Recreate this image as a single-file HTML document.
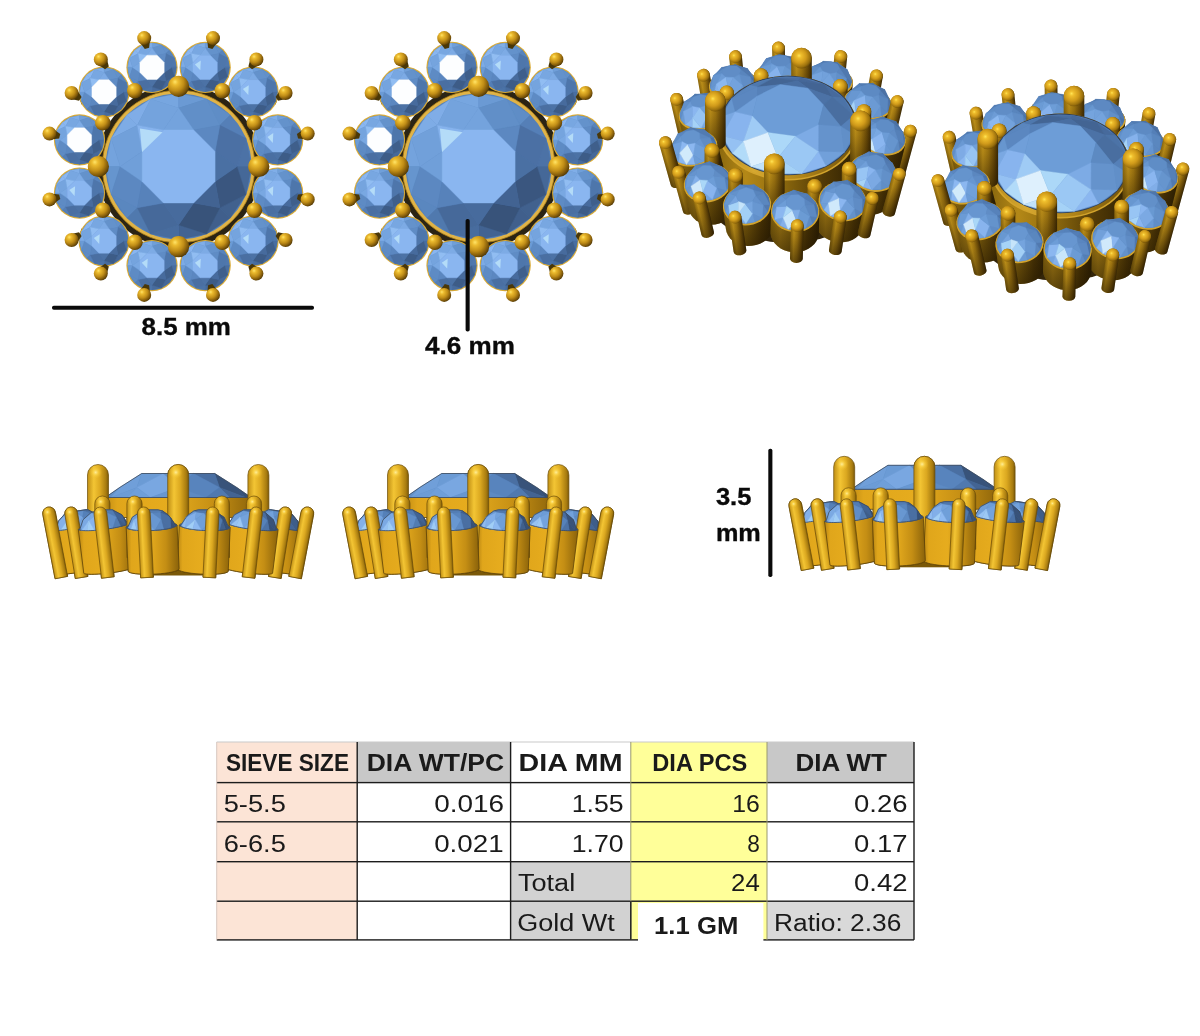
<!DOCTYPE html>
<html><head><meta charset="utf-8"><title>Earring spec</title>
<style>
html,body{margin:0;padding:0;background:#fff}
body{width:1200px;height:1036px;position:relative;overflow:hidden;font-family:"Liberation Sans",sans-serif}
</style></head><body>
<svg width="1200" height="1036" viewBox="0 0 1200 1036" style="position:absolute;left:0;top:0">
<defs>
<radialGradient id="gs" cx="0.36" cy="0.34" r="0.72" fx="0.33" fy="0.29">
 <stop offset="0" stop-color="#ffe468"/><stop offset="0.2" stop-color="#ecbb2e"/>
 <stop offset="0.55" stop-color="#c08d17"/><stop offset="0.82" stop-color="#80590a"/><stop offset="1" stop-color="#4a3405"/>
</radialGradient>
<radialGradient id="gs2" cx="0.4" cy="0.42" r="0.62" fx="0.38" fy="0.38">
 <stop offset="0" stop-color="#ffe455"/><stop offset="0.18" stop-color="#efbe2c"/>
 <stop offset="0.55" stop-color="#d09a1a"/><stop offset="0.85" stop-color="#9a700d"/><stop offset="1" stop-color="#6a4b07"/>
</radialGradient>
<linearGradient id="gsh" x1="0" y1="0" x2="0" y2="1">
 <stop offset="0" stop-color="#1a1000" stop-opacity="0"/><stop offset="0.3" stop-color="#1a1000" stop-opacity="0.12"/><stop offset="1" stop-color="#1a1000" stop-opacity="0.55"/>
</linearGradient>
<radialGradient id="hl" cx="0.5" cy="0.5" r="0.5">
 <stop offset="0" stop-color="#fff0a0" stop-opacity="0.95"/><stop offset="0.45" stop-color="#ffd84a" stop-opacity="0.55"/><stop offset="1" stop-color="#f0c030" stop-opacity="0"/>
</radialGradient>
<linearGradient id="gcap" x1="0" y1="0" x2="1" y2="0">
 <stop offset="0" stop-color="#8f6a0d"/><stop offset="0.26" stop-color="#c4951a"/>
 <stop offset="0.52" stop-color="#a57a11"/><stop offset="0.82" stop-color="#6a4a07"/><stop offset="1" stop-color="#3e2b04"/>
</linearGradient>
<linearGradient id="gcapS" x1="0" y1="0" x2="1" y2="0">
 <stop offset="0" stop-color="#c08f15"/><stop offset="0.3" stop-color="#f3c534"/>
 <stop offset="0.6" stop-color="#dba820"/><stop offset="0.88" stop-color="#a87c10"/><stop offset="1" stop-color="#7a5808"/>
</linearGradient>
<linearGradient id="gcyl" x1="0" y1="0" x2="1" y2="0">
 <stop offset="0" stop-color="#8a680e"/><stop offset="0.2" stop-color="#b48817"/>
 <stop offset="0.45" stop-color="#8f6b0e"/><stop offset="0.75" stop-color="#523a06"/><stop offset="1" stop-color="#2e2003"/>
</linearGradient>
<linearGradient id="glip" x1="0" y1="0" x2="1" y2="0">
 <stop offset="0" stop-color="#b88c1c"/><stop offset="0.25" stop-color="#d6a830"/>
 <stop offset="0.6" stop-color="#b08418"/><stop offset="1" stop-color="#6e500a"/>
</linearGradient>
<linearGradient id="gcylS" x1="0" y1="0" x2="1" y2="0">
 <stop offset="0" stop-color="#b98512"/><stop offset="0.1" stop-color="#e0a61b"/><stop offset="0.45" stop-color="#e6ac1e"/>
 <stop offset="0.75" stop-color="#c48e14"/><stop offset="1" stop-color="#8a620a"/>
</linearGradient>
</defs>
<g id="tv">
<circle cx="178.6" cy="166.5" r="82" fill="#2b2414"/>
<polygon points="150.6,36.4 137.8,39.8 151.9,51.6 144.3,53.6" fill="#4a3707" />
<polygon points="106.1,55.5 95.4,63.3 112.8,69.2 106.4,73.8" fill="#4a3707" />
<polygon points="75.4,87.5 67.9,98.4 86.2,98.2 81.7,104.7" fill="#4a3707" />
<polygon points="51.2,127.2 47.9,140.0 65.0,133.5 63.1,141.1" fill="#4a3707" />
<polygon points="137.8,293.2 150.6,296.6 144.3,279.4 151.9,281.4" fill="#4a3707" />
<polygon points="95.4,269.7 106.1,277.5 106.4,259.2 112.8,263.8" fill="#4a3707" />
<polygon points="67.9,234.6 75.4,245.5 81.7,228.3 86.2,234.8" fill="#4a3707" />
<polygon points="47.9,193.0 51.2,205.8 63.1,191.9 65.0,199.5" fill="#4a3707" />
<polygon points="219.4,39.8 206.6,36.4 212.9,53.6 205.3,51.6" fill="#4a3707" />
<polygon points="261.8,63.3 251.1,55.5 250.8,73.8 244.4,69.2" fill="#4a3707" />
<polygon points="289.3,98.4 281.8,87.5 275.5,104.7 271.0,98.2" fill="#4a3707" />
<polygon points="309.3,140.0 306.0,127.2 294.1,141.1 292.2,133.5" fill="#4a3707" />
<polygon points="206.6,296.6 219.4,293.2 205.3,281.4 212.9,279.4" fill="#4a3707" />
<polygon points="251.1,277.5 261.8,269.7 244.4,263.8 250.8,259.2" fill="#4a3707" />
<polygon points="281.8,245.5 289.3,234.6 271.0,234.8 275.5,228.3" fill="#4a3707" />
<polygon points="306.0,205.8 309.3,193.0 292.2,199.5 294.1,191.9" fill="#4a3707" />
<circle cx="152.0" cy="67.4" r="25.6" fill="#d9aa35"/>
<polygon points="127.8,67.4 127.9,64.9 128.3,62.3 128.9,59.9 129.6,58.1 129.8,57.5 131.0,55.2 132.4,53.1 134.0,51.1 134.9,50.2 135.8,49.3 137.8,47.7 139.9,46.4 142.2,45.2 142.8,45.0 144.5,44.3 147.0,43.6 149.5,43.2 152.1,43.1 154.6,43.2 157.1,43.6 159.6,44.3 161.3,45.0 161.9,45.2 164.2,46.4 166.3,47.7 168.3,49.3 169.2,50.2 170.1,51.1 171.7,53.1 173.1,55.2 174.2,57.5 174.5,58.1 175.2,59.9 175.8,62.3 176.2,64.9 176.3,67.4 176.2,69.9 175.8,72.5 175.2,74.9 174.5,76.7 174.2,77.3 173.1,79.5 171.7,81.7 170.1,83.7 169.2,84.6 168.3,85.5 166.3,87.1 164.2,88.4 161.9,89.6 161.3,89.8 159.6,90.5 157.1,91.2 154.6,91.6 152.1,91.7 149.5,91.6 147.0,91.2 144.5,90.5 142.8,89.8 142.2,89.6 139.9,88.4 137.8,87.1 135.8,85.5 134.9,84.6 134.0,83.7 132.4,81.7 131.0,79.5 129.8,77.3 129.6,76.7 128.9,74.9 128.3,72.5 127.9,69.9" fill="#5580b8" />
<polygon points="152.0,48.0 142.7,44.9 152.0,43.1" fill="#80aee8" stroke="#80aee8" stroke-width="0.4"/>
<polygon points="152.0,48.0 152.0,43.1 161.3,44.9" fill="#709fd9" stroke="#709fd9" stroke-width="0.4"/>
<polygon points="138.3,53.6 134.9,50.2 142.7,44.9" fill="#8bb7f0" stroke="#8bb7f0" stroke-width="0.4"/>
<polygon points="165.8,53.6 161.3,44.9 169.2,50.2" fill="#6391ca" stroke="#6391ca" stroke-width="0.4"/>
<polygon points="138.3,53.6 129.6,58.1 134.9,50.2" fill="#8ab6f0" stroke="#8ab6f0" stroke-width="0.4"/>
<polygon points="165.8,53.6 169.2,50.2 174.5,58.1" fill="#5884bc" stroke="#5884bc" stroke-width="0.4"/>
<polygon points="171.5,67.4 174.5,58.1 176.3,67.4" fill="#5078ad" stroke="#5078ad" stroke-width="0.4"/>
<polygon points="132.6,67.4 127.7,67.4 129.6,58.1" fill="#7dabe5" stroke="#7dabe5" stroke-width="0.4"/>
<polygon points="171.5,67.4 176.3,67.4 174.5,76.7" fill="#496ea1" stroke="#496ea1" stroke-width="0.4"/>
<polygon points="132.6,67.4 129.6,76.7 127.7,67.4" fill="#6b9bd5" stroke="#6b9bd5" stroke-width="0.4"/>
<polygon points="165.8,81.1 174.5,76.7 169.2,84.6" fill="#466999" stroke="#466999" stroke-width="0.4"/>
<polygon points="138.3,81.1 134.9,84.6 129.6,76.7" fill="#5e8bc4" stroke="#5e8bc4" stroke-width="0.4"/>
<polygon points="165.8,81.1 169.2,84.6 161.3,89.8" fill="#456798" stroke="#456798" stroke-width="0.4"/>
<polygon points="138.3,81.1 142.7,89.8 134.9,84.6" fill="#547eb6" stroke="#547eb6" stroke-width="0.4"/>
<polygon points="152.0,86.8 161.3,89.8 152.0,91.7" fill="#476b9d" stroke="#476b9d" stroke-width="0.4"/>
<polygon points="152.0,86.8 152.0,91.7 142.7,89.8" fill="#4c73a7" stroke="#4c73a7" stroke-width="0.4"/>
<polygon points="147.0,55.2 138.3,53.6 142.7,44.9 152.0,48.0" fill="#78a7e1" stroke="#78a7e1" stroke-width="0.4"/>
<polygon points="157.1,55.2 152.0,48.0 161.3,44.9 165.8,53.6" fill="#6492cb" stroke="#6492cb" stroke-width="0.4"/>
<polygon points="139.9,62.4 132.6,67.4 129.6,58.1 138.3,53.6" fill="#75a4de" stroke="#75a4de" stroke-width="0.4"/>
<polygon points="164.2,62.4 165.8,53.6 174.5,58.1 171.5,67.4" fill="#4e76ab" stroke="#4e76ab" stroke-width="0.4"/>
<polygon points="164.2,72.4 171.5,67.4 174.5,76.7 165.8,81.1" fill="#3f5f8b" stroke="#3f5f8b" stroke-width="0.4"/>
<polygon points="139.9,72.4 138.3,81.1 129.6,76.7 132.6,67.4" fill="#5e8bc4" stroke="#5e8bc4" stroke-width="0.4"/>
<polygon points="157.1,79.5 165.8,81.1 161.3,89.8 152.0,86.8" fill="#3d5c87" stroke="#3d5c87" stroke-width="0.4"/>
<polygon points="147.0,79.5 152.0,86.8 142.7,89.8 138.3,81.1" fill="#4a6fa2" stroke="#4a6fa2" stroke-width="0.4"/>
<polygon points="139.9,62.4 138.3,53.6 147.0,55.2" fill="#91bdf2" stroke="#91bdf2" stroke-width="0.4"/>
<polygon points="147.0,55.2 152.0,48.0 157.1,55.2" fill="#7dabe5" stroke="#7dabe5" stroke-width="0.4"/>
<polygon points="157.1,55.2 165.8,53.6 164.2,62.4" fill="#5f8cc5" stroke="#5f8cc5" stroke-width="0.4"/>
<polygon points="164.2,62.4 171.5,67.4 164.2,72.4" fill="#4e76ab" stroke="#4e76ab" stroke-width="0.4"/>
<polygon points="139.9,72.4 132.6,67.4 139.9,62.4" fill="#79a8e2" stroke="#79a8e2" stroke-width="0.4"/>
<polygon points="164.2,72.4 165.8,81.1 157.1,79.5" fill="#476b9d" stroke="#476b9d" stroke-width="0.4"/>
<polygon points="157.1,79.5 152.0,86.8 147.0,79.5" fill="#4c72a5" stroke="#4c72a5" stroke-width="0.4"/>
<polygon points="147.0,79.5 138.3,81.1 139.9,72.4" fill="#5b87c0" stroke="#5b87c0" stroke-width="0.4"/>
<polygon points="164.2,72.4 157.1,79.5 147.0,79.5 139.9,72.4 139.9,62.4 147.0,55.2 157.1,55.2 164.2,62.4" fill="#fdfeff" stroke="#fdfeff" stroke-width="0.4"/>
<circle cx="205.2" cy="67.4" r="25.6" fill="#d9aa35"/>
<polygon points="180.8,67.4 181.0,64.9 181.4,62.3 182.0,59.9 182.7,58.1 183.0,57.5 184.1,55.2 185.5,53.1 187.1,51.1 188.0,50.2 188.9,49.3 190.9,47.7 193.0,46.4 195.3,45.2 195.9,45.0 197.7,44.3 200.1,43.6 202.6,43.2 205.2,43.1 207.7,43.2 210.2,43.6 212.7,44.3 214.4,45.0 215.0,45.2 217.3,46.4 219.4,47.7 221.4,49.3 222.3,50.2 223.2,51.1 224.8,53.1 226.2,55.2 227.3,57.5 227.6,58.1 228.3,59.9 228.9,62.3 229.3,64.9 229.4,67.4 229.3,69.9 228.9,72.5 228.3,74.9 227.6,76.7 227.3,77.3 226.2,79.5 224.8,81.7 223.2,83.7 222.3,84.6 221.4,85.5 219.4,87.1 217.3,88.4 215.0,89.6 214.4,89.8 212.7,90.5 210.2,91.2 207.7,91.6 205.2,91.7 202.6,91.6 200.1,91.2 197.7,90.5 195.9,89.8 195.3,89.6 193.0,88.4 190.9,87.1 188.9,85.5 188.0,84.6 187.1,83.7 185.5,81.7 184.1,79.5 183.0,77.3 182.7,76.7 182.0,74.9 181.4,72.5 181.0,69.9" fill="#5580b8" />
<polygon points="205.2,48.0 195.9,44.9 205.2,43.1" fill="#80aee8" stroke="#80aee8" stroke-width="0.4"/>
<polygon points="205.2,48.0 205.2,43.1 214.5,44.9" fill="#709fd9" stroke="#709fd9" stroke-width="0.4"/>
<polygon points="191.4,53.6 188.0,50.2 195.9,44.9" fill="#8bb7f0" stroke="#8bb7f0" stroke-width="0.4"/>
<polygon points="218.9,53.6 214.5,44.9 222.3,50.2" fill="#6391ca" stroke="#6391ca" stroke-width="0.4"/>
<polygon points="191.4,53.6 182.7,58.1 188.0,50.2" fill="#8ab6f0" stroke="#8ab6f0" stroke-width="0.4"/>
<polygon points="218.9,53.6 222.3,50.2 227.6,58.1" fill="#5884bc" stroke="#5884bc" stroke-width="0.4"/>
<polygon points="224.6,67.4 227.6,58.1 229.5,67.4" fill="#5078ad" stroke="#5078ad" stroke-width="0.4"/>
<polygon points="185.7,67.4 180.9,67.4 182.7,58.1" fill="#7dabe5" stroke="#7dabe5" stroke-width="0.4"/>
<polygon points="224.6,67.4 229.5,67.4 227.6,76.7" fill="#496ea1" stroke="#496ea1" stroke-width="0.4"/>
<polygon points="185.7,67.4 182.7,76.7 180.9,67.4" fill="#6b9bd5" stroke="#6b9bd5" stroke-width="0.4"/>
<polygon points="218.9,81.1 227.6,76.7 222.3,84.6" fill="#466999" stroke="#466999" stroke-width="0.4"/>
<polygon points="191.4,81.1 188.0,84.6 182.7,76.7" fill="#5e8bc4" stroke="#5e8bc4" stroke-width="0.4"/>
<polygon points="218.9,81.1 222.3,84.6 214.5,89.8" fill="#456798" stroke="#456798" stroke-width="0.4"/>
<polygon points="191.4,81.1 195.9,89.8 188.0,84.6" fill="#547eb6" stroke="#547eb6" stroke-width="0.4"/>
<polygon points="205.2,86.8 214.5,89.8 205.2,91.7" fill="#476b9d" stroke="#476b9d" stroke-width="0.4"/>
<polygon points="205.2,86.8 205.2,91.7 195.9,89.8" fill="#4c73a7" stroke="#4c73a7" stroke-width="0.4"/>
<polygon points="200.1,55.2 191.4,53.6 195.9,44.9 205.2,48.0" fill="#78a7e1" stroke="#78a7e1" stroke-width="0.4"/>
<polygon points="210.2,55.2 205.2,48.0 214.5,44.9 218.9,53.6" fill="#6492cb" stroke="#6492cb" stroke-width="0.4"/>
<polygon points="193.0,62.4 185.7,67.4 182.7,58.1 191.4,53.6" fill="#75a4de" stroke="#75a4de" stroke-width="0.4"/>
<polygon points="217.3,62.4 218.9,53.6 227.6,58.1 224.6,67.4" fill="#4e76ab" stroke="#4e76ab" stroke-width="0.4"/>
<polygon points="217.3,72.4 224.6,67.4 227.6,76.7 218.9,81.1" fill="#3f5f8b" stroke="#3f5f8b" stroke-width="0.4"/>
<polygon points="193.0,72.4 191.4,81.1 182.7,76.7 185.7,67.4" fill="#5e8bc4" stroke="#5e8bc4" stroke-width="0.4"/>
<polygon points="210.2,79.5 218.9,81.1 214.5,89.8 205.2,86.8" fill="#3d5c87" stroke="#3d5c87" stroke-width="0.4"/>
<polygon points="200.1,79.5 205.2,86.8 195.9,89.8 191.4,81.1" fill="#4a6fa2" stroke="#4a6fa2" stroke-width="0.4"/>
<polygon points="193.0,62.4 191.4,53.6 200.1,55.2" fill="#91bdf2" stroke="#91bdf2" stroke-width="0.4"/>
<polygon points="200.1,55.2 205.2,48.0 210.2,55.2" fill="#7dabe5" stroke="#7dabe5" stroke-width="0.4"/>
<polygon points="210.2,55.2 218.9,53.6 217.3,62.4" fill="#5f8cc5" stroke="#5f8cc5" stroke-width="0.4"/>
<polygon points="217.3,62.4 224.6,67.4 217.3,72.4" fill="#4e76ab" stroke="#4e76ab" stroke-width="0.4"/>
<polygon points="193.0,72.4 185.7,67.4 193.0,62.4" fill="#79a8e2" stroke="#79a8e2" stroke-width="0.4"/>
<polygon points="217.3,72.4 218.9,81.1 210.2,79.5" fill="#476b9d" stroke="#476b9d" stroke-width="0.4"/>
<polygon points="210.2,79.5 205.2,86.8 200.1,79.5" fill="#4c72a5" stroke="#4c72a5" stroke-width="0.4"/>
<polygon points="200.1,79.5 191.4,81.1 193.0,72.4" fill="#5b87c0" stroke="#5b87c0" stroke-width="0.4"/>
<polygon points="217.3,72.4 210.2,79.5 200.1,79.5 193.0,72.4 193.0,62.4 200.1,55.2 210.2,55.2 217.3,62.4" fill="#8ab6f0" stroke="#8ab6f0" stroke-width="0.4"/>
<polygon points="194.9,64.5 200.8,60.6 200.3,70.3" fill="#b4dcf8" />
<circle cx="253.1" cy="92.0" r="25.6" fill="#d9aa35"/>
<polygon points="228.8,92.0 229.0,89.4 229.4,86.9 230.0,84.5 230.7,82.7 230.9,82.1 232.1,79.8 233.5,77.7 235.1,75.7 235.9,74.8 236.9,73.9 238.8,72.3 241.0,70.9 243.2,69.8 243.8,69.5 245.6,68.9 248.1,68.2 250.6,67.8 253.1,67.7 255.7,67.8 258.2,68.2 260.6,68.9 262.4,69.5 263.0,69.8 265.3,70.9 267.4,72.3 269.4,73.9 270.3,74.8 271.2,75.7 272.8,77.7 274.2,79.8 275.3,82.1 275.6,82.7 276.2,84.5 276.9,86.9 277.3,89.4 277.4,92.0 277.3,94.5 276.9,97.0 276.2,99.5 275.6,101.3 275.3,101.8 274.2,104.1 272.8,106.2 271.2,108.2 270.3,109.2 269.4,110.0 267.4,111.6 265.3,113.0 263.0,114.2 262.4,114.4 260.6,115.1 258.2,115.7 255.7,116.1 253.1,116.3 250.6,116.1 248.1,115.7 245.6,115.1 243.8,114.4 243.2,114.2 241.0,113.0 238.8,111.6 236.9,110.0 235.9,109.2 235.1,108.2 233.5,106.2 232.1,104.1 230.9,101.8 230.7,101.3 230.0,99.5 229.4,97.0 229.0,94.5" fill="#5580b8" />
<polygon points="253.1,72.5 243.8,69.5 253.1,67.7" fill="#80aee8" stroke="#80aee8" stroke-width="0.4"/>
<polygon points="253.1,72.5 253.1,67.7 262.4,69.5" fill="#709fd9" stroke="#709fd9" stroke-width="0.4"/>
<polygon points="239.4,78.2 235.9,74.8 243.8,69.5" fill="#8bb7f0" stroke="#8bb7f0" stroke-width="0.4"/>
<polygon points="266.9,78.2 262.4,69.5 270.3,74.8" fill="#6391ca" stroke="#6391ca" stroke-width="0.4"/>
<polygon points="239.4,78.2 230.7,82.7 235.9,74.8" fill="#8ab6f0" stroke="#8ab6f0" stroke-width="0.4"/>
<polygon points="266.9,78.2 270.3,74.8 275.6,82.7" fill="#5884bc" stroke="#5884bc" stroke-width="0.4"/>
<polygon points="272.6,92.0 275.6,82.7 277.4,92.0" fill="#5078ad" stroke="#5078ad" stroke-width="0.4"/>
<polygon points="233.7,92.0 228.8,92.0 230.7,82.7" fill="#7dabe5" stroke="#7dabe5" stroke-width="0.4"/>
<polygon points="272.6,92.0 277.4,92.0 275.6,101.3" fill="#496ea1" stroke="#496ea1" stroke-width="0.4"/>
<polygon points="233.7,92.0 230.7,101.3 228.8,92.0" fill="#6b9bd5" stroke="#6b9bd5" stroke-width="0.4"/>
<polygon points="266.9,105.7 275.6,101.3 270.3,109.2" fill="#466999" stroke="#466999" stroke-width="0.4"/>
<polygon points="239.4,105.7 235.9,109.2 230.7,101.3" fill="#5e8bc4" stroke="#5e8bc4" stroke-width="0.4"/>
<polygon points="266.9,105.7 270.3,109.2 262.4,114.4" fill="#456798" stroke="#456798" stroke-width="0.4"/>
<polygon points="239.4,105.7 243.8,114.4 235.9,109.2" fill="#547eb6" stroke="#547eb6" stroke-width="0.4"/>
<polygon points="253.1,111.4 262.4,114.4 253.1,116.3" fill="#476b9d" stroke="#476b9d" stroke-width="0.4"/>
<polygon points="253.1,111.4 253.1,116.3 243.8,114.4" fill="#4c73a7" stroke="#4c73a7" stroke-width="0.4"/>
<polygon points="248.1,79.8 239.4,78.2 243.8,69.5 253.1,72.5" fill="#78a7e1" stroke="#78a7e1" stroke-width="0.4"/>
<polygon points="258.2,79.8 253.1,72.5 262.4,69.5 266.9,78.2" fill="#6492cb" stroke="#6492cb" stroke-width="0.4"/>
<polygon points="241.0,86.9 233.7,92.0 230.7,82.7 239.4,78.2" fill="#75a4de" stroke="#75a4de" stroke-width="0.4"/>
<polygon points="265.3,86.9 266.9,78.2 275.6,82.7 272.6,92.0" fill="#4e76ab" stroke="#4e76ab" stroke-width="0.4"/>
<polygon points="265.3,97.0 272.6,92.0 275.6,101.3 266.9,105.7" fill="#3f5f8b" stroke="#3f5f8b" stroke-width="0.4"/>
<polygon points="241.0,97.0 239.4,105.7 230.7,101.3 233.7,92.0" fill="#5e8bc4" stroke="#5e8bc4" stroke-width="0.4"/>
<polygon points="258.2,104.1 266.9,105.7 262.4,114.4 253.1,111.4" fill="#3d5c87" stroke="#3d5c87" stroke-width="0.4"/>
<polygon points="248.1,104.1 253.1,111.4 243.8,114.4 239.4,105.7" fill="#4a6fa2" stroke="#4a6fa2" stroke-width="0.4"/>
<polygon points="241.0,86.9 239.4,78.2 248.1,79.8" fill="#91bdf2" stroke="#91bdf2" stroke-width="0.4"/>
<polygon points="248.1,79.8 253.1,72.5 258.2,79.8" fill="#7dabe5" stroke="#7dabe5" stroke-width="0.4"/>
<polygon points="258.2,79.8 266.9,78.2 265.3,86.9" fill="#5f8cc5" stroke="#5f8cc5" stroke-width="0.4"/>
<polygon points="265.3,86.9 272.6,92.0 265.3,97.0" fill="#4e76ab" stroke="#4e76ab" stroke-width="0.4"/>
<polygon points="241.0,97.0 233.7,92.0 241.0,86.9" fill="#79a8e2" stroke="#79a8e2" stroke-width="0.4"/>
<polygon points="265.3,97.0 266.9,105.7 258.2,104.1" fill="#476b9d" stroke="#476b9d" stroke-width="0.4"/>
<polygon points="258.2,104.1 253.1,111.4 248.1,104.1" fill="#4c72a5" stroke="#4c72a5" stroke-width="0.4"/>
<polygon points="248.1,104.1 239.4,105.7 241.0,97.0" fill="#5b87c0" stroke="#5b87c0" stroke-width="0.4"/>
<polygon points="265.3,97.0 258.2,104.1 248.1,104.1 241.0,97.0 241.0,86.9 248.1,79.8 258.2,79.8 265.3,86.9" fill="#8ab6f0" stroke="#8ab6f0" stroke-width="0.4"/>
<polygon points="242.9,89.1 248.8,85.2 248.3,94.9" fill="#b4dcf8" />
<circle cx="277.7" cy="139.9" r="25.6" fill="#d9aa35"/>
<polygon points="253.4,139.9 253.5,137.4 253.9,134.9 254.6,132.4 255.2,130.7 255.5,130.1 256.7,127.8 258.0,125.7 259.6,123.7 260.5,122.8 261.4,121.9 263.4,120.3 265.6,118.9 267.8,117.8 268.4,117.5 270.2,116.8 272.6,116.2 275.2,115.8 277.7,115.7 280.2,115.8 282.8,116.2 285.2,116.8 287.0,117.5 287.6,117.8 289.9,118.9 292.0,120.3 294.0,121.9 294.9,122.8 295.8,123.7 297.4,125.7 298.8,127.8 299.9,130.1 300.1,130.7 300.8,132.4 301.5,134.9 301.9,137.4 302.0,139.9 301.9,142.5 301.5,145.0 300.8,147.4 300.1,149.2 299.9,149.8 298.8,152.1 297.4,154.2 295.8,156.2 294.9,157.1 294.0,158.0 292.0,159.6 289.9,161.0 287.6,162.1 287.0,162.4 285.2,163.1 282.8,163.7 280.2,164.1 277.7,164.2 275.2,164.1 272.6,163.7 270.2,163.1 268.4,162.4 267.8,162.1 265.6,161.0 263.4,159.6 261.4,158.0 260.5,157.1 259.6,156.2 258.0,154.2 256.7,152.1 255.5,149.8 255.2,149.2 254.6,147.4 253.9,145.0 253.5,142.5" fill="#5580b8" />
<polygon points="277.7,120.5 268.4,117.5 277.7,115.6" fill="#80aee8" stroke="#80aee8" stroke-width="0.4"/>
<polygon points="277.7,120.5 277.7,115.6 287.0,117.5" fill="#709fd9" stroke="#709fd9" stroke-width="0.4"/>
<polygon points="264.0,126.2 260.5,122.8 268.4,117.5" fill="#8bb7f0" stroke="#8bb7f0" stroke-width="0.4"/>
<polygon points="291.5,126.2 287.0,117.5 294.9,122.8" fill="#6391ca" stroke="#6391ca" stroke-width="0.4"/>
<polygon points="264.0,126.2 255.3,130.6 260.5,122.8" fill="#8ab6f0" stroke="#8ab6f0" stroke-width="0.4"/>
<polygon points="291.5,126.2 294.9,122.8 300.2,130.6" fill="#5884bc" stroke="#5884bc" stroke-width="0.4"/>
<polygon points="297.1,139.9 300.2,130.6 302.0,139.9" fill="#5078ad" stroke="#5078ad" stroke-width="0.4"/>
<polygon points="258.3,139.9 253.4,139.9 255.3,130.6" fill="#7dabe5" stroke="#7dabe5" stroke-width="0.4"/>
<polygon points="297.1,139.9 302.0,139.9 300.2,149.2" fill="#496ea1" stroke="#496ea1" stroke-width="0.4"/>
<polygon points="258.3,139.9 255.3,149.2 253.4,139.9" fill="#6b9bd5" stroke="#6b9bd5" stroke-width="0.4"/>
<polygon points="291.5,153.7 300.2,149.2 294.9,157.1" fill="#466999" stroke="#466999" stroke-width="0.4"/>
<polygon points="264.0,153.7 260.5,157.1 255.3,149.2" fill="#5e8bc4" stroke="#5e8bc4" stroke-width="0.4"/>
<polygon points="291.5,153.7 294.9,157.1 287.0,162.4" fill="#456798" stroke="#456798" stroke-width="0.4"/>
<polygon points="264.0,153.7 268.4,162.4 260.5,157.1" fill="#547eb6" stroke="#547eb6" stroke-width="0.4"/>
<polygon points="277.7,159.4 287.0,162.4 277.7,164.2" fill="#476b9d" stroke="#476b9d" stroke-width="0.4"/>
<polygon points="277.7,159.4 277.7,164.2 268.4,162.4" fill="#4c73a7" stroke="#4c73a7" stroke-width="0.4"/>
<polygon points="272.7,127.8 264.0,126.2 268.4,117.5 277.7,120.5" fill="#78a7e1" stroke="#78a7e1" stroke-width="0.4"/>
<polygon points="282.7,127.8 277.7,120.5 287.0,117.5 291.5,126.2" fill="#6492cb" stroke="#6492cb" stroke-width="0.4"/>
<polygon points="265.6,134.9 258.3,139.9 255.3,130.6 264.0,126.2" fill="#75a4de" stroke="#75a4de" stroke-width="0.4"/>
<polygon points="289.9,134.9 291.5,126.2 300.2,130.6 297.1,139.9" fill="#4e76ab" stroke="#4e76ab" stroke-width="0.4"/>
<polygon points="289.9,145.0 297.1,139.9 300.2,149.2 291.5,153.7" fill="#3f5f8b" stroke="#3f5f8b" stroke-width="0.4"/>
<polygon points="265.6,145.0 264.0,153.7 255.3,149.2 258.3,139.9" fill="#5e8bc4" stroke="#5e8bc4" stroke-width="0.4"/>
<polygon points="282.7,152.1 291.5,153.7 287.0,162.4 277.7,159.4" fill="#3d5c87" stroke="#3d5c87" stroke-width="0.4"/>
<polygon points="272.7,152.1 277.7,159.4 268.4,162.4 264.0,153.7" fill="#4a6fa2" stroke="#4a6fa2" stroke-width="0.4"/>
<polygon points="265.6,134.9 264.0,126.2 272.7,127.8" fill="#91bdf2" stroke="#91bdf2" stroke-width="0.4"/>
<polygon points="272.7,127.8 277.7,120.5 282.7,127.8" fill="#7dabe5" stroke="#7dabe5" stroke-width="0.4"/>
<polygon points="282.7,127.8 291.5,126.2 289.9,134.9" fill="#5f8cc5" stroke="#5f8cc5" stroke-width="0.4"/>
<polygon points="289.9,134.9 297.1,139.9 289.9,145.0" fill="#4e76ab" stroke="#4e76ab" stroke-width="0.4"/>
<polygon points="265.6,145.0 258.3,139.9 265.6,134.9" fill="#79a8e2" stroke="#79a8e2" stroke-width="0.4"/>
<polygon points="289.9,145.0 291.5,153.7 282.7,152.1" fill="#476b9d" stroke="#476b9d" stroke-width="0.4"/>
<polygon points="282.7,152.1 277.7,159.4 272.7,152.1" fill="#4c72a5" stroke="#4c72a5" stroke-width="0.4"/>
<polygon points="272.7,152.1 264.0,153.7 265.6,145.0" fill="#5b87c0" stroke="#5b87c0" stroke-width="0.4"/>
<polygon points="289.9,145.0 282.7,152.1 272.7,152.1 265.6,145.0 265.6,134.9 272.7,127.8 282.7,127.8 289.9,134.9" fill="#8ab6f0" stroke="#8ab6f0" stroke-width="0.4"/>
<polygon points="267.5,137.0 273.3,133.1 272.8,142.9" fill="#b4dcf8" />
<circle cx="277.7" cy="193.1" r="25.6" fill="#d9aa35"/>
<polygon points="253.4,193.1 253.5,190.5 253.9,188.0 254.6,185.6 255.2,183.8 255.5,183.2 256.7,180.9 258.0,178.8 259.6,176.8 260.5,175.9 261.4,175.0 263.4,173.4 265.6,172.0 267.8,170.9 268.4,170.6 270.2,169.9 272.6,169.3 275.2,168.9 277.7,168.8 280.2,168.9 282.8,169.3 285.2,169.9 287.0,170.6 287.6,170.9 289.9,172.0 292.0,173.4 294.0,175.0 294.9,175.9 295.8,176.8 297.4,178.8 298.8,180.9 299.9,183.2 300.1,183.8 300.8,185.6 301.5,188.0 301.9,190.5 302.0,193.1 301.9,195.6 301.5,198.1 300.8,200.6 300.1,202.3 299.9,202.9 298.8,205.2 297.4,207.3 295.8,209.3 294.9,210.2 294.0,211.1 292.0,212.7 289.9,214.1 287.6,215.2 287.0,215.5 285.2,216.2 282.8,216.8 280.2,217.2 277.7,217.3 275.2,217.2 272.6,216.8 270.2,216.2 268.4,215.5 267.8,215.2 265.6,214.1 263.4,212.7 261.4,211.1 260.5,210.2 259.6,209.3 258.0,207.3 256.7,205.2 255.5,202.9 255.2,202.3 254.6,200.6 253.9,198.1 253.5,195.6" fill="#5580b8" />
<polygon points="277.7,173.6 268.4,170.6 277.7,168.8" fill="#80aee8" stroke="#80aee8" stroke-width="0.4"/>
<polygon points="277.7,173.6 277.7,168.8 287.0,170.6" fill="#709fd9" stroke="#709fd9" stroke-width="0.4"/>
<polygon points="264.0,179.3 260.5,175.9 268.4,170.6" fill="#8bb7f0" stroke="#8bb7f0" stroke-width="0.4"/>
<polygon points="291.5,179.3 287.0,170.6 294.9,175.9" fill="#6391ca" stroke="#6391ca" stroke-width="0.4"/>
<polygon points="264.0,179.3 255.3,183.8 260.5,175.9" fill="#8ab6f0" stroke="#8ab6f0" stroke-width="0.4"/>
<polygon points="291.5,179.3 294.9,175.9 300.2,183.8" fill="#5884bc" stroke="#5884bc" stroke-width="0.4"/>
<polygon points="297.1,193.1 300.2,183.8 302.0,193.1" fill="#5078ad" stroke="#5078ad" stroke-width="0.4"/>
<polygon points="258.3,193.1 253.4,193.1 255.3,183.8" fill="#7dabe5" stroke="#7dabe5" stroke-width="0.4"/>
<polygon points="297.1,193.1 302.0,193.1 300.2,202.4" fill="#496ea1" stroke="#496ea1" stroke-width="0.4"/>
<polygon points="258.3,193.1 255.3,202.4 253.4,193.1" fill="#6b9bd5" stroke="#6b9bd5" stroke-width="0.4"/>
<polygon points="291.5,206.8 300.2,202.4 294.9,210.2" fill="#466999" stroke="#466999" stroke-width="0.4"/>
<polygon points="264.0,206.8 260.5,210.2 255.3,202.4" fill="#5e8bc4" stroke="#5e8bc4" stroke-width="0.4"/>
<polygon points="291.5,206.8 294.9,210.2 287.0,215.5" fill="#456798" stroke="#456798" stroke-width="0.4"/>
<polygon points="264.0,206.8 268.4,215.5 260.5,210.2" fill="#547eb6" stroke="#547eb6" stroke-width="0.4"/>
<polygon points="277.7,212.5 287.0,215.5 277.7,217.4" fill="#476b9d" stroke="#476b9d" stroke-width="0.4"/>
<polygon points="277.7,212.5 277.7,217.4 268.4,215.5" fill="#4c73a7" stroke="#4c73a7" stroke-width="0.4"/>
<polygon points="272.7,180.9 264.0,179.3 268.4,170.6 277.7,173.6" fill="#78a7e1" stroke="#78a7e1" stroke-width="0.4"/>
<polygon points="282.7,180.9 277.7,173.6 287.0,170.6 291.5,179.3" fill="#6492cb" stroke="#6492cb" stroke-width="0.4"/>
<polygon points="265.6,188.0 258.3,193.1 255.3,183.8 264.0,179.3" fill="#75a4de" stroke="#75a4de" stroke-width="0.4"/>
<polygon points="289.9,188.0 291.5,179.3 300.2,183.8 297.1,193.1" fill="#4e76ab" stroke="#4e76ab" stroke-width="0.4"/>
<polygon points="289.9,198.1 297.1,193.1 300.2,202.4 291.5,206.8" fill="#3f5f8b" stroke="#3f5f8b" stroke-width="0.4"/>
<polygon points="265.6,198.1 264.0,206.8 255.3,202.4 258.3,193.1" fill="#5e8bc4" stroke="#5e8bc4" stroke-width="0.4"/>
<polygon points="282.7,205.2 291.5,206.8 287.0,215.5 277.7,212.5" fill="#3d5c87" stroke="#3d5c87" stroke-width="0.4"/>
<polygon points="272.7,205.2 277.7,212.5 268.4,215.5 264.0,206.8" fill="#4a6fa2" stroke="#4a6fa2" stroke-width="0.4"/>
<polygon points="265.6,188.0 264.0,179.3 272.7,180.9" fill="#91bdf2" stroke="#91bdf2" stroke-width="0.4"/>
<polygon points="272.7,180.9 277.7,173.6 282.7,180.9" fill="#7dabe5" stroke="#7dabe5" stroke-width="0.4"/>
<polygon points="282.7,180.9 291.5,179.3 289.9,188.0" fill="#5f8cc5" stroke="#5f8cc5" stroke-width="0.4"/>
<polygon points="289.9,188.0 297.1,193.1 289.9,198.1" fill="#4e76ab" stroke="#4e76ab" stroke-width="0.4"/>
<polygon points="265.6,198.1 258.3,193.1 265.6,188.0" fill="#79a8e2" stroke="#79a8e2" stroke-width="0.4"/>
<polygon points="289.9,198.1 291.5,206.8 282.7,205.2" fill="#476b9d" stroke="#476b9d" stroke-width="0.4"/>
<polygon points="282.7,205.2 277.7,212.5 272.7,205.2" fill="#4c72a5" stroke="#4c72a5" stroke-width="0.4"/>
<polygon points="272.7,205.2 264.0,206.8 265.6,198.1" fill="#5b87c0" stroke="#5b87c0" stroke-width="0.4"/>
<polygon points="289.9,198.1 282.7,205.2 272.7,205.2 265.6,198.1 265.6,188.0 272.7,180.9 282.7,180.9 289.9,188.0" fill="#8ab6f0" stroke="#8ab6f0" stroke-width="0.4"/>
<polygon points="267.5,190.1 273.3,186.3 272.8,196.0" fill="#b4dcf8" />
<circle cx="253.1" cy="241.0" r="25.6" fill="#d9aa35"/>
<polygon points="228.8,241.0 229.0,238.5 229.4,236.0 230.0,233.5 230.7,231.7 230.9,231.2 232.1,228.9 233.5,226.8 235.1,224.8 235.9,223.8 236.9,223.0 238.8,221.4 241.0,220.0 243.2,218.8 243.8,218.6 245.6,217.9 248.1,217.3 250.6,216.9 253.1,216.7 255.7,216.9 258.2,217.3 260.6,217.9 262.4,218.6 263.0,218.8 265.3,220.0 267.4,221.4 269.4,223.0 270.3,223.8 271.2,224.8 272.8,226.8 274.2,228.9 275.3,231.2 275.6,231.7 276.2,233.5 276.9,236.0 277.3,238.5 277.4,241.0 277.3,243.6 276.9,246.1 276.2,248.5 275.6,250.3 275.3,250.9 274.2,253.2 272.8,255.3 271.2,257.3 270.3,258.2 269.4,259.1 267.4,260.7 265.3,262.1 263.0,263.2 262.4,263.5 260.6,264.1 258.2,264.8 255.7,265.2 253.1,265.3 250.6,265.2 248.1,264.8 245.6,264.1 243.8,263.5 243.2,263.2 241.0,262.1 238.8,260.7 236.9,259.1 235.9,258.2 235.1,257.3 233.5,255.3 232.1,253.2 230.9,250.9 230.7,250.3 230.0,248.5 229.4,246.1 229.0,243.6" fill="#5580b8" />
<polygon points="253.1,221.6 243.8,218.6 253.1,216.7" fill="#80aee8" stroke="#80aee8" stroke-width="0.4"/>
<polygon points="253.1,221.6 253.1,216.7 262.4,218.6" fill="#709fd9" stroke="#709fd9" stroke-width="0.4"/>
<polygon points="239.4,227.3 235.9,223.8 243.8,218.6" fill="#8bb7f0" stroke="#8bb7f0" stroke-width="0.4"/>
<polygon points="266.9,227.3 262.4,218.6 270.3,223.8" fill="#6391ca" stroke="#6391ca" stroke-width="0.4"/>
<polygon points="239.4,227.3 230.7,231.7 235.9,223.8" fill="#8ab6f0" stroke="#8ab6f0" stroke-width="0.4"/>
<polygon points="266.9,227.3 270.3,223.8 275.6,231.7" fill="#5884bc" stroke="#5884bc" stroke-width="0.4"/>
<polygon points="272.6,241.0 275.6,231.7 277.4,241.0" fill="#5078ad" stroke="#5078ad" stroke-width="0.4"/>
<polygon points="233.7,241.0 228.8,241.0 230.7,231.7" fill="#7dabe5" stroke="#7dabe5" stroke-width="0.4"/>
<polygon points="272.6,241.0 277.4,241.0 275.6,250.3" fill="#496ea1" stroke="#496ea1" stroke-width="0.4"/>
<polygon points="233.7,241.0 230.7,250.3 228.8,241.0" fill="#6b9bd5" stroke="#6b9bd5" stroke-width="0.4"/>
<polygon points="266.9,254.8 275.6,250.3 270.3,258.2" fill="#466999" stroke="#466999" stroke-width="0.4"/>
<polygon points="239.4,254.8 235.9,258.2 230.7,250.3" fill="#5e8bc4" stroke="#5e8bc4" stroke-width="0.4"/>
<polygon points="266.9,254.8 270.3,258.2 262.4,263.5" fill="#456798" stroke="#456798" stroke-width="0.4"/>
<polygon points="239.4,254.8 243.8,263.5 235.9,258.2" fill="#547eb6" stroke="#547eb6" stroke-width="0.4"/>
<polygon points="253.1,260.5 262.4,263.5 253.1,265.3" fill="#476b9d" stroke="#476b9d" stroke-width="0.4"/>
<polygon points="253.1,260.5 253.1,265.3 243.8,263.5" fill="#4c73a7" stroke="#4c73a7" stroke-width="0.4"/>
<polygon points="248.1,228.9 239.4,227.3 243.8,218.6 253.1,221.6" fill="#78a7e1" stroke="#78a7e1" stroke-width="0.4"/>
<polygon points="258.2,228.9 253.1,221.6 262.4,218.6 266.9,227.3" fill="#6492cb" stroke="#6492cb" stroke-width="0.4"/>
<polygon points="241.0,236.0 233.7,241.0 230.7,231.7 239.4,227.3" fill="#75a4de" stroke="#75a4de" stroke-width="0.4"/>
<polygon points="265.3,236.0 266.9,227.3 275.6,231.7 272.6,241.0" fill="#4e76ab" stroke="#4e76ab" stroke-width="0.4"/>
<polygon points="265.3,246.1 272.6,241.0 275.6,250.3 266.9,254.8" fill="#3f5f8b" stroke="#3f5f8b" stroke-width="0.4"/>
<polygon points="241.0,246.1 239.4,254.8 230.7,250.3 233.7,241.0" fill="#5e8bc4" stroke="#5e8bc4" stroke-width="0.4"/>
<polygon points="258.2,253.2 266.9,254.8 262.4,263.5 253.1,260.5" fill="#3d5c87" stroke="#3d5c87" stroke-width="0.4"/>
<polygon points="248.1,253.2 253.1,260.5 243.8,263.5 239.4,254.8" fill="#4a6fa2" stroke="#4a6fa2" stroke-width="0.4"/>
<polygon points="241.0,236.0 239.4,227.3 248.1,228.9" fill="#91bdf2" stroke="#91bdf2" stroke-width="0.4"/>
<polygon points="248.1,228.9 253.1,221.6 258.2,228.9" fill="#7dabe5" stroke="#7dabe5" stroke-width="0.4"/>
<polygon points="258.2,228.9 266.9,227.3 265.3,236.0" fill="#5f8cc5" stroke="#5f8cc5" stroke-width="0.4"/>
<polygon points="265.3,236.0 272.6,241.0 265.3,246.1" fill="#4e76ab" stroke="#4e76ab" stroke-width="0.4"/>
<polygon points="241.0,246.1 233.7,241.0 241.0,236.0" fill="#79a8e2" stroke="#79a8e2" stroke-width="0.4"/>
<polygon points="265.3,246.1 266.9,254.8 258.2,253.2" fill="#476b9d" stroke="#476b9d" stroke-width="0.4"/>
<polygon points="258.2,253.2 253.1,260.5 248.1,253.2" fill="#4c72a5" stroke="#4c72a5" stroke-width="0.4"/>
<polygon points="248.1,253.2 239.4,254.8 241.0,246.1" fill="#5b87c0" stroke="#5b87c0" stroke-width="0.4"/>
<polygon points="265.3,246.1 258.2,253.2 248.1,253.2 241.0,246.1 241.0,236.0 248.1,228.9 258.2,228.9 265.3,236.0" fill="#8ab6f0" stroke="#8ab6f0" stroke-width="0.4"/>
<polygon points="242.9,238.1 248.8,234.2 248.3,243.9" fill="#b4dcf8" />
<circle cx="205.2" cy="265.6" r="25.6" fill="#d9aa35"/>
<polygon points="180.8,265.6 181.0,263.1 181.4,260.6 182.0,258.1 182.7,256.3 183.0,255.7 184.1,253.4 185.5,251.3 187.1,249.3 188.0,248.4 188.9,247.6 190.9,245.9 193.0,244.6 195.3,243.4 195.9,243.2 197.7,242.5 200.1,241.8 202.6,241.4 205.2,241.3 207.7,241.4 210.2,241.8 212.7,242.5 214.4,243.2 215.0,243.4 217.3,244.6 219.4,245.9 221.4,247.6 222.3,248.4 223.2,249.3 224.8,251.3 226.2,253.4 227.3,255.7 227.6,256.3 228.3,258.1 228.9,260.6 229.3,263.1 229.4,265.6 229.3,268.1 228.9,270.7 228.3,273.1 227.6,274.9 227.3,275.5 226.2,277.8 224.8,279.9 223.2,281.9 222.3,282.8 221.4,283.7 219.4,285.3 217.3,286.6 215.0,287.8 214.4,288.1 212.7,288.7 210.2,289.4 207.7,289.8 205.2,289.9 202.6,289.8 200.1,289.4 197.7,288.7 195.9,288.1 195.3,287.8 193.0,286.6 190.9,285.3 188.9,283.7 188.0,282.8 187.1,281.9 185.5,279.9 184.1,277.8 183.0,275.5 182.7,274.9 182.0,273.1 181.4,270.7 181.0,268.1" fill="#5580b8" />
<polygon points="205.2,246.2 195.9,243.2 205.2,241.3" fill="#80aee8" stroke="#80aee8" stroke-width="0.4"/>
<polygon points="205.2,246.2 205.2,241.3 214.5,243.2" fill="#709fd9" stroke="#709fd9" stroke-width="0.4"/>
<polygon points="191.4,251.9 188.0,248.4 195.9,243.2" fill="#8bb7f0" stroke="#8bb7f0" stroke-width="0.4"/>
<polygon points="218.9,251.9 214.5,243.2 222.3,248.4" fill="#6391ca" stroke="#6391ca" stroke-width="0.4"/>
<polygon points="191.4,251.9 182.7,256.3 188.0,248.4" fill="#8ab6f0" stroke="#8ab6f0" stroke-width="0.4"/>
<polygon points="218.9,251.9 222.3,248.4 227.6,256.3" fill="#5884bc" stroke="#5884bc" stroke-width="0.4"/>
<polygon points="224.6,265.6 227.6,256.3 229.5,265.6" fill="#5078ad" stroke="#5078ad" stroke-width="0.4"/>
<polygon points="185.7,265.6 180.9,265.6 182.7,256.3" fill="#7dabe5" stroke="#7dabe5" stroke-width="0.4"/>
<polygon points="224.6,265.6 229.5,265.6 227.6,274.9" fill="#496ea1" stroke="#496ea1" stroke-width="0.4"/>
<polygon points="185.7,265.6 182.7,274.9 180.9,265.6" fill="#6b9bd5" stroke="#6b9bd5" stroke-width="0.4"/>
<polygon points="218.9,279.4 227.6,274.9 222.3,282.8" fill="#466999" stroke="#466999" stroke-width="0.4"/>
<polygon points="191.4,279.4 188.0,282.8 182.7,274.9" fill="#5e8bc4" stroke="#5e8bc4" stroke-width="0.4"/>
<polygon points="218.9,279.4 222.3,282.8 214.5,288.1" fill="#456798" stroke="#456798" stroke-width="0.4"/>
<polygon points="191.4,279.4 195.9,288.1 188.0,282.8" fill="#547eb6" stroke="#547eb6" stroke-width="0.4"/>
<polygon points="205.2,285.0 214.5,288.1 205.2,289.9" fill="#476b9d" stroke="#476b9d" stroke-width="0.4"/>
<polygon points="205.2,285.0 205.2,289.9 195.9,288.1" fill="#4c73a7" stroke="#4c73a7" stroke-width="0.4"/>
<polygon points="200.1,253.5 191.4,251.9 195.9,243.2 205.2,246.2" fill="#78a7e1" stroke="#78a7e1" stroke-width="0.4"/>
<polygon points="210.2,253.5 205.2,246.2 214.5,243.2 218.9,251.9" fill="#6492cb" stroke="#6492cb" stroke-width="0.4"/>
<polygon points="193.0,260.6 185.7,265.6 182.7,256.3 191.4,251.9" fill="#75a4de" stroke="#75a4de" stroke-width="0.4"/>
<polygon points="217.3,260.6 218.9,251.9 227.6,256.3 224.6,265.6" fill="#4e76ab" stroke="#4e76ab" stroke-width="0.4"/>
<polygon points="217.3,270.6 224.6,265.6 227.6,274.9 218.9,279.4" fill="#3f5f8b" stroke="#3f5f8b" stroke-width="0.4"/>
<polygon points="193.0,270.6 191.4,279.4 182.7,274.9 185.7,265.6" fill="#5e8bc4" stroke="#5e8bc4" stroke-width="0.4"/>
<polygon points="210.2,277.8 218.9,279.4 214.5,288.1 205.2,285.0" fill="#3d5c87" stroke="#3d5c87" stroke-width="0.4"/>
<polygon points="200.1,277.8 205.2,285.0 195.9,288.1 191.4,279.4" fill="#4a6fa2" stroke="#4a6fa2" stroke-width="0.4"/>
<polygon points="193.0,260.6 191.4,251.9 200.1,253.5" fill="#91bdf2" stroke="#91bdf2" stroke-width="0.4"/>
<polygon points="200.1,253.5 205.2,246.2 210.2,253.5" fill="#7dabe5" stroke="#7dabe5" stroke-width="0.4"/>
<polygon points="210.2,253.5 218.9,251.9 217.3,260.6" fill="#5f8cc5" stroke="#5f8cc5" stroke-width="0.4"/>
<polygon points="217.3,260.6 224.6,265.6 217.3,270.6" fill="#4e76ab" stroke="#4e76ab" stroke-width="0.4"/>
<polygon points="193.0,270.6 185.7,265.6 193.0,260.6" fill="#79a8e2" stroke="#79a8e2" stroke-width="0.4"/>
<polygon points="217.3,270.6 218.9,279.4 210.2,277.8" fill="#476b9d" stroke="#476b9d" stroke-width="0.4"/>
<polygon points="210.2,277.8 205.2,285.0 200.1,277.8" fill="#4c72a5" stroke="#4c72a5" stroke-width="0.4"/>
<polygon points="200.1,277.8 191.4,279.4 193.0,270.6" fill="#5b87c0" stroke="#5b87c0" stroke-width="0.4"/>
<polygon points="217.3,270.6 210.2,277.8 200.1,277.8 193.0,270.6 193.0,260.6 200.1,253.5 210.2,253.5 217.3,260.6" fill="#8ab6f0" stroke="#8ab6f0" stroke-width="0.4"/>
<polygon points="194.9,262.7 200.8,258.8 200.3,268.5" fill="#b4dcf8" />
<circle cx="152.0" cy="265.6" r="25.6" fill="#d9aa35"/>
<polygon points="127.8,265.6 127.9,263.1 128.3,260.6 128.9,258.1 129.6,256.3 129.8,255.7 131.0,253.4 132.4,251.3 134.0,249.3 134.9,248.4 135.8,247.6 137.8,245.9 139.9,244.6 142.2,243.4 142.8,243.2 144.5,242.5 147.0,241.8 149.5,241.4 152.1,241.3 154.6,241.4 157.1,241.8 159.6,242.5 161.3,243.2 161.9,243.4 164.2,244.6 166.3,245.9 168.3,247.6 169.2,248.4 170.1,249.3 171.7,251.3 173.1,253.4 174.2,255.7 174.5,256.3 175.2,258.1 175.8,260.6 176.2,263.1 176.3,265.6 176.2,268.1 175.8,270.7 175.2,273.1 174.5,274.9 174.2,275.5 173.1,277.8 171.7,279.9 170.1,281.9 169.2,282.8 168.3,283.7 166.3,285.3 164.2,286.6 161.9,287.8 161.3,288.1 159.6,288.7 157.1,289.4 154.6,289.8 152.1,289.9 149.5,289.8 147.0,289.4 144.5,288.7 142.8,288.1 142.2,287.8 139.9,286.6 137.8,285.3 135.8,283.7 134.9,282.8 134.0,281.9 132.4,279.9 131.0,277.8 129.8,275.5 129.6,274.9 128.9,273.1 128.3,270.7 127.9,268.1" fill="#5580b8" />
<polygon points="152.0,246.2 142.7,243.2 152.0,241.3" fill="#80aee8" stroke="#80aee8" stroke-width="0.4"/>
<polygon points="152.0,246.2 152.0,241.3 161.3,243.2" fill="#709fd9" stroke="#709fd9" stroke-width="0.4"/>
<polygon points="138.3,251.9 134.9,248.4 142.7,243.2" fill="#8bb7f0" stroke="#8bb7f0" stroke-width="0.4"/>
<polygon points="165.8,251.9 161.3,243.2 169.2,248.4" fill="#6391ca" stroke="#6391ca" stroke-width="0.4"/>
<polygon points="138.3,251.9 129.6,256.3 134.9,248.4" fill="#8ab6f0" stroke="#8ab6f0" stroke-width="0.4"/>
<polygon points="165.8,251.9 169.2,248.4 174.5,256.3" fill="#5884bc" stroke="#5884bc" stroke-width="0.4"/>
<polygon points="171.5,265.6 174.5,256.3 176.3,265.6" fill="#5078ad" stroke="#5078ad" stroke-width="0.4"/>
<polygon points="132.6,265.6 127.7,265.6 129.6,256.3" fill="#7dabe5" stroke="#7dabe5" stroke-width="0.4"/>
<polygon points="171.5,265.6 176.3,265.6 174.5,274.9" fill="#496ea1" stroke="#496ea1" stroke-width="0.4"/>
<polygon points="132.6,265.6 129.6,274.9 127.7,265.6" fill="#6b9bd5" stroke="#6b9bd5" stroke-width="0.4"/>
<polygon points="165.8,279.4 174.5,274.9 169.2,282.8" fill="#466999" stroke="#466999" stroke-width="0.4"/>
<polygon points="138.3,279.4 134.9,282.8 129.6,274.9" fill="#5e8bc4" stroke="#5e8bc4" stroke-width="0.4"/>
<polygon points="165.8,279.4 169.2,282.8 161.3,288.1" fill="#456798" stroke="#456798" stroke-width="0.4"/>
<polygon points="138.3,279.4 142.7,288.1 134.9,282.8" fill="#547eb6" stroke="#547eb6" stroke-width="0.4"/>
<polygon points="152.0,285.0 161.3,288.1 152.0,289.9" fill="#476b9d" stroke="#476b9d" stroke-width="0.4"/>
<polygon points="152.0,285.0 152.0,289.9 142.7,288.1" fill="#4c73a7" stroke="#4c73a7" stroke-width="0.4"/>
<polygon points="147.0,253.5 138.3,251.9 142.7,243.2 152.0,246.2" fill="#78a7e1" stroke="#78a7e1" stroke-width="0.4"/>
<polygon points="157.1,253.5 152.0,246.2 161.3,243.2 165.8,251.9" fill="#6492cb" stroke="#6492cb" stroke-width="0.4"/>
<polygon points="139.9,260.6 132.6,265.6 129.6,256.3 138.3,251.9" fill="#75a4de" stroke="#75a4de" stroke-width="0.4"/>
<polygon points="164.2,260.6 165.8,251.9 174.5,256.3 171.5,265.6" fill="#4e76ab" stroke="#4e76ab" stroke-width="0.4"/>
<polygon points="164.2,270.6 171.5,265.6 174.5,274.9 165.8,279.4" fill="#3f5f8b" stroke="#3f5f8b" stroke-width="0.4"/>
<polygon points="139.9,270.6 138.3,279.4 129.6,274.9 132.6,265.6" fill="#5e8bc4" stroke="#5e8bc4" stroke-width="0.4"/>
<polygon points="157.1,277.8 165.8,279.4 161.3,288.1 152.0,285.0" fill="#3d5c87" stroke="#3d5c87" stroke-width="0.4"/>
<polygon points="147.0,277.8 152.0,285.0 142.7,288.1 138.3,279.4" fill="#4a6fa2" stroke="#4a6fa2" stroke-width="0.4"/>
<polygon points="139.9,260.6 138.3,251.9 147.0,253.5" fill="#91bdf2" stroke="#91bdf2" stroke-width="0.4"/>
<polygon points="147.0,253.5 152.0,246.2 157.1,253.5" fill="#7dabe5" stroke="#7dabe5" stroke-width="0.4"/>
<polygon points="157.1,253.5 165.8,251.9 164.2,260.6" fill="#5f8cc5" stroke="#5f8cc5" stroke-width="0.4"/>
<polygon points="164.2,260.6 171.5,265.6 164.2,270.6" fill="#4e76ab" stroke="#4e76ab" stroke-width="0.4"/>
<polygon points="139.9,270.6 132.6,265.6 139.9,260.6" fill="#79a8e2" stroke="#79a8e2" stroke-width="0.4"/>
<polygon points="164.2,270.6 165.8,279.4 157.1,277.8" fill="#476b9d" stroke="#476b9d" stroke-width="0.4"/>
<polygon points="157.1,277.8 152.0,285.0 147.0,277.8" fill="#4c72a5" stroke="#4c72a5" stroke-width="0.4"/>
<polygon points="147.0,277.8 138.3,279.4 139.9,270.6" fill="#5b87c0" stroke="#5b87c0" stroke-width="0.4"/>
<polygon points="164.2,270.6 157.1,277.8 147.0,277.8 139.9,270.6 139.9,260.6 147.0,253.5 157.1,253.5 164.2,260.6" fill="#8ab6f0" stroke="#8ab6f0" stroke-width="0.4"/>
<polygon points="141.8,262.7 147.7,258.8 147.2,268.5" fill="#b4dcf8" />
<circle cx="104.1" cy="241.0" r="25.6" fill="#d9aa35"/>
<polygon points="79.8,241.0 79.9,238.5 80.3,236.0 81.0,233.5 81.6,231.7 81.9,231.2 83.0,228.9 84.4,226.8 86.0,224.8 86.9,223.8 87.8,223.0 89.8,221.4 91.9,220.0 94.2,218.8 94.8,218.6 96.6,217.9 99.0,217.3 101.5,216.9 104.1,216.7 106.6,216.9 109.1,217.3 111.6,217.9 113.4,218.6 114.0,218.8 116.2,220.0 118.3,221.4 120.3,223.0 121.2,223.8 122.1,224.8 123.7,226.8 125.1,228.9 126.3,231.2 126.5,231.7 127.2,233.5 127.8,236.0 128.2,238.5 128.4,241.0 128.2,243.6 127.8,246.1 127.2,248.5 126.5,250.3 126.3,250.9 125.1,253.2 123.7,255.3 122.1,257.3 121.2,258.2 120.3,259.1 118.3,260.7 116.2,262.1 114.0,263.2 113.4,263.5 111.6,264.1 109.1,264.8 106.6,265.2 104.1,265.3 101.5,265.2 99.0,264.8 96.6,264.1 94.8,263.5 94.2,263.2 91.9,262.1 89.8,260.7 87.8,259.1 86.9,258.2 86.0,257.3 84.4,255.3 83.0,253.2 81.9,250.9 81.6,250.3 81.0,248.5 80.3,246.1 79.9,243.6" fill="#5580b8" />
<polygon points="104.1,221.6 94.8,218.6 104.1,216.7" fill="#80aee8" stroke="#80aee8" stroke-width="0.4"/>
<polygon points="104.1,221.6 104.1,216.7 113.4,218.6" fill="#709fd9" stroke="#709fd9" stroke-width="0.4"/>
<polygon points="90.3,227.3 86.9,223.8 94.8,218.6" fill="#8bb7f0" stroke="#8bb7f0" stroke-width="0.4"/>
<polygon points="117.8,227.3 113.4,218.6 121.3,223.8" fill="#6391ca" stroke="#6391ca" stroke-width="0.4"/>
<polygon points="90.3,227.3 81.6,231.7 86.9,223.8" fill="#8ab6f0" stroke="#8ab6f0" stroke-width="0.4"/>
<polygon points="117.8,227.3 121.3,223.8 126.5,231.7" fill="#5884bc" stroke="#5884bc" stroke-width="0.4"/>
<polygon points="123.5,241.0 126.5,231.7 128.4,241.0" fill="#5078ad" stroke="#5078ad" stroke-width="0.4"/>
<polygon points="84.6,241.0 79.8,241.0 81.6,231.7" fill="#7dabe5" stroke="#7dabe5" stroke-width="0.4"/>
<polygon points="123.5,241.0 128.4,241.0 126.5,250.3" fill="#496ea1" stroke="#496ea1" stroke-width="0.4"/>
<polygon points="84.6,241.0 81.6,250.3 79.8,241.0" fill="#6b9bd5" stroke="#6b9bd5" stroke-width="0.4"/>
<polygon points="117.8,254.8 126.5,250.3 121.3,258.2" fill="#466999" stroke="#466999" stroke-width="0.4"/>
<polygon points="90.3,254.8 86.9,258.2 81.6,250.3" fill="#5e8bc4" stroke="#5e8bc4" stroke-width="0.4"/>
<polygon points="117.8,254.8 121.3,258.2 113.4,263.5" fill="#456798" stroke="#456798" stroke-width="0.4"/>
<polygon points="90.3,254.8 94.8,263.5 86.9,258.2" fill="#547eb6" stroke="#547eb6" stroke-width="0.4"/>
<polygon points="104.1,260.5 113.4,263.5 104.1,265.3" fill="#476b9d" stroke="#476b9d" stroke-width="0.4"/>
<polygon points="104.1,260.5 104.1,265.3 94.8,263.5" fill="#4c73a7" stroke="#4c73a7" stroke-width="0.4"/>
<polygon points="99.0,228.9 90.3,227.3 94.8,218.6 104.1,221.6" fill="#78a7e1" stroke="#78a7e1" stroke-width="0.4"/>
<polygon points="109.1,228.9 104.1,221.6 113.4,218.6 117.8,227.3" fill="#6492cb" stroke="#6492cb" stroke-width="0.4"/>
<polygon points="91.9,236.0 84.6,241.0 81.6,231.7 90.3,227.3" fill="#75a4de" stroke="#75a4de" stroke-width="0.4"/>
<polygon points="116.2,236.0 117.8,227.3 126.5,231.7 123.5,241.0" fill="#4e76ab" stroke="#4e76ab" stroke-width="0.4"/>
<polygon points="116.2,246.1 123.5,241.0 126.5,250.3 117.8,254.8" fill="#3f5f8b" stroke="#3f5f8b" stroke-width="0.4"/>
<polygon points="91.9,246.1 90.3,254.8 81.6,250.3 84.6,241.0" fill="#5e8bc4" stroke="#5e8bc4" stroke-width="0.4"/>
<polygon points="109.1,253.2 117.8,254.8 113.4,263.5 104.1,260.5" fill="#3d5c87" stroke="#3d5c87" stroke-width="0.4"/>
<polygon points="99.0,253.2 104.1,260.5 94.8,263.5 90.3,254.8" fill="#4a6fa2" stroke="#4a6fa2" stroke-width="0.4"/>
<polygon points="91.9,236.0 90.3,227.3 99.0,228.9" fill="#91bdf2" stroke="#91bdf2" stroke-width="0.4"/>
<polygon points="99.0,228.9 104.1,221.6 109.1,228.9" fill="#7dabe5" stroke="#7dabe5" stroke-width="0.4"/>
<polygon points="109.1,228.9 117.8,227.3 116.2,236.0" fill="#5f8cc5" stroke="#5f8cc5" stroke-width="0.4"/>
<polygon points="116.2,236.0 123.5,241.0 116.2,246.1" fill="#4e76ab" stroke="#4e76ab" stroke-width="0.4"/>
<polygon points="91.9,246.1 84.6,241.0 91.9,236.0" fill="#79a8e2" stroke="#79a8e2" stroke-width="0.4"/>
<polygon points="116.2,246.1 117.8,254.8 109.1,253.2" fill="#476b9d" stroke="#476b9d" stroke-width="0.4"/>
<polygon points="109.1,253.2 104.1,260.5 99.0,253.2" fill="#4c72a5" stroke="#4c72a5" stroke-width="0.4"/>
<polygon points="99.0,253.2 90.3,254.8 91.9,246.1" fill="#5b87c0" stroke="#5b87c0" stroke-width="0.4"/>
<polygon points="116.2,246.1 109.1,253.2 99.0,253.2 91.9,246.1 91.9,236.0 99.0,228.9 109.1,228.9 116.2,236.0" fill="#8ab6f0" stroke="#8ab6f0" stroke-width="0.4"/>
<polygon points="93.9,238.1 99.7,234.2 99.2,243.9" fill="#b4dcf8" />
<circle cx="79.5" cy="193.1" r="25.6" fill="#d9aa35"/>
<polygon points="55.2,193.1 55.3,190.5 55.7,188.0 56.4,185.6 57.0,183.8 57.3,183.2 58.5,180.9 59.8,178.8 61.4,176.8 62.3,175.9 63.2,175.0 65.2,173.4 67.3,172.0 69.6,170.9 70.2,170.6 72.0,169.9 74.4,169.3 77.0,168.9 79.5,168.8 82.0,168.9 84.5,169.3 87.0,169.9 88.8,170.6 89.4,170.9 91.7,172.0 93.8,173.4 95.8,175.0 96.7,175.9 97.5,176.8 99.2,178.8 100.5,180.9 101.7,183.2 102.0,183.8 102.6,185.6 103.3,188.0 103.7,190.5 103.8,193.1 103.7,195.6 103.3,198.1 102.6,200.6 102.0,202.3 101.7,202.9 100.5,205.2 99.2,207.3 97.5,209.3 96.7,210.2 95.8,211.1 93.8,212.7 91.7,214.1 89.4,215.2 88.8,215.5 87.0,216.2 84.5,216.8 82.0,217.2 79.5,217.3 77.0,217.2 74.4,216.8 72.0,216.2 70.2,215.5 69.6,215.2 67.3,214.1 65.2,212.7 63.2,211.1 62.3,210.2 61.4,209.3 59.8,207.3 58.5,205.2 57.3,202.9 57.0,202.3 56.4,200.6 55.7,198.1 55.3,195.6" fill="#5580b8" />
<polygon points="79.5,173.6 70.2,170.6 79.5,168.8" fill="#80aee8" stroke="#80aee8" stroke-width="0.4"/>
<polygon points="79.5,173.6 79.5,168.8 88.8,170.6" fill="#709fd9" stroke="#709fd9" stroke-width="0.4"/>
<polygon points="65.7,179.3 62.3,175.9 70.2,170.6" fill="#8bb7f0" stroke="#8bb7f0" stroke-width="0.4"/>
<polygon points="93.2,179.3 88.8,170.6 96.7,175.9" fill="#6391ca" stroke="#6391ca" stroke-width="0.4"/>
<polygon points="65.7,179.3 57.0,183.8 62.3,175.9" fill="#8ab6f0" stroke="#8ab6f0" stroke-width="0.4"/>
<polygon points="93.2,179.3 96.7,175.9 101.9,183.8" fill="#5884bc" stroke="#5884bc" stroke-width="0.4"/>
<polygon points="98.9,193.1 101.9,183.8 103.8,193.1" fill="#5078ad" stroke="#5078ad" stroke-width="0.4"/>
<polygon points="60.1,193.1 55.2,193.1 57.0,183.8" fill="#7dabe5" stroke="#7dabe5" stroke-width="0.4"/>
<polygon points="98.9,193.1 103.8,193.1 101.9,202.4" fill="#496ea1" stroke="#496ea1" stroke-width="0.4"/>
<polygon points="60.1,193.1 57.0,202.4 55.2,193.1" fill="#6b9bd5" stroke="#6b9bd5" stroke-width="0.4"/>
<polygon points="93.2,206.8 101.9,202.4 96.7,210.2" fill="#466999" stroke="#466999" stroke-width="0.4"/>
<polygon points="65.7,206.8 62.3,210.2 57.0,202.4" fill="#5e8bc4" stroke="#5e8bc4" stroke-width="0.4"/>
<polygon points="93.2,206.8 96.7,210.2 88.8,215.5" fill="#456798" stroke="#456798" stroke-width="0.4"/>
<polygon points="65.7,206.8 70.2,215.5 62.3,210.2" fill="#547eb6" stroke="#547eb6" stroke-width="0.4"/>
<polygon points="79.5,212.5 88.8,215.5 79.5,217.4" fill="#476b9d" stroke="#476b9d" stroke-width="0.4"/>
<polygon points="79.5,212.5 79.5,217.4 70.2,215.5" fill="#4c73a7" stroke="#4c73a7" stroke-width="0.4"/>
<polygon points="74.5,180.9 65.7,179.3 70.2,170.6 79.5,173.6" fill="#78a7e1" stroke="#78a7e1" stroke-width="0.4"/>
<polygon points="84.5,180.9 79.5,173.6 88.8,170.6 93.2,179.3" fill="#6492cb" stroke="#6492cb" stroke-width="0.4"/>
<polygon points="67.3,188.0 60.1,193.1 57.0,183.8 65.7,179.3" fill="#75a4de" stroke="#75a4de" stroke-width="0.4"/>
<polygon points="91.6,188.0 93.2,179.3 101.9,183.8 98.9,193.1" fill="#4e76ab" stroke="#4e76ab" stroke-width="0.4"/>
<polygon points="91.6,198.1 98.9,193.1 101.9,202.4 93.2,206.8" fill="#3f5f8b" stroke="#3f5f8b" stroke-width="0.4"/>
<polygon points="67.3,198.1 65.7,206.8 57.0,202.4 60.1,193.1" fill="#5e8bc4" stroke="#5e8bc4" stroke-width="0.4"/>
<polygon points="84.5,205.2 93.2,206.8 88.8,215.5 79.5,212.5" fill="#3d5c87" stroke="#3d5c87" stroke-width="0.4"/>
<polygon points="74.5,205.2 79.5,212.5 70.2,215.5 65.7,206.8" fill="#4a6fa2" stroke="#4a6fa2" stroke-width="0.4"/>
<polygon points="67.3,188.0 65.7,179.3 74.5,180.9" fill="#91bdf2" stroke="#91bdf2" stroke-width="0.4"/>
<polygon points="74.5,180.9 79.5,173.6 84.5,180.9" fill="#7dabe5" stroke="#7dabe5" stroke-width="0.4"/>
<polygon points="84.5,180.9 93.2,179.3 91.6,188.0" fill="#5f8cc5" stroke="#5f8cc5" stroke-width="0.4"/>
<polygon points="91.6,188.0 98.9,193.1 91.6,198.1" fill="#4e76ab" stroke="#4e76ab" stroke-width="0.4"/>
<polygon points="67.3,198.1 60.1,193.1 67.3,188.0" fill="#79a8e2" stroke="#79a8e2" stroke-width="0.4"/>
<polygon points="91.6,198.1 93.2,206.8 84.5,205.2" fill="#476b9d" stroke="#476b9d" stroke-width="0.4"/>
<polygon points="84.5,205.2 79.5,212.5 74.5,205.2" fill="#4c72a5" stroke="#4c72a5" stroke-width="0.4"/>
<polygon points="74.5,205.2 65.7,206.8 67.3,198.1" fill="#5b87c0" stroke="#5b87c0" stroke-width="0.4"/>
<polygon points="91.6,198.1 84.5,205.2 74.5,205.2 67.3,198.1 67.3,188.0 74.5,180.9 84.5,180.9 91.6,188.0" fill="#8ab6f0" stroke="#8ab6f0" stroke-width="0.4"/>
<polygon points="69.3,190.1 75.1,186.3 74.6,196.0" fill="#b4dcf8" />
<circle cx="79.5" cy="139.9" r="25.6" fill="#d9aa35"/>
<polygon points="55.2,139.9 55.3,137.4 55.7,134.9 56.4,132.4 57.0,130.7 57.3,130.1 58.5,127.8 59.8,125.7 61.4,123.7 62.3,122.8 63.2,121.9 65.2,120.3 67.3,118.9 69.6,117.8 70.2,117.5 72.0,116.8 74.4,116.2 77.0,115.8 79.5,115.7 82.0,115.8 84.5,116.2 87.0,116.8 88.8,117.5 89.4,117.8 91.7,118.9 93.8,120.3 95.8,121.9 96.7,122.8 97.5,123.7 99.2,125.7 100.5,127.8 101.7,130.1 102.0,130.7 102.6,132.4 103.3,134.9 103.7,137.4 103.8,139.9 103.7,142.5 103.3,145.0 102.6,147.4 102.0,149.2 101.7,149.8 100.5,152.1 99.2,154.2 97.5,156.2 96.7,157.1 95.8,158.0 93.8,159.6 91.7,161.0 89.4,162.1 88.8,162.4 87.0,163.1 84.5,163.7 82.0,164.1 79.5,164.2 77.0,164.1 74.4,163.7 72.0,163.1 70.2,162.4 69.6,162.1 67.3,161.0 65.2,159.6 63.2,158.0 62.3,157.1 61.4,156.2 59.8,154.2 58.5,152.1 57.3,149.8 57.0,149.2 56.4,147.4 55.7,145.0 55.3,142.5" fill="#5580b8" />
<polygon points="79.5,120.5 70.2,117.5 79.5,115.6" fill="#80aee8" stroke="#80aee8" stroke-width="0.4"/>
<polygon points="79.5,120.5 79.5,115.6 88.8,117.5" fill="#709fd9" stroke="#709fd9" stroke-width="0.4"/>
<polygon points="65.7,126.2 62.3,122.8 70.2,117.5" fill="#8bb7f0" stroke="#8bb7f0" stroke-width="0.4"/>
<polygon points="93.2,126.2 88.8,117.5 96.7,122.8" fill="#6391ca" stroke="#6391ca" stroke-width="0.4"/>
<polygon points="65.7,126.2 57.0,130.6 62.3,122.8" fill="#8ab6f0" stroke="#8ab6f0" stroke-width="0.4"/>
<polygon points="93.2,126.2 96.7,122.8 101.9,130.6" fill="#5884bc" stroke="#5884bc" stroke-width="0.4"/>
<polygon points="98.9,139.9 101.9,130.6 103.8,139.9" fill="#5078ad" stroke="#5078ad" stroke-width="0.4"/>
<polygon points="60.1,139.9 55.2,139.9 57.0,130.6" fill="#7dabe5" stroke="#7dabe5" stroke-width="0.4"/>
<polygon points="98.9,139.9 103.8,139.9 101.9,149.2" fill="#496ea1" stroke="#496ea1" stroke-width="0.4"/>
<polygon points="60.1,139.9 57.0,149.2 55.2,139.9" fill="#6b9bd5" stroke="#6b9bd5" stroke-width="0.4"/>
<polygon points="93.2,153.7 101.9,149.2 96.7,157.1" fill="#466999" stroke="#466999" stroke-width="0.4"/>
<polygon points="65.7,153.7 62.3,157.1 57.0,149.2" fill="#5e8bc4" stroke="#5e8bc4" stroke-width="0.4"/>
<polygon points="93.2,153.7 96.7,157.1 88.8,162.4" fill="#456798" stroke="#456798" stroke-width="0.4"/>
<polygon points="65.7,153.7 70.2,162.4 62.3,157.1" fill="#547eb6" stroke="#547eb6" stroke-width="0.4"/>
<polygon points="79.5,159.4 88.8,162.4 79.5,164.2" fill="#476b9d" stroke="#476b9d" stroke-width="0.4"/>
<polygon points="79.5,159.4 79.5,164.2 70.2,162.4" fill="#4c73a7" stroke="#4c73a7" stroke-width="0.4"/>
<polygon points="74.5,127.8 65.7,126.2 70.2,117.5 79.5,120.5" fill="#78a7e1" stroke="#78a7e1" stroke-width="0.4"/>
<polygon points="84.5,127.8 79.5,120.5 88.8,117.5 93.2,126.2" fill="#6492cb" stroke="#6492cb" stroke-width="0.4"/>
<polygon points="67.3,134.9 60.1,139.9 57.0,130.6 65.7,126.2" fill="#75a4de" stroke="#75a4de" stroke-width="0.4"/>
<polygon points="91.6,134.9 93.2,126.2 101.9,130.6 98.9,139.9" fill="#4e76ab" stroke="#4e76ab" stroke-width="0.4"/>
<polygon points="91.6,145.0 98.9,139.9 101.9,149.2 93.2,153.7" fill="#3f5f8b" stroke="#3f5f8b" stroke-width="0.4"/>
<polygon points="67.3,145.0 65.7,153.7 57.0,149.2 60.1,139.9" fill="#5e8bc4" stroke="#5e8bc4" stroke-width="0.4"/>
<polygon points="84.5,152.1 93.2,153.7 88.8,162.4 79.5,159.4" fill="#3d5c87" stroke="#3d5c87" stroke-width="0.4"/>
<polygon points="74.5,152.1 79.5,159.4 70.2,162.4 65.7,153.7" fill="#4a6fa2" stroke="#4a6fa2" stroke-width="0.4"/>
<polygon points="67.3,134.9 65.7,126.2 74.5,127.8" fill="#91bdf2" stroke="#91bdf2" stroke-width="0.4"/>
<polygon points="74.5,127.8 79.5,120.5 84.5,127.8" fill="#7dabe5" stroke="#7dabe5" stroke-width="0.4"/>
<polygon points="84.5,127.8 93.2,126.2 91.6,134.9" fill="#5f8cc5" stroke="#5f8cc5" stroke-width="0.4"/>
<polygon points="91.6,134.9 98.9,139.9 91.6,145.0" fill="#4e76ab" stroke="#4e76ab" stroke-width="0.4"/>
<polygon points="67.3,145.0 60.1,139.9 67.3,134.9" fill="#79a8e2" stroke="#79a8e2" stroke-width="0.4"/>
<polygon points="91.6,145.0 93.2,153.7 84.5,152.1" fill="#476b9d" stroke="#476b9d" stroke-width="0.4"/>
<polygon points="84.5,152.1 79.5,159.4 74.5,152.1" fill="#4c72a5" stroke="#4c72a5" stroke-width="0.4"/>
<polygon points="74.5,152.1 65.7,153.7 67.3,145.0" fill="#5b87c0" stroke="#5b87c0" stroke-width="0.4"/>
<polygon points="91.6,145.0 84.5,152.1 74.5,152.1 67.3,145.0 67.3,134.9 74.5,127.8 84.5,127.8 91.6,134.9" fill="#fdfeff" stroke="#fdfeff" stroke-width="0.4"/>
<circle cx="104.1" cy="92.0" r="25.6" fill="#d9aa35"/>
<polygon points="79.8,92.0 79.9,89.4 80.3,86.9 81.0,84.5 81.6,82.7 81.9,82.1 83.0,79.8 84.4,77.7 86.0,75.7 86.9,74.8 87.8,73.9 89.8,72.3 91.9,70.9 94.2,69.8 94.8,69.5 96.6,68.9 99.0,68.2 101.5,67.8 104.1,67.7 106.6,67.8 109.1,68.2 111.6,68.9 113.4,69.5 114.0,69.8 116.2,70.9 118.3,72.3 120.3,73.9 121.2,74.8 122.1,75.7 123.7,77.7 125.1,79.8 126.3,82.1 126.5,82.7 127.2,84.5 127.8,86.9 128.2,89.4 128.4,92.0 128.2,94.5 127.8,97.0 127.2,99.5 126.5,101.3 126.3,101.8 125.1,104.1 123.7,106.2 122.1,108.2 121.2,109.2 120.3,110.0 118.3,111.6 116.2,113.0 114.0,114.2 113.4,114.4 111.6,115.1 109.1,115.7 106.6,116.1 104.1,116.3 101.5,116.1 99.0,115.7 96.6,115.1 94.8,114.4 94.2,114.2 91.9,113.0 89.8,111.6 87.8,110.0 86.9,109.2 86.0,108.2 84.4,106.2 83.0,104.1 81.9,101.8 81.6,101.3 81.0,99.5 80.3,97.0 79.9,94.5" fill="#5580b8" />
<polygon points="104.1,72.5 94.8,69.5 104.1,67.7" fill="#80aee8" stroke="#80aee8" stroke-width="0.4"/>
<polygon points="104.1,72.5 104.1,67.7 113.4,69.5" fill="#709fd9" stroke="#709fd9" stroke-width="0.4"/>
<polygon points="90.3,78.2 86.9,74.8 94.8,69.5" fill="#8bb7f0" stroke="#8bb7f0" stroke-width="0.4"/>
<polygon points="117.8,78.2 113.4,69.5 121.3,74.8" fill="#6391ca" stroke="#6391ca" stroke-width="0.4"/>
<polygon points="90.3,78.2 81.6,82.7 86.9,74.8" fill="#8ab6f0" stroke="#8ab6f0" stroke-width="0.4"/>
<polygon points="117.8,78.2 121.3,74.8 126.5,82.7" fill="#5884bc" stroke="#5884bc" stroke-width="0.4"/>
<polygon points="123.5,92.0 126.5,82.7 128.4,92.0" fill="#5078ad" stroke="#5078ad" stroke-width="0.4"/>
<polygon points="84.6,92.0 79.8,92.0 81.6,82.7" fill="#7dabe5" stroke="#7dabe5" stroke-width="0.4"/>
<polygon points="123.5,92.0 128.4,92.0 126.5,101.3" fill="#496ea1" stroke="#496ea1" stroke-width="0.4"/>
<polygon points="84.6,92.0 81.6,101.3 79.8,92.0" fill="#6b9bd5" stroke="#6b9bd5" stroke-width="0.4"/>
<polygon points="117.8,105.7 126.5,101.3 121.3,109.2" fill="#466999" stroke="#466999" stroke-width="0.4"/>
<polygon points="90.3,105.7 86.9,109.2 81.6,101.3" fill="#5e8bc4" stroke="#5e8bc4" stroke-width="0.4"/>
<polygon points="117.8,105.7 121.3,109.2 113.4,114.4" fill="#456798" stroke="#456798" stroke-width="0.4"/>
<polygon points="90.3,105.7 94.8,114.4 86.9,109.2" fill="#547eb6" stroke="#547eb6" stroke-width="0.4"/>
<polygon points="104.1,111.4 113.4,114.4 104.1,116.3" fill="#476b9d" stroke="#476b9d" stroke-width="0.4"/>
<polygon points="104.1,111.4 104.1,116.3 94.8,114.4" fill="#4c73a7" stroke="#4c73a7" stroke-width="0.4"/>
<polygon points="99.0,79.8 90.3,78.2 94.8,69.5 104.1,72.5" fill="#78a7e1" stroke="#78a7e1" stroke-width="0.4"/>
<polygon points="109.1,79.8 104.1,72.5 113.4,69.5 117.8,78.2" fill="#6492cb" stroke="#6492cb" stroke-width="0.4"/>
<polygon points="91.9,86.9 84.6,92.0 81.6,82.7 90.3,78.2" fill="#75a4de" stroke="#75a4de" stroke-width="0.4"/>
<polygon points="116.2,86.9 117.8,78.2 126.5,82.7 123.5,92.0" fill="#4e76ab" stroke="#4e76ab" stroke-width="0.4"/>
<polygon points="116.2,97.0 123.5,92.0 126.5,101.3 117.8,105.7" fill="#3f5f8b" stroke="#3f5f8b" stroke-width="0.4"/>
<polygon points="91.9,97.0 90.3,105.7 81.6,101.3 84.6,92.0" fill="#5e8bc4" stroke="#5e8bc4" stroke-width="0.4"/>
<polygon points="109.1,104.1 117.8,105.7 113.4,114.4 104.1,111.4" fill="#3d5c87" stroke="#3d5c87" stroke-width="0.4"/>
<polygon points="99.0,104.1 104.1,111.4 94.8,114.4 90.3,105.7" fill="#4a6fa2" stroke="#4a6fa2" stroke-width="0.4"/>
<polygon points="91.9,86.9 90.3,78.2 99.0,79.8" fill="#91bdf2" stroke="#91bdf2" stroke-width="0.4"/>
<polygon points="99.0,79.8 104.1,72.5 109.1,79.8" fill="#7dabe5" stroke="#7dabe5" stroke-width="0.4"/>
<polygon points="109.1,79.8 117.8,78.2 116.2,86.9" fill="#5f8cc5" stroke="#5f8cc5" stroke-width="0.4"/>
<polygon points="116.2,86.9 123.5,92.0 116.2,97.0" fill="#4e76ab" stroke="#4e76ab" stroke-width="0.4"/>
<polygon points="91.9,97.0 84.6,92.0 91.9,86.9" fill="#79a8e2" stroke="#79a8e2" stroke-width="0.4"/>
<polygon points="116.2,97.0 117.8,105.7 109.1,104.1" fill="#476b9d" stroke="#476b9d" stroke-width="0.4"/>
<polygon points="109.1,104.1 104.1,111.4 99.0,104.1" fill="#4c72a5" stroke="#4c72a5" stroke-width="0.4"/>
<polygon points="99.0,104.1 90.3,105.7 91.9,97.0" fill="#5b87c0" stroke="#5b87c0" stroke-width="0.4"/>
<polygon points="116.2,97.0 109.1,104.1 99.0,104.1 91.9,97.0 91.9,86.9 99.0,79.8 109.1,79.8 116.2,86.9" fill="#fdfeff" stroke="#fdfeff" stroke-width="0.4"/>
<circle cx="178.6" cy="166.5" r="76.3" fill="#e0b347"/>
<circle cx="178.6" cy="166.5" r="76.3" fill="none" stroke="#a87c14" stroke-width="0.8"/>
<polygon points="105.6,166.5 106.0,158.9 107.2,151.3 109.2,143.9 111.2,138.6 111.9,136.8 115.4,130.0 119.5,123.6 124.3,117.7 127.0,114.9 129.8,112.2 135.7,107.4 142.1,103.3 148.9,99.8 150.7,99.1 156.0,97.1 163.4,95.1 171.0,93.9 178.6,93.5 186.2,93.9 193.8,95.1 201.2,97.1 206.5,99.1 208.3,99.8 215.1,103.3 221.5,107.4 227.4,112.2 230.2,114.9 232.8,117.7 237.7,123.6 241.8,130.0 245.3,136.8 246.0,138.6 248.0,143.9 250.0,151.3 251.2,158.9 251.6,166.5 251.2,174.1 250.0,181.7 248.0,189.1 246.0,194.4 245.3,196.2 241.8,203.0 237.7,209.4 232.8,215.3 230.2,218.1 227.4,220.8 221.5,225.6 215.1,229.7 208.3,233.2 206.5,233.9 201.2,235.9 193.8,237.9 186.2,239.1 178.6,239.5 171.0,239.1 163.4,237.9 156.0,235.9 150.7,233.9 148.9,233.2 142.1,229.7 135.7,225.6 129.8,220.8 127.0,218.1 124.3,215.3 119.5,209.4 115.4,203.0 111.9,196.2 111.2,194.4 109.2,189.1 107.2,181.7 106.0,174.1" fill="#5580b8" />
<polygon points="178.6,108.1 150.7,99.1 178.6,93.5" fill="#77a6e0" stroke="#77a6e0" stroke-width="0.4"/>
<polygon points="178.6,108.1 178.6,93.5 206.5,99.1" fill="#6b9ad4" stroke="#6b9ad4" stroke-width="0.4"/>
<polygon points="137.3,125.2 127.0,114.9 150.7,99.1" fill="#80ade7" stroke="#80ade7" stroke-width="0.4"/>
<polygon points="219.9,125.2 206.5,99.1 230.2,114.9" fill="#5f8dc6" stroke="#5f8dc6" stroke-width="0.4"/>
<polygon points="137.3,125.2 111.2,138.6 127.0,114.9" fill="#7eace6" stroke="#7eace6" stroke-width="0.4"/>
<polygon points="219.9,125.2 230.2,114.9 246.0,138.6" fill="#557fb7" stroke="#557fb7" stroke-width="0.4"/>
<polygon points="237.0,166.5 246.0,138.6 251.6,166.5" fill="#4c72a6" stroke="#4c72a6" stroke-width="0.4"/>
<polygon points="120.2,166.5 105.6,166.5 111.2,138.6" fill="#74a3dd" stroke="#74a3dd" stroke-width="0.4"/>
<polygon points="237.0,166.5 251.6,166.5 246.0,194.4" fill="#456898" stroke="#456898" stroke-width="0.4"/>
<polygon points="120.2,166.5 111.2,194.4 105.6,166.5" fill="#6695ce" stroke="#6695ce" stroke-width="0.4"/>
<polygon points="219.9,207.8 246.0,194.4 230.2,218.1" fill="#41618e" stroke="#41618e" stroke-width="0.4"/>
<polygon points="137.3,207.8 127.0,218.1 111.2,194.4" fill="#5a87bf" stroke="#5a87bf" stroke-width="0.4"/>
<polygon points="219.9,207.8 230.2,218.1 206.5,233.9" fill="#405f8c" stroke="#405f8c" stroke-width="0.4"/>
<polygon points="137.3,207.8 150.7,233.9 127.0,218.1" fill="#5079ae" stroke="#5079ae" stroke-width="0.4"/>
<polygon points="178.6,224.9 206.5,233.9 178.6,239.5" fill="#426392" stroke="#426392" stroke-width="0.4"/>
<polygon points="178.6,224.9 178.6,239.5 150.7,233.9" fill="#486c9e" stroke="#486c9e" stroke-width="0.4"/>
<polygon points="163.5,130.0 137.3,125.2 150.7,99.1 178.6,108.1" fill="#74a3dd" stroke="#74a3dd" stroke-width="0.4"/>
<polygon points="193.7,130.0 178.6,108.1 206.5,99.1 219.9,125.2" fill="#618fc8" stroke="#618fc8" stroke-width="0.4"/>
<polygon points="142.1,151.4 120.2,166.5 111.2,138.6 137.3,125.2" fill="#71a0da" stroke="#71a0da" stroke-width="0.4"/>
<polygon points="215.1,151.4 219.9,125.2 246.0,138.6 237.0,166.5" fill="#4b70a4" stroke="#4b70a4" stroke-width="0.4"/>
<polygon points="215.1,181.6 237.0,166.5 246.0,194.4 219.9,207.8" fill="#3a567f" stroke="#3a567f" stroke-width="0.4"/>
<polygon points="142.1,181.6 137.3,207.8 111.2,194.4 120.2,166.5" fill="#5c88c1" stroke="#5c88c1" stroke-width="0.4"/>
<polygon points="193.7,203.0 219.9,207.8 206.5,233.9 178.6,224.9" fill="#38537a" stroke="#38537a" stroke-width="0.4"/>
<polygon points="163.5,203.0 178.6,224.9 150.7,233.9 137.3,207.8" fill="#46699a" stroke="#46699a" stroke-width="0.4"/>
<polygon points="142.1,151.4 137.3,125.2 163.5,130.0" fill="#86b3ed" stroke="#86b3ed" stroke-width="0.4"/>
<polygon points="163.5,130.0 178.6,108.1 193.7,130.0" fill="#74a3dd" stroke="#74a3dd" stroke-width="0.4"/>
<polygon points="193.7,130.0 219.9,125.2 215.1,151.4" fill="#5c88c1" stroke="#5c88c1" stroke-width="0.4"/>
<polygon points="215.1,151.4 237.0,166.5 215.1,181.6" fill="#4a70a3" stroke="#4a70a3" stroke-width="0.4"/>
<polygon points="142.1,181.6 120.2,166.5 142.1,151.4" fill="#709fd9" stroke="#709fd9" stroke-width="0.4"/>
<polygon points="215.1,181.6 219.9,207.8 193.7,203.0" fill="#426392" stroke="#426392" stroke-width="0.4"/>
<polygon points="193.7,203.0 178.6,224.9 163.5,203.0" fill="#476b9d" stroke="#476b9d" stroke-width="0.4"/>
<polygon points="163.5,203.0 137.3,207.8 142.1,181.6" fill="#5782ba" stroke="#5782ba" stroke-width="0.4"/>
<polygon points="215.1,181.6 193.7,203.0 163.5,203.0 142.1,181.6 142.1,151.4 163.5,130.0 193.7,130.0 215.1,151.4" fill="#8ab6f0" stroke="#8ab6f0" stroke-width="0.4"/>
<polygon points="139.9,128.5 162.5,132.2 142.1,151.9" fill="#b4dcf8" />
<polygon points="150.4,36.5 138.0,39.8 144.8,48.9 149.1,47.7" fill="#4a3707" />
<circle cx="144.2" cy="38.1" r="7.0" fill="url(#gs)"/>
<polygon points="106.0,55.6 95.6,63.1 105.1,69.2 108.8,66.6" fill="#4a3707" />
<circle cx="100.8" cy="59.4" r="7.0" fill="url(#gs)"/>
<polygon points="75.3,87.7 68.0,98.3 79.0,100.8 81.6,97.1" fill="#4a3707" />
<circle cx="71.6" cy="93.0" r="7.0" fill="url(#gs)"/>
<polygon points="51.1,127.4 47.9,139.8 59.1,138.4 60.3,134.0" fill="#4a3707" />
<circle cx="49.5" cy="133.6" r="7.0" fill="url(#gs)"/>
<polygon points="138.0,293.2 150.4,296.5 149.1,285.3 144.8,284.1" fill="#4a3707" />
<circle cx="144.2" cy="294.9" r="7.0" fill="url(#gs)"/>
<polygon points="95.6,269.9 106.0,277.4 108.8,266.4 105.1,263.8" fill="#4a3707" />
<circle cx="100.8" cy="273.6" r="7.0" fill="url(#gs)"/>
<polygon points="68.0,234.7 75.3,245.3 81.6,235.9 79.0,232.2" fill="#4a3707" />
<circle cx="71.6" cy="240.0" r="7.0" fill="url(#gs)"/>
<polygon points="47.9,193.2 51.1,205.6 60.3,199.0 59.1,194.6" fill="#4a3707" />
<circle cx="49.5" cy="199.4" r="7.0" fill="url(#gs)"/>
<polygon points="219.2,39.8 206.8,36.5 208.1,47.7 212.4,48.9" fill="#4a3707" />
<circle cx="213.0" cy="38.1" r="7.0" fill="url(#gs)"/>
<polygon points="261.6,63.1 251.2,55.6 248.4,66.6 252.1,69.2" fill="#4a3707" />
<circle cx="256.4" cy="59.4" r="7.0" fill="url(#gs)"/>
<polygon points="289.2,98.3 281.9,87.7 275.6,97.1 278.2,100.8" fill="#4a3707" />
<circle cx="285.6" cy="93.0" r="7.0" fill="url(#gs)"/>
<polygon points="309.3,139.8 306.1,127.4 296.9,134.0 298.1,138.4" fill="#4a3707" />
<circle cx="307.7" cy="133.6" r="7.0" fill="url(#gs)"/>
<polygon points="206.8,296.5 219.2,293.2 212.4,284.1 208.1,285.3" fill="#4a3707" />
<circle cx="213.0" cy="294.9" r="7.0" fill="url(#gs)"/>
<polygon points="251.2,277.4 261.6,269.9 252.1,263.8 248.4,266.4" fill="#4a3707" />
<circle cx="256.4" cy="273.6" r="7.0" fill="url(#gs)"/>
<polygon points="281.9,245.3 289.2,234.7 278.2,232.2 275.6,235.9" fill="#4a3707" />
<circle cx="285.6" cy="240.0" r="7.0" fill="url(#gs)"/>
<polygon points="306.1,205.6 309.3,193.2 298.1,194.6 296.9,199.0" fill="#4a3707" />
<circle cx="307.7" cy="199.4" r="7.0" fill="url(#gs)"/>
<circle cx="222.3" cy="90.7" r="7.8" fill="url(#gs)"/>
<circle cx="254.4" cy="122.8" r="7.8" fill="url(#gs)"/>
<circle cx="254.4" cy="210.2" r="7.8" fill="url(#gs)"/>
<circle cx="222.3" cy="242.3" r="7.8" fill="url(#gs)"/>
<circle cx="134.9" cy="242.3" r="7.8" fill="url(#gs)"/>
<circle cx="102.8" cy="210.2" r="7.8" fill="url(#gs)"/>
<circle cx="102.8" cy="122.8" r="7.8" fill="url(#gs)"/>
<circle cx="134.8" cy="90.7" r="7.8" fill="url(#gs)"/>
<circle cx="258.8" cy="166.5" r="10.6" fill="url(#gs)"/>
<circle cx="178.6" cy="246.7" r="10.6" fill="url(#gs)"/>
<circle cx="98.4" cy="166.5" r="10.6" fill="url(#gs)"/>
<circle cx="178.6" cy="86.3" r="10.6" fill="url(#gs)"/>
</g>
<use href="#tv" transform="translate(300,0)"/>
<g id="sv">
<rect x="148.2" y="517.5" width="60" height="58" fill="#7a5808"/>
<g transform="translate(143.8,513.4) rotate(-2.9)">
<path d="M-6.4,0 A6.4,6.4 0 0 1 6.4,0 L6.4,64.2 A6.4,0.0 0 0 1 -6.4,64.2 Z" fill="url(#gcapS)" stroke="#6b4d08" stroke-width="0.7"/>
<circle cx="-1.4" cy="-1.6" r="4.0" fill="url(#hl)"/>
</g>
<g transform="translate(212.6,513.4) rotate(2.9)">
<path d="M-6.4,0 A6.4,6.4 0 0 1 6.4,0 L6.4,64.2 A6.4,0.0 0 0 1 -6.4,64.2 Z" fill="url(#gcapS)" stroke="#6b4d08" stroke-width="0.7"/>
<circle cx="-1.4" cy="-1.6" r="4.0" fill="url(#hl)"/>
</g>
<g transform="translate(100.4,513.4) rotate(-6.6)">
<path d="M-6.4,0 A6.4,6.4 0 0 1 6.4,0 L6.4,64.5 A6.4,0.0 0 0 1 -6.4,64.5 Z" fill="url(#gcapS)" stroke="#6b4d08" stroke-width="0.7"/>
<circle cx="-1.4" cy="-1.6" r="4.0" fill="url(#hl)"/>
</g>
<g transform="translate(256.0,513.4) rotate(6.6)">
<path d="M-6.4,0 A6.4,6.4 0 0 1 6.4,0 L6.4,64.5 A6.4,0.0 0 0 1 -6.4,64.5 Z" fill="url(#gcapS)" stroke="#6b4d08" stroke-width="0.7"/>
<circle cx="-1.4" cy="-1.6" r="4.0" fill="url(#hl)"/>
</g>
<polygon points="126.2,527.3 126.9,526.5 128.4,525.7 130.6,525.0 133.5,524.3 136.9,523.6 140.8,523.1 144.9,522.6 149.3,522.3 153.8,522.1 158.2,522.0 162.4,522.1 166.2,522.3 169.7,522.6 172.5,523.1 174.8,523.6 176.3,524.3 177.1,525.0 179.1,568.3 179.1,569.0 178.4,569.8 176.9,570.6 174.7,571.4 171.8,572.1 168.4,572.7 164.5,573.3 160.4,573.7 156.0,574.0 151.5,574.2 147.1,574.3 142.9,574.2 139.1,574.0 135.6,573.7 132.8,573.3 130.5,572.7 129.0,572.1 128.2,571.4 126.2,528.0" fill="url(#gcylS)" stroke="#5e4307" stroke-width="0.8"/>
<polygon points="145.1,531.0 149.5,530.9 154.0,530.7 158.4,530.4 162.5,529.9 166.4,529.4 169.8,528.7 172.7,528.0 174.9,527.3 176.4,526.5 177.1,525.7 177.1,525.0 176.3,524.3 174.8,523.6 172.5,523.1 169.7,522.6 166.2,522.3 162.4,522.1 158.2,522.0 153.8,522.1 149.3,522.3 144.9,522.6 140.7,523.1 136.9,523.6 133.5,524.3 130.6,525.0 128.4,525.7 126.9,526.5 126.2,527.3 126.2,528.0 127.0,528.7 128.5,529.4 130.8,529.9 133.6,530.4 137.1,530.7 140.9,530.9" fill="#3a5274" />
<polygon points="127.7,527.4 132.2,517.3 141.7,510.9 149.4,509.8 158.0,509.8 162.5,510.9 168.2,514.9 170.2,517.3 175.4,524.9 175.6,525.2 175.6,525.6 175.3,526.1 174.8,526.5 174.1,526.9 173.1,527.4 171.8,527.8 170.7,528.1 170.3,528.2 168.7,528.6 166.8,529.0 164.8,529.3 163.7,529.5 162.6,529.6 160.3,529.9 157.9,530.1 155.5,530.3 154.9,530.4 153.0,530.5 150.5,530.6 148.0,530.7 145.5,530.7 143.1,530.7 140.8,530.6 138.7,530.5 137.1,530.4 136.6,530.3 134.8,530.1 133.1,529.9 131.6,529.6 130.9,529.5 130.3,529.3 129.3,529.0 128.5,528.6 128.0,528.2 127.9,528.1 127.7,527.8" fill="#5580b8" />
<polygon points="162.5,510.9 168.2,514.9 158.0,509.8" fill="#3d5b85" stroke="#3d5b85" stroke-width="0.4"/>
<polygon points="168.2,514.9 175.4,524.9 172.4,523.5" fill="#365076" stroke="#365076" stroke-width="0.4"/>
<polygon points="132.2,517.3 132.6,524.9 128.5,526.5" fill="#7face6" stroke="#7face6" stroke-width="0.4"/>
<polygon points="141.7,510.9 141.3,514.9 132.6,524.9 132.2,517.3" fill="#6c9cd6" stroke="#6c9cd6" stroke-width="0.4"/>
<polygon points="149.4,509.8 141.3,514.9 141.7,510.9" fill="#6593cc" stroke="#6593cc" stroke-width="0.4"/>
<polygon points="158.0,509.8 156.2,513.9 149.4,509.8" fill="#5681b9" stroke="#5681b9" stroke-width="0.4"/>
<polygon points="158.0,509.8 168.2,514.9 166.2,522.6 156.2,513.9" fill="#4b71a4" stroke="#4b71a4" stroke-width="0.4"/>
<polygon points="168.2,514.9 172.4,523.5 166.2,522.6" fill="#405f8c" stroke="#405f8c" stroke-width="0.4"/>
<polygon points="149.4,509.8 156.2,513.9 148.4,522.6 141.3,514.9" fill="#6695cf" stroke="#6695cf" stroke-width="0.4"/>
<polygon points="141.3,514.9 139.6,523.5 132.6,524.9" fill="#98c4f3" stroke="#98c4f3" stroke-width="0.4"/>
<polygon points="156.2,513.9 166.2,522.6 157.8,522.3" fill="#5580b8" stroke="#5580b8" stroke-width="0.4"/>
<polygon points="141.3,514.9 148.4,522.6 139.6,523.5" fill="#8cb8f1" stroke="#8cb8f1" stroke-width="0.4"/>
<polygon points="156.2,513.9 157.8,522.3 148.4,522.6" fill="#6b9ad4" stroke="#6b9ad4" stroke-width="0.4"/>
<polygon points="127.7,527.4 132.2,517.3 141.7,510.9 149.4,509.8 158.0,509.8 162.5,510.9 168.2,514.9 170.2,517.3 175.4,524.9 175.6,525.2 175.6,525.6 175.3,526.1 174.8,526.5 174.1,526.9 173.1,527.4 171.8,527.8 170.7,528.1 170.3,528.2 168.7,528.6 166.8,529.0 164.8,529.3 163.7,529.5 162.6,529.6 160.3,529.9 157.9,530.1 155.5,530.3 154.9,530.4 153.0,530.5 150.5,530.6 148.0,530.7 145.5,530.7 143.1,530.7 140.8,530.6 138.7,530.5 137.1,530.4 136.6,530.3 134.8,530.1 133.1,529.9 131.6,529.6 130.9,529.5 130.3,529.3 129.3,529.0 128.5,528.6 128.0,528.2 127.9,528.1 127.7,527.8" fill="none" stroke="#3d4a5c" stroke-width="0.8" stroke-linejoin="round"/>
<polygon points="177.3,569.0 177.3,568.3 179.3,525.0 180.1,524.3 181.6,523.6 183.9,523.1 186.7,522.6 190.2,522.3 194.0,522.1 198.2,522.0 202.6,522.1 207.1,522.3 211.5,522.6 215.7,523.1 219.5,523.6 222.9,524.3 225.8,525.0 228.0,525.7 229.5,526.5 230.2,527.3 230.2,528.0 228.2,571.4 227.4,572.1 225.9,572.7 223.7,573.3 220.8,573.7 217.3,574.0 213.5,574.2 209.3,574.3 204.9,574.2 200.4,574.0 196.0,573.7 191.9,573.3 188.0,572.7 184.6,572.1 181.8,571.4 179.5,570.6 178.0,569.8" fill="url(#gcylS)" stroke="#5e4307" stroke-width="0.8"/>
<polygon points="211.3,531.0 215.5,530.9 219.3,530.7 222.8,530.4 225.6,529.9 227.9,529.4 229.4,528.7 230.2,528.0 230.2,527.3 229.5,526.5 228.0,525.7 225.8,525.0 222.9,524.3 219.5,523.6 215.7,523.1 211.5,522.6 207.1,522.3 202.6,522.1 198.2,522.0 194.0,522.1 190.2,522.3 186.7,522.6 183.9,523.1 181.6,523.6 180.1,524.3 179.3,525.0 179.3,525.7 180.0,526.5 181.5,527.3 183.7,528.0 186.6,528.7 190.0,529.4 193.9,529.9 198.0,530.4 202.4,530.7 206.9,530.9" fill="#3a5274" />
<polygon points="180.8,525.6 180.8,525.2 181.0,524.9 186.2,517.3 188.2,514.9 193.9,510.9 198.4,509.8 207.0,509.8 214.7,510.9 224.2,517.3 228.7,527.4 228.7,527.8 228.5,528.1 228.4,528.2 227.9,528.6 227.1,529.0 226.1,529.3 225.5,529.5 224.8,529.6 223.3,529.9 221.6,530.1 219.8,530.3 219.3,530.4 217.7,530.5 215.6,530.6 213.3,530.7 210.9,530.7 208.4,530.7 205.9,530.6 203.4,530.5 201.5,530.4 200.9,530.3 198.5,530.1 196.1,529.9 193.8,529.6 192.7,529.5 191.6,529.3 189.6,529.0 187.7,528.6 186.1,528.2 185.7,528.1 184.6,527.8 183.3,527.4 182.3,526.9 181.6,526.5 181.1,526.1" fill="#5580b8" />
<polygon points="198.4,509.8 188.2,514.9 193.9,510.9" fill="#5f8cc5" stroke="#5f8cc5" stroke-width="0.4"/>
<polygon points="188.2,514.9 184.0,523.5 181.0,524.9" fill="#72a2dc" stroke="#72a2dc" stroke-width="0.4"/>
<polygon points="224.2,517.3 227.9,526.5 223.8,524.9" fill="#365076" stroke="#365076" stroke-width="0.4"/>
<polygon points="214.7,510.9 224.2,517.3 223.8,524.9 215.1,514.9" fill="#3d5a85" stroke="#3d5a85" stroke-width="0.4"/>
<polygon points="214.7,510.9 215.1,514.9 207.0,509.8" fill="#4b70a4" stroke="#4b70a4" stroke-width="0.4"/>
<polygon points="207.0,509.8 200.2,513.9 198.4,509.8" fill="#5e8bc4" stroke="#5e8bc4" stroke-width="0.4"/>
<polygon points="198.4,509.8 200.2,513.9 190.2,522.6 188.2,514.9" fill="#6b9bd5" stroke="#6b9bd5" stroke-width="0.4"/>
<polygon points="188.2,514.9 190.2,522.6 184.0,523.5" fill="#90bcf1" stroke="#90bcf1" stroke-width="0.4"/>
<polygon points="207.0,509.8 215.1,514.9 208.0,522.6 200.2,513.9" fill="#5b87c0" stroke="#5b87c0" stroke-width="0.4"/>
<polygon points="215.1,514.9 223.8,524.9 216.8,523.5" fill="#456798" stroke="#456798" stroke-width="0.4"/>
<polygon points="200.2,513.9 198.6,522.3 190.2,522.6" fill="#8fbbf1" stroke="#8fbbf1" stroke-width="0.4"/>
<polygon points="215.1,514.9 216.8,523.5 208.0,522.6" fill="#5a86be" stroke="#5a86be" stroke-width="0.4"/>
<polygon points="200.2,513.9 208.0,522.6 198.6,522.3" fill="#71a0da" stroke="#71a0da" stroke-width="0.4"/>
<polygon points="180.8,525.6 180.8,525.2 181.0,524.9 186.2,517.3 188.2,514.9 193.9,510.9 198.4,509.8 207.0,509.8 214.7,510.9 224.2,517.3 228.7,527.4 228.7,527.8 228.5,528.1 228.4,528.2 227.9,528.6 227.1,529.0 226.1,529.3 225.5,529.5 224.8,529.6 223.3,529.9 221.6,530.1 219.8,530.3 219.3,530.4 217.7,530.5 215.6,530.6 213.3,530.7 210.9,530.7 208.4,530.7 205.9,530.6 203.4,530.5 201.5,530.4 200.9,530.3 198.5,530.1 196.1,529.9 193.8,529.6 192.7,529.5 191.6,529.3 189.6,529.0 187.7,528.6 186.1,528.2 185.7,528.1 184.6,527.8 183.3,527.4 182.3,526.9 181.6,526.5 181.1,526.1" fill="none" stroke="#3d4a5c" stroke-width="0.8" stroke-linejoin="round"/>
<g transform="translate(178.2,475.0) rotate(-0.0)">
<path d="M-10.5,0 A10.5,10.5 0 0 1 10.5,0 L10.5,72.5 A10.5,0.0 0 0 1 -10.5,72.5 Z" fill="url(#gcapS)" stroke="#6b4d08" stroke-width="0.7"/>
<circle cx="-2.3" cy="-2.6" r="6.5" fill="url(#hl)"/>
</g>
<g transform="translate(221.9,503.6) rotate(-0.0)">
<path d="M-7.6,0 A7.6,7.6 0 0 1 7.6,0 L7.6,53.9 A7.6,0.0 0 0 1 -7.6,53.9 Z" fill="url(#gcapS)" stroke="#6b4d08" stroke-width="0.7"/>
<circle cx="-1.7" cy="-1.9" r="4.7" fill="url(#hl)"/>
</g>
<g transform="translate(134.4,503.6) rotate(-0.0)">
<path d="M-7.6,0 A7.6,7.6 0 0 1 7.6,0 L7.6,53.9 A7.6,0.0 0 0 1 -7.6,53.9 Z" fill="url(#gcapS)" stroke="#6b4d08" stroke-width="0.7"/>
<circle cx="-1.7" cy="-1.9" r="4.7" fill="url(#hl)"/>
</g>
<polygon points="221.9,566.9 222.0,566.4 227.4,523.1 228.2,522.6 229.8,522.3 232.0,522.1 234.9,522.0 238.3,522.1 242.2,522.3 246.3,522.6 250.7,523.1 255.1,523.6 259.5,524.3 263.6,525.0 267.5,525.7 270.8,526.5 273.6,527.3 275.8,528.0 277.3,528.7 278.1,529.4 278.0,529.9 272.6,573.3 271.8,573.7 270.2,574.0 268.0,574.2 265.1,574.3 261.7,574.2 257.8,574.0 253.7,573.7 249.3,573.3 244.9,572.7 240.5,572.1 236.4,571.4 232.5,570.6 229.2,569.8 226.3,569.0 224.2,568.3 222.7,567.6" fill="url(#gcylS)" stroke="#5e4307" stroke-width="0.8"/>
<polygon points="270.6,531.0 273.4,530.9 275.7,530.7 277.2,530.4 278.0,529.9 278.1,529.4 277.3,528.7 275.8,528.0 273.7,527.3 270.8,526.5 267.5,525.7 263.6,525.0 259.5,524.3 255.1,523.6 250.7,523.1 246.3,522.6 242.2,522.3 238.3,522.1 234.9,522.0 232.0,522.1 229.8,522.3 228.2,522.6 227.4,523.1 227.4,523.6 228.1,524.3 229.6,525.0 231.8,525.7 234.6,526.5 238.0,527.3 241.8,528.0 246.0,528.7 250.3,529.4 254.7,529.9 259.1,530.4 263.3,530.7 267.1,530.9" fill="#3a5274" />
<polygon points="228.9,523.5 229.0,523.4 234.3,514.9 243.9,509.8 250.2,509.8 259.1,510.9 265.3,512.5 273.4,519.8 276.5,529.3 276.5,529.5 276.5,529.6 276.2,529.9 275.7,530.1 274.9,530.3 274.7,530.4 273.9,530.5 272.6,530.6 271.1,530.7 269.4,530.7 267.6,530.7 265.5,530.6 263.4,530.5 261.7,530.4 258.7,530.1 256.3,529.9 253.8,529.6 252.5,529.5 251.3,529.3 248.8,529.0 246.4,528.6 244.0,528.2 243.4,528.1 241.8,527.8 239.6,527.4 237.6,526.9 235.8,526.5 234.1,526.1 232.7,525.6 231.4,525.2 230.7,524.9 230.4,524.8 229.7,524.4 229.2,524.0 228.9,523.7" fill="#5580b8" />
<polygon points="234.4,514.9 230.8,522.6 228.9,523.5" fill="#6a99d3" stroke="#6a99d3" stroke-width="0.4"/>
<polygon points="273.4,519.8 276.5,529.5 274.8,528.1" fill="#365076" stroke="#365076" stroke-width="0.4"/>
<polygon points="243.9,509.8 240.2,513.9 230.8,522.6 234.4,514.9" fill="#6391cb" stroke="#6391cb" stroke-width="0.4"/>
<polygon points="265.3,512.5 273.4,519.8 274.8,528.1 267.8,517.3" fill="#365076" stroke="#365076" stroke-width="0.4"/>
<polygon points="250.2,509.8 240.2,513.9 243.9,509.8" fill="#618ec7" stroke="#618ec7" stroke-width="0.4"/>
<polygon points="265.3,512.5 267.8,517.3 259.1,510.9" fill="#41618e" stroke="#41618e" stroke-width="0.4"/>
<polygon points="259.1,510.9 254.0,514.9 250.2,509.8" fill="#5884bc" stroke="#5884bc" stroke-width="0.4"/>
<polygon points="240.2,513.9 236.0,522.3 230.8,522.6" fill="#89b5ef" stroke="#89b5ef" stroke-width="0.4"/>
<polygon points="267.8,517.3 274.8,528.1 269.7,526.5" fill="#365076" stroke="#365076" stroke-width="0.4"/>
<polygon points="250.2,509.8 254.0,514.9 243.8,522.6 240.2,513.9" fill="#6796d0" stroke="#6796d0" stroke-width="0.4"/>
<polygon points="259.1,510.9 267.8,517.3 262.0,524.9 254.0,514.9" fill="#5079ae" stroke="#5079ae" stroke-width="0.4"/>
<polygon points="240.2,513.9 243.8,522.6 236.0,522.3" fill="#92bef2" stroke="#92bef2" stroke-width="0.4"/>
<polygon points="267.8,517.3 269.7,526.5 262.0,524.9" fill="#4b70a3" stroke="#4b70a3" stroke-width="0.4"/>
<polygon points="254.0,514.9 252.9,523.5 243.8,522.6" fill="#79a7e1" stroke="#79a7e1" stroke-width="0.4"/>
<polygon points="254.0,514.9 262.0,524.9 252.9,523.5" fill="#608dc6" stroke="#608dc6" stroke-width="0.4"/>
<polygon points="228.9,523.5 229.0,523.4 234.3,514.9 243.9,509.8 250.2,509.8 259.1,510.9 265.3,512.5 273.4,519.8 276.5,529.3 276.5,529.5 276.5,529.6 276.2,529.9 275.7,530.1 274.9,530.3 274.7,530.4 273.9,530.5 272.6,530.6 271.1,530.7 269.4,530.7 267.6,530.7 265.5,530.6 263.4,530.5 261.7,530.4 258.7,530.1 256.3,529.9 253.8,529.6 252.5,529.5 251.3,529.3 248.8,529.0 246.4,528.6 244.0,528.2 243.4,528.1 241.8,527.8 239.6,527.4 237.6,526.9 235.8,526.5 234.1,526.1 232.7,525.6 231.4,525.2 230.7,524.9 230.4,524.8 229.7,524.4 229.2,524.0 228.9,523.7" fill="none" stroke="#3d4a5c" stroke-width="0.8" stroke-linejoin="round"/>
<polygon points="78.3,529.4 79.1,528.7 80.6,528.0 82.8,527.3 85.6,526.5 88.9,525.7 92.8,525.0 96.9,524.3 101.3,523.6 105.7,523.1 110.0,522.6 114.2,522.3 118.1,522.1 121.5,522.0 124.4,522.1 126.6,522.3 128.2,522.6 129.0,523.1 134.4,566.4 134.4,566.9 133.7,567.6 132.2,568.3 130.1,569.0 127.2,569.8 123.9,570.6 120.0,571.4 115.9,572.1 111.5,572.7 107.1,573.3 102.7,573.7 98.6,574.0 94.7,574.2 91.3,574.3 88.4,574.2 86.2,574.0 84.6,573.7 83.8,573.3 78.4,529.9" fill="url(#gcylS)" stroke="#5e4307" stroke-width="0.8"/>
<polygon points="85.8,531.0 89.3,530.9 93.1,530.7 97.3,530.4 101.7,529.9 106.1,529.4 110.4,528.7 114.6,528.0 118.4,527.3 121.8,526.5 124.6,525.7 126.8,525.0 128.3,524.3 129.0,523.6 129.0,523.1 128.2,522.6 126.6,522.3 124.4,522.1 121.5,522.0 118.1,522.1 114.2,522.3 110.1,522.6 105.7,523.1 101.3,523.6 96.9,524.3 92.8,525.0 88.9,525.7 85.6,526.5 82.7,527.3 80.6,528.0 79.1,528.7 78.3,529.4 78.4,529.9 79.2,530.4 80.7,530.7 83.0,530.9" fill="#3a5274" />
<polygon points="79.9,529.5 79.9,529.3 83.0,519.8 91.1,512.5 97.3,510.9 106.2,509.8 112.5,509.8 122.0,514.9 127.4,523.4 127.5,523.5 127.5,523.7 127.2,524.0 126.7,524.4 126.0,524.8 125.7,524.9 125.0,525.2 123.7,525.6 122.3,526.1 120.6,526.5 118.8,526.9 116.8,527.4 114.7,527.8 113.0,528.1 112.4,528.2 110.0,528.6 107.6,529.0 105.1,529.3 103.9,529.5 102.6,529.6 100.1,529.9 97.7,530.1 94.7,530.4 93.0,530.5 90.9,530.6 88.8,530.7 87.0,530.7 85.3,530.7 83.8,530.6 82.5,530.5 81.7,530.4 81.5,530.3 80.7,530.1 80.2,529.9 79.9,529.6" fill="#5580b8" />
<polygon points="122.0,514.9 127.5,523.5 125.6,522.6" fill="#365076" stroke="#365076" stroke-width="0.4"/>
<polygon points="83.0,519.8 81.6,528.1 79.9,529.5" fill="#6b9ad4" stroke="#6b9ad4" stroke-width="0.4"/>
<polygon points="112.5,509.8 122.0,514.9 125.6,522.6 116.2,513.9" fill="#3a567f" stroke="#3a567f" stroke-width="0.4"/>
<polygon points="91.1,512.5 88.6,517.3 81.6,528.1 83.0,519.8" fill="#6a99d3" stroke="#6a99d3" stroke-width="0.4"/>
<polygon points="112.5,509.8 116.2,513.9 106.2,509.8" fill="#4b70a3" stroke="#4b70a3" stroke-width="0.4"/>
<polygon points="97.3,510.9 88.6,517.3 91.1,512.5" fill="#6a99d3" stroke="#6a99d3" stroke-width="0.4"/>
<polygon points="106.2,509.8 102.4,514.9 97.3,510.9" fill="#628fc8" stroke="#628fc8" stroke-width="0.4"/>
<polygon points="116.2,513.9 125.6,522.6 120.4,522.3" fill="#3b5882" stroke="#3b5882" stroke-width="0.4"/>
<polygon points="88.6,517.3 86.7,526.5 81.6,528.1" fill="#8ebaf1" stroke="#8ebaf1" stroke-width="0.4"/>
<polygon points="106.2,509.8 116.2,513.9 112.6,522.6 102.4,514.9" fill="#5985bd" stroke="#5985bd" stroke-width="0.4"/>
<polygon points="97.3,510.9 102.4,514.9 94.4,524.9 88.6,517.3" fill="#74a3dd" stroke="#74a3dd" stroke-width="0.4"/>
<polygon points="116.2,513.9 120.4,522.3 112.6,522.6" fill="#517ab0" stroke="#517ab0" stroke-width="0.4"/>
<polygon points="88.6,517.3 94.4,524.9 86.7,526.5" fill="#9dcaf5" stroke="#9dcaf5" stroke-width="0.4"/>
<polygon points="102.4,514.9 112.6,522.6 103.5,523.5" fill="#6695ce" stroke="#6695ce" stroke-width="0.4"/>
<polygon points="102.4,514.9 103.5,523.5 94.4,524.9" fill="#87b3ed" stroke="#87b3ed" stroke-width="0.4"/>
<polygon points="79.9,529.5 79.9,529.3 83.0,519.8 91.1,512.5 97.3,510.9 106.2,509.8 112.5,509.8 122.0,514.9 127.4,523.4 127.5,523.5 127.5,523.7 127.2,524.0 126.7,524.4 126.0,524.8 125.7,524.9 125.0,525.2 123.7,525.6 122.3,526.1 120.6,526.5 118.8,526.9 116.8,527.4 114.7,527.8 113.0,528.1 112.4,528.2 110.0,528.6 107.6,529.0 105.1,529.3 103.9,529.5 102.6,529.6 100.1,529.9 97.7,530.1 94.7,530.4 93.0,530.5 90.9,530.6 88.8,530.7 87.0,530.7 85.3,530.7 83.8,530.6 82.5,530.5 81.7,530.4 81.5,530.3 80.7,530.1 80.2,529.9 79.9,529.6" fill="none" stroke="#3d4a5c" stroke-width="0.8" stroke-linejoin="round"/>
<g transform="translate(71.2,513.4) rotate(-9.2)">
<path d="M-6.4,0 A6.4,6.4 0 0 1 6.4,0 L6.4,64.9 A6.4,0.0 0 0 1 -6.4,64.9 Z" fill="url(#gcapS)" stroke="#6b4d08" stroke-width="0.7"/>
<circle cx="-1.4" cy="-1.6" r="4.0" fill="url(#hl)"/>
</g>
<g transform="translate(285.2,513.4) rotate(9.2)">
<path d="M-6.4,0 A6.4,6.4 0 0 1 6.4,0 L6.4,64.9 A6.4,0.0 0 0 1 -6.4,64.9 Z" fill="url(#gcapS)" stroke="#6b4d08" stroke-width="0.7"/>
<circle cx="-1.4" cy="-1.6" r="4.0" fill="url(#hl)"/>
</g>
<g transform="translate(102.4,503.6) rotate(-0.0)">
<path d="M-7.6,0 A7.6,7.6 0 0 1 7.6,0 L7.6,53.9 A7.6,0.0 0 0 1 -7.6,53.9 Z" fill="url(#gcapS)" stroke="#6b4d08" stroke-width="0.7"/>
<circle cx="-1.7" cy="-1.9" r="4.7" fill="url(#hl)"/>
</g>
<g transform="translate(254.0,503.6) rotate(-0.0)">
<path d="M-7.6,0 A7.6,7.6 0 0 1 7.6,0 L7.6,53.9 A7.6,0.0 0 0 1 -7.6,53.9 Z" fill="url(#gcapS)" stroke="#6b4d08" stroke-width="0.7"/>
<circle cx="-1.7" cy="-1.9" r="4.7" fill="url(#hl)"/>
</g>
<path d="M101.9,497.5 L101.9,517.5 A76.3,0.0 0 0 0 254.5,517.5 L254.5,497.5 A76.3,0.0 0 0 0 101.9,497.5 Z" fill="url(#gcylS)" stroke="#5e4307" stroke-width="0.8"/>
<polygon points="105.2,497.5 119.8,487.4 141.7,473.5 214.7,473.5 236.6,487.4 251.2,497.5" fill="#5580b8" />
<polygon points="236.6,487.4 251.2,497.5 245.6,497.5" fill="#365076" stroke="#365076" stroke-width="0.4"/>
<polygon points="119.8,487.4 110.8,497.5 105.2,497.5" fill="#6391ca" stroke="#6391ca" stroke-width="0.4"/>
<polygon points="214.7,473.5 236.6,487.4 245.6,497.5 219.5,487.4" fill="#38537a" stroke="#38537a" stroke-width="0.4"/>
<polygon points="141.7,473.5 136.9,487.4 110.8,497.5 119.8,487.4" fill="#709fd9" stroke="#709fd9" stroke-width="0.4"/>
<polygon points="214.7,473.5 219.5,487.4 193.3,473.5" fill="#4a6fa2" stroke="#4a6fa2" stroke-width="0.4"/>
<polygon points="163.1,473.5 136.9,487.4 141.7,473.5" fill="#6b9bd5" stroke="#6b9bd5" stroke-width="0.4"/>
<polygon points="219.5,487.4 245.6,497.5 229.8,497.5" fill="#436493" stroke="#436493" stroke-width="0.4"/>
<polygon points="136.9,487.4 126.6,497.5 110.8,497.5" fill="#6c9cd6" stroke="#6c9cd6" stroke-width="0.4"/>
<polygon points="193.3,473.5 178.2,487.4 163.1,473.5" fill="#618fc8" stroke="#618fc8" stroke-width="0.4"/>
<polygon points="193.3,473.5 219.5,487.4 206.1,497.5 178.2,487.4" fill="#5884bd" stroke="#5884bd" stroke-width="0.4"/>
<polygon points="163.1,473.5 178.2,487.4 150.3,497.5 136.9,487.4" fill="#79a7e1" stroke="#79a7e1" stroke-width="0.4"/>
<polygon points="219.5,487.4 229.8,497.5 206.1,497.5" fill="#5079af" stroke="#5079af" stroke-width="0.4"/>
<polygon points="136.9,487.4 150.3,497.5 126.6,497.5" fill="#6f9fd9" stroke="#6f9fd9" stroke-width="0.4"/>
<polygon points="178.2,487.4 206.1,497.5 178.2,497.5" fill="#5d8ac3" stroke="#5d8ac3" stroke-width="0.4"/>
<polygon points="178.2,487.4 178.2,497.5 150.3,497.5" fill="#6897d1" stroke="#6897d1" stroke-width="0.4"/>
<polygon points="105.2,497.5 119.8,487.4 141.7,473.5 214.7,473.5 236.6,487.4 251.2,497.5" fill="none" stroke="#3d4a5c" stroke-width="0.8" stroke-linejoin="round"/>
<g transform="translate(49.1,513.4) rotate(-10.8)">
<path d="M-6.4,0 A6.4,6.4 0 0 1 6.4,0 L6.4,65.3 A6.4,0.0 0 0 1 -6.4,65.3 Z" fill="url(#gcapS)" stroke="#6b4d08" stroke-width="0.7"/>
<circle cx="-1.4" cy="-1.6" r="4.0" fill="url(#hl)"/>
</g>
<g transform="translate(307.3,513.4) rotate(10.8)">
<path d="M-6.4,0 A6.4,6.4 0 0 1 6.4,0 L6.4,65.3 A6.4,0.0 0 0 1 -6.4,65.3 Z" fill="url(#gcapS)" stroke="#6b4d08" stroke-width="0.7"/>
<circle cx="-1.4" cy="-1.6" r="4.0" fill="url(#hl)"/>
</g>
<polygon points="54.0,530.7 54.7,530.4 56.2,529.9 58.4,529.4 61.2,528.7 64.5,528.0 68.3,527.3 72.5,526.5 76.8,525.7 81.2,525.0 85.5,524.3 89.7,523.6 93.5,523.1 96.9,522.6 99.7,522.3 101.9,522.1 103.4,522.0 104.2,522.1 111.7,565.4 111.7,565.6 111.0,565.9 109.5,566.4 107.3,566.9 104.5,567.6 101.1,568.3 97.3,569.0 93.2,569.8 88.8,570.6 84.5,571.4 80.1,572.1 76.0,572.7 72.2,573.3 68.8,573.7 65.9,574.0 63.7,574.2 62.2,574.3 61.4,574.2 54.0,530.9" fill="url(#gcylS)" stroke="#5e4307" stroke-width="0.8"/>
<polygon points="54.8,531.0 56.3,530.9 58.5,530.7 61.3,530.4 64.7,529.9 68.5,529.4 72.7,528.7 77.0,528.0 81.4,527.3 85.7,526.5 89.8,525.7 93.6,525.0 97.0,524.3 99.8,523.6 102.0,523.1 103.5,522.6 104.2,522.3 104.2,522.1 103.4,522.0 101.9,522.1 99.7,522.3 96.9,522.6 93.5,523.1 89.7,523.6 85.5,524.3 81.2,525.0 76.8,525.7 72.5,526.5 68.3,527.3 64.5,528.0 61.2,528.7 58.4,529.4 56.2,529.9 54.7,530.4 54.0,530.7 54.0,530.9" fill="#3a5274" />
<polygon points="55.5,530.5 58.8,520.8 65.1,513.6 69.5,512.5 78.0,510.9 85.7,509.8 88.0,509.8 96.2,513.9 102.7,522.4 102.7,522.5 102.6,522.6 102.5,522.7 102.0,522.9 101.2,523.1 100.2,523.4 99.6,523.5 99.0,523.7 97.5,524.0 95.9,524.4 94.0,524.8 93.6,524.9 92.1,525.2 89.9,525.6 87.7,526.1 85.3,526.5 82.9,526.9 80.4,527.4 78.0,527.8 76.1,528.1 75.5,528.2 73.1,528.6 70.7,529.0 68.4,529.3 67.3,529.5 66.3,529.6 64.3,529.9 62.4,530.1 60.4,530.4 59.3,530.5 58.1,530.6 57.0,530.7 56.3,530.7 55.8,530.7 55.5,530.6" fill="#5580b8" />
<polygon points="65.1,513.6 60.7,519.8 55.6,530.4 58.8,520.8" fill="#6593cd" stroke="#6593cd" stroke-width="0.4"/>
<polygon points="96.2,513.9 102.6,522.6 101.9,522.3" fill="#365076" stroke="#365076" stroke-width="0.4"/>
<polygon points="88.0,509.8 96.2,513.9 85.7,509.8" fill="#3e5d89" stroke="#3e5d89" stroke-width="0.4"/>
<polygon points="69.5,512.5 60.7,519.8 65.1,513.6" fill="#6b9bd5" stroke="#6b9bd5" stroke-width="0.4"/>
<polygon points="60.7,519.8 58.6,529.5 55.6,530.4" fill="#77a6e0" stroke="#77a6e0" stroke-width="0.4"/>
<polygon points="96.2,513.9 101.9,522.3 97.8,522.6" fill="#375178" stroke="#375178" stroke-width="0.4"/>
<polygon points="85.7,509.8 96.2,513.9 97.8,522.6 87.2,514.9" fill="#496ea0" stroke="#496ea0" stroke-width="0.4"/>
<polygon points="85.7,509.8 87.2,514.9 78.0,510.9" fill="#5783bb" stroke="#5783bb" stroke-width="0.4"/>
<polygon points="78.0,510.9 72.4,517.3 69.5,512.5" fill="#6d9dd7" stroke="#6d9dd7" stroke-width="0.4"/>
<polygon points="60.7,519.8 64.6,528.1 58.6,529.5" fill="#99c6f4" stroke="#99c6f4" stroke-width="0.4"/>
<polygon points="69.5,512.5 72.4,517.3 64.6,528.1 60.7,519.8" fill="#81aee8" stroke="#81aee8" stroke-width="0.4"/>
<polygon points="87.2,514.9 97.8,522.6 90.8,523.5" fill="#4c72a6" stroke="#4c72a6" stroke-width="0.4"/>
<polygon points="78.0,510.9 87.2,514.9 82.1,524.9 72.4,517.3" fill="#6796d0" stroke="#6796d0" stroke-width="0.4"/>
<polygon points="72.4,517.3 72.9,526.5 64.6,528.1" fill="#9dc9f5" stroke="#9dc9f5" stroke-width="0.4"/>
<polygon points="87.2,514.9 90.8,523.5 82.1,524.9" fill="#618ec7" stroke="#618ec7" stroke-width="0.4"/>
<polygon points="72.4,517.3 82.1,524.9 72.9,526.5" fill="#7dabe5" stroke="#7dabe5" stroke-width="0.4"/>
<polygon points="55.5,530.5 58.8,520.8 65.1,513.6 69.5,512.5 78.0,510.9 85.7,509.8 88.0,509.8 96.2,513.9 102.7,522.4 102.7,522.5 102.6,522.6 102.5,522.7 102.0,522.9 101.2,523.1 100.2,523.4 99.6,523.5 99.0,523.7 97.5,524.0 95.9,524.4 94.0,524.8 93.6,524.9 92.1,525.2 89.9,525.6 87.7,526.1 85.3,526.5 82.9,526.9 80.4,527.4 78.0,527.8 76.1,528.1 75.5,528.2 73.1,528.6 70.7,529.0 68.4,529.3 67.3,529.5 66.3,529.6 64.3,529.9 62.4,530.1 60.4,530.4 59.3,530.5 58.1,530.6 57.0,530.7 56.3,530.7 55.8,530.7 55.5,530.6" fill="none" stroke="#3d4a5c" stroke-width="0.8" stroke-linejoin="round"/>
<polygon points="244.7,565.6 244.7,565.4 252.2,522.1 253.0,522.0 254.5,522.1 256.7,522.3 259.5,522.6 262.9,523.1 266.7,523.6 270.9,524.3 275.2,525.0 279.6,525.7 283.9,526.5 288.1,527.3 291.9,528.0 295.2,528.7 298.0,529.4 300.2,529.9 301.7,530.4 302.4,530.7 302.4,530.9 295.0,574.2 294.2,574.3 292.7,574.2 290.5,574.0 287.6,573.7 284.2,573.3 280.4,572.7 276.3,572.1 271.9,571.4 267.6,570.6 263.2,569.8 259.1,569.0 255.3,568.3 251.9,567.6 249.1,566.9 246.9,566.4 245.4,565.9" fill="url(#gcylS)" stroke="#5e4307" stroke-width="0.8"/>
<polygon points="301.6,531.0 302.4,530.9 302.4,530.7 301.7,530.4 300.2,529.9 298.0,529.4 295.2,528.7 291.9,528.0 288.1,527.3 283.9,526.5 279.6,525.7 275.2,525.0 270.9,524.3 266.7,523.6 262.9,523.1 259.5,522.6 256.7,522.3 254.5,522.1 253.0,522.0 252.2,522.1 252.2,522.3 252.9,522.6 254.4,523.1 256.6,523.6 259.4,524.3 262.8,525.0 266.6,525.7 270.7,526.5 275.0,527.3 279.4,528.0 283.7,528.7 287.9,529.4 291.7,529.9 295.1,530.4 297.9,530.7 300.1,530.9" fill="#3a5274" />
<polygon points="253.7,522.5 253.7,522.4 260.2,513.9 268.4,509.8 270.7,509.8 278.4,510.9 286.9,512.5 291.3,513.6 297.6,520.8 300.9,530.5 300.9,530.6 300.6,530.7 300.1,530.7 299.4,530.7 298.3,530.6 297.1,530.5 296.0,530.4 294.0,530.1 292.1,529.9 290.1,529.6 289.1,529.5 288.0,529.3 285.7,529.0 283.3,528.6 280.9,528.2 280.3,528.1 278.4,527.8 276.0,527.4 273.5,526.9 271.1,526.5 268.7,526.1 266.5,525.6 264.3,525.2 262.8,524.9 262.4,524.8 260.5,524.4 258.9,524.0 257.4,523.7 256.8,523.5 256.2,523.4 255.2,523.1 254.4,522.9 253.9,522.7 253.8,522.6" fill="#5580b8" />
<polygon points="291.3,513.6 297.6,520.8 300.8,530.4 295.7,519.8" fill="#365076" stroke="#365076" stroke-width="0.4"/>
<polygon points="260.2,513.9 254.5,522.3 253.8,522.6" fill="#6593cd" stroke="#6593cd" stroke-width="0.4"/>
<polygon points="270.7,509.8 260.2,513.9 268.4,509.8" fill="#5c88c1" stroke="#5c88c1" stroke-width="0.4"/>
<polygon points="291.3,513.6 295.7,519.8 286.9,512.5" fill="#39547c" stroke="#39547c" stroke-width="0.4"/>
<polygon points="295.7,519.8 300.8,530.4 297.8,529.5" fill="#365076" stroke="#365076" stroke-width="0.4"/>
<polygon points="260.2,513.9 258.6,522.6 254.5,522.3" fill="#82afe9" stroke="#82afe9" stroke-width="0.4"/>
<polygon points="270.7,509.8 269.2,514.9 258.6,522.6 260.2,513.9" fill="#6b9ad4" stroke="#6b9ad4" stroke-width="0.4"/>
<polygon points="278.4,510.9 269.2,514.9 270.7,509.8" fill="#6290c9" stroke="#6290c9" stroke-width="0.4"/>
<polygon points="286.9,512.5 284.0,517.3 278.4,510.9" fill="#527cb2" stroke="#527cb2" stroke-width="0.4"/>
<polygon points="295.7,519.8 297.8,529.5 291.8,528.1" fill="#3b5882" stroke="#3b5882" stroke-width="0.4"/>
<polygon points="286.9,512.5 295.7,519.8 291.8,528.1 284.0,517.3" fill="#476a9c" stroke="#476a9c" stroke-width="0.4"/>
<polygon points="269.2,514.9 265.6,523.5 258.6,522.6" fill="#95c2f3" stroke="#95c2f3" stroke-width="0.4"/>
<polygon points="278.4,510.9 284.0,517.3 274.3,524.9 269.2,514.9" fill="#6391ca" stroke="#6391ca" stroke-width="0.4"/>
<polygon points="284.0,517.3 291.8,528.1 283.5,526.5" fill="#517ab0" stroke="#517ab0" stroke-width="0.4"/>
<polygon points="269.2,514.9 274.3,524.9 265.6,523.5" fill="#85b1eb" stroke="#85b1eb" stroke-width="0.4"/>
<polygon points="284.0,517.3 283.5,526.5 274.3,524.9" fill="#6695cf" stroke="#6695cf" stroke-width="0.4"/>
<polygon points="253.7,522.5 253.7,522.4 260.2,513.9 268.4,509.8 270.7,509.8 278.4,510.9 286.9,512.5 291.3,513.6 297.6,520.8 300.9,530.5 300.9,530.6 300.6,530.7 300.1,530.7 299.4,530.7 298.3,530.6 297.1,530.5 296.0,530.4 294.0,530.1 292.1,529.9 290.1,529.6 289.1,529.5 288.0,529.3 285.7,529.0 283.3,528.6 280.9,528.2 280.3,528.1 278.4,527.8 276.0,527.4 273.5,526.9 271.1,526.5 268.7,526.1 266.5,525.6 264.3,525.2 262.8,524.9 262.4,524.8 260.5,524.4 258.9,524.0 257.4,523.7 256.8,523.5 256.2,523.4 255.2,523.1 254.4,522.9 253.9,522.7 253.8,522.6" fill="none" stroke="#3d4a5c" stroke-width="0.8" stroke-linejoin="round"/>
<g transform="translate(258.4,475.0) rotate(-0.0)">
<path d="M-10.5,0 A10.5,10.5 0 0 1 10.5,0 L10.5,72.5 A10.5,0.0 0 0 1 -10.5,72.5 Z" fill="url(#gcapS)" stroke="#6b4d08" stroke-width="0.7"/>
<circle cx="-2.3" cy="-2.6" r="6.5" fill="url(#hl)"/>
</g>
<g transform="translate(98.0,475.0) rotate(-0.0)">
<path d="M-10.5,0 A10.5,10.5 0 0 1 10.5,0 L10.5,72.5 A10.5,0.0 0 0 1 -10.5,72.5 Z" fill="url(#gcapS)" stroke="#6b4d08" stroke-width="0.7"/>
<circle cx="-2.3" cy="-2.6" r="6.5" fill="url(#hl)"/>
</g>
<polygon points="244.7,565.6 244.7,565.4 252.2,522.1 253.0,522.0 254.5,522.1 256.7,522.3 259.5,522.6 262.9,523.1 266.7,523.6 270.9,524.3 275.2,525.0 279.6,525.7 283.9,526.5 288.1,527.3 291.9,528.0 295.2,528.7 298.0,529.4 300.2,529.9 301.7,530.4 302.4,530.7 302.4,530.9 295.0,574.2 294.2,574.3 292.7,574.2 290.5,574.0 287.6,573.7 284.2,573.3 280.4,572.7 276.3,572.1 271.9,571.4 267.6,570.6 263.2,569.8 259.1,569.0 255.3,568.3 251.9,567.6 249.1,566.9 246.9,566.4 245.4,565.9" fill="url(#gcylS)" stroke="#5e4307" stroke-width="0.8"/>
<polygon points="301.6,531.0 300.1,530.9 297.9,530.7 295.1,530.4 291.7,529.9 287.9,529.4 283.7,528.7 279.4,528.0 275.0,527.3 270.7,526.5 266.6,525.7 262.8,525.0 259.4,524.3 256.6,523.6 254.4,523.1 252.9,522.6 252.2,522.3 252.2,522.1 253.0,522.0 254.5,522.1 256.7,522.3 259.5,522.6 262.9,523.1 266.7,523.6 270.9,524.3 275.2,525.0 279.6,525.7 283.9,526.5 288.1,527.3 291.9,528.0 295.2,528.7 298.0,529.4 300.2,529.9 301.7,530.4 302.4,530.7 302.4,530.9" fill="#3a5274" />
<polygon points="253.7,522.5 253.7,522.4 260.2,513.9 268.4,509.8 270.7,509.8 278.4,510.9 286.9,512.5 291.3,513.6 297.6,520.8 300.9,530.5 300.9,530.6 300.6,530.7 300.1,530.7 299.4,530.7 298.3,530.6 297.1,530.5 296.0,530.4 294.0,530.1 292.1,529.9 290.1,529.6 289.1,529.5 288.0,529.3 285.7,529.0 283.3,528.6 280.9,528.2 280.3,528.1 278.4,527.8 276.0,527.4 273.5,526.9 271.1,526.5 268.7,526.1 266.5,525.6 264.3,525.2 262.8,524.9 262.4,524.8 260.5,524.4 258.9,524.0 257.4,523.7 256.8,523.5 256.2,523.4 255.2,523.1 254.4,522.9 253.9,522.7 253.8,522.6" fill="#5580b8" />
<polygon points="289.0,513.6 281.3,512.5 272.8,510.9 268.4,509.8 270.7,509.8 278.4,510.9 286.9,512.5 291.3,513.6" fill="#456898" stroke="#456898" stroke-width="0.4"/>
<polygon points="297.6,520.8 300.8,530.4 300.1,530.7" fill="#365076" stroke="#365076" stroke-width="0.4"/>
<polygon points="268.4,509.8 262.0,514.9 253.8,522.6 260.2,513.9" fill="#6290c9" stroke="#6290c9" stroke-width="0.4"/>
<polygon points="291.3,513.6 297.6,520.8 289.0,513.6" fill="#365076" stroke="#365076" stroke-width="0.4"/>
<polygon points="272.8,510.9 262.0,514.9 268.4,509.8" fill="#6593cc" stroke="#6593cc" stroke-width="0.4"/>
<polygon points="262.0,514.9 256.8,523.5 253.8,522.6" fill="#7caae4" stroke="#7caae4" stroke-width="0.4"/>
<polygon points="297.6,520.8 300.1,530.7 296.0,530.4" fill="#365076" stroke="#365076" stroke-width="0.4"/>
<polygon points="289.0,513.6 297.6,520.8 296.0,530.4 288.5,519.8" fill="#3e5d89" stroke="#3e5d89" stroke-width="0.4"/>
<polygon points="289.0,513.6 288.5,519.8 281.3,512.5" fill="#4d74a8" stroke="#4d74a8" stroke-width="0.4"/>
<polygon points="262.0,514.9 262.8,524.9 256.8,523.5" fill="#98c5f4" stroke="#98c5f4" stroke-width="0.4"/>
<polygon points="281.3,512.5 273.8,517.3 272.8,510.9" fill="#6290c9" stroke="#6290c9" stroke-width="0.4"/>
<polygon points="272.8,510.9 273.8,517.3 262.8,524.9 262.0,514.9" fill="#72a1db" stroke="#72a1db" stroke-width="0.4"/>
<polygon points="288.5,519.8 296.0,530.4 289.0,529.5" fill="#446595" stroke="#446595" stroke-width="0.4"/>
<polygon points="281.3,512.5 288.5,519.8 280.3,528.1 273.8,517.3" fill="#5d8ac2" stroke="#5d8ac2" stroke-width="0.4"/>
<polygon points="273.8,517.3 271.1,526.5 262.8,524.9" fill="#91bdf2" stroke="#91bdf2" stroke-width="0.4"/>
<polygon points="288.5,519.8 289.0,529.5 280.3,528.1" fill="#5984bd" stroke="#5984bd" stroke-width="0.4"/>
<polygon points="273.8,517.3 280.3,528.1 271.1,526.5" fill="#6f9fd9" stroke="#6f9fd9" stroke-width="0.4"/>
<polygon points="253.7,522.5 253.7,522.4 260.2,513.9 268.4,509.8 270.7,509.8 278.4,510.9 286.9,512.5 291.3,513.6 297.6,520.8 300.9,530.5 300.9,530.6 300.6,530.7 300.1,530.7 299.4,530.7 298.3,530.6 297.1,530.5 296.0,530.4 294.0,530.1 292.1,529.9 290.1,529.6 289.1,529.5 288.0,529.3 285.7,529.0 283.3,528.6 280.9,528.2 280.3,528.1 278.4,527.8 276.0,527.4 273.5,526.9 271.1,526.5 268.7,526.1 266.5,525.6 264.3,525.2 262.8,524.9 262.4,524.8 260.5,524.4 258.9,524.0 257.4,523.7 256.8,523.5 256.2,523.4 255.2,523.1 254.4,522.9 253.9,522.7 253.8,522.6" fill="none" stroke="#3d4a5c" stroke-width="0.8" stroke-linejoin="round"/>
<polygon points="54.0,530.7 54.7,530.4 56.2,529.9 58.4,529.4 61.2,528.7 64.5,528.0 68.3,527.3 72.5,526.5 76.8,525.7 81.2,525.0 85.5,524.3 89.7,523.6 93.5,523.1 96.9,522.6 99.7,522.3 101.9,522.1 103.4,522.0 104.2,522.1 111.7,565.4 111.7,565.6 111.0,565.9 109.5,566.4 107.3,566.9 104.5,567.6 101.1,568.3 97.3,569.0 93.2,569.8 88.8,570.6 84.5,571.4 80.1,572.1 76.0,572.7 72.2,573.3 68.8,573.7 65.9,574.0 63.7,574.2 62.2,574.3 61.4,574.2 54.0,530.9" fill="url(#gcylS)" stroke="#5e4307" stroke-width="0.8"/>
<polygon points="54.8,531.0 54.0,530.9 54.0,530.7 54.7,530.4 56.2,529.9 58.4,529.4 61.2,528.7 64.5,528.0 68.3,527.3 72.5,526.5 76.8,525.7 81.2,525.0 85.5,524.3 89.7,523.6 93.5,523.1 96.9,522.6 99.7,522.3 101.9,522.1 103.4,522.0 104.2,522.1 104.2,522.3 103.5,522.6 102.0,523.1 99.8,523.6 97.0,524.3 93.6,525.0 89.8,525.7 85.7,526.5 81.4,527.3 77.0,528.0 72.7,528.7 68.5,529.4 64.7,529.9 61.3,530.4 58.5,530.7 56.3,530.9" fill="#3a5274" />
<polygon points="55.5,530.5 58.8,520.8 65.1,513.6 69.5,512.5 78.0,510.9 85.7,509.8 88.0,509.8 96.2,513.9 102.7,522.4 102.7,522.5 102.6,522.6 102.5,522.7 102.0,522.9 101.2,523.1 100.2,523.4 99.6,523.5 99.0,523.7 97.5,524.0 95.9,524.4 94.0,524.8 93.6,524.9 92.1,525.2 89.9,525.6 87.7,526.1 85.3,526.5 82.9,526.9 80.4,527.4 78.0,527.8 76.1,528.1 75.5,528.2 73.1,528.6 70.7,529.0 68.4,529.3 67.3,529.5 66.3,529.6 64.3,529.9 62.4,530.1 60.4,530.4 59.3,530.5 58.1,530.6 57.0,530.7 56.3,530.7 55.8,530.7 55.5,530.6" fill="#5580b8" />
<polygon points="65.1,513.6 69.5,512.5 78.0,510.9 85.7,509.8 88.0,509.8 83.6,510.9 75.1,512.5 67.4,513.6" fill="#527bb1" stroke="#527bb1" stroke-width="0.4"/>
<polygon points="58.8,520.8 56.3,530.7 55.6,530.4" fill="#6695cf" stroke="#6695cf" stroke-width="0.4"/>
<polygon points="88.0,509.8 96.2,513.9 102.6,522.6 94.4,514.9" fill="#38547b" stroke="#38547b" stroke-width="0.4"/>
<polygon points="67.4,513.6 58.8,520.8 65.1,513.6" fill="#6999d3" stroke="#6999d3" stroke-width="0.4"/>
<polygon points="88.0,509.8 94.4,514.9 83.6,510.9" fill="#4a6fa2" stroke="#4a6fa2" stroke-width="0.4"/>
<polygon points="94.4,514.9 102.6,522.6 99.6,523.5" fill="#365076" stroke="#365076" stroke-width="0.4"/>
<polygon points="58.8,520.8 60.4,530.4 56.3,530.7" fill="#87b3ed" stroke="#87b3ed" stroke-width="0.4"/>
<polygon points="67.4,513.6 67.9,519.8 60.4,530.4 58.8,520.8" fill="#83b0ea" stroke="#83b0ea" stroke-width="0.4"/>
<polygon points="75.1,512.5 67.9,519.8 67.4,513.6" fill="#78a7e1" stroke="#78a7e1" stroke-width="0.4"/>
<polygon points="94.4,514.9 99.6,523.5 93.6,524.9" fill="#46699a" stroke="#46699a" stroke-width="0.4"/>
<polygon points="83.6,510.9 82.6,517.3 75.1,512.5" fill="#6390ca" stroke="#6390ca" stroke-width="0.4"/>
<polygon points="83.6,510.9 94.4,514.9 93.6,524.9 82.6,517.3" fill="#5580b8" stroke="#5580b8" stroke-width="0.4"/>
<polygon points="67.9,519.8 67.4,529.5 60.4,530.4" fill="#a0cdf6" stroke="#a0cdf6" stroke-width="0.4"/>
<polygon points="75.1,512.5 82.6,517.3 76.1,528.1 67.9,519.8" fill="#78a6e0" stroke="#78a6e0" stroke-width="0.4"/>
<polygon points="82.6,517.3 93.6,524.9 85.3,526.5" fill="#5a86bf" stroke="#5a86bf" stroke-width="0.4"/>
<polygon points="67.9,519.8 76.1,528.1 67.4,529.5" fill="#94c0f3" stroke="#94c0f3" stroke-width="0.4"/>
<polygon points="82.6,517.3 85.3,526.5 76.1,528.1" fill="#71a0da" stroke="#71a0da" stroke-width="0.4"/>
<polygon points="55.5,530.5 58.8,520.8 65.1,513.6 69.5,512.5 78.0,510.9 85.7,509.8 88.0,509.8 96.2,513.9 102.7,522.4 102.7,522.5 102.6,522.6 102.5,522.7 102.0,522.9 101.2,523.1 100.2,523.4 99.6,523.5 99.0,523.7 97.5,524.0 95.9,524.4 94.0,524.8 93.6,524.9 92.1,525.2 89.9,525.6 87.7,526.1 85.3,526.5 82.9,526.9 80.4,527.4 78.0,527.8 76.1,528.1 75.5,528.2 73.1,528.6 70.7,529.0 68.4,529.3 67.3,529.5 66.3,529.6 64.3,529.9 62.4,530.1 60.4,530.4 59.3,530.5 58.1,530.6 57.0,530.7 56.3,530.7 55.8,530.7 55.5,530.6" fill="none" stroke="#3d4a5c" stroke-width="0.8" stroke-linejoin="round"/>
<g transform="translate(49.1,513.4) rotate(-10.8)">
<path d="M-6.4,0 A6.4,6.4 0 0 1 6.4,0 L6.4,65.3 A6.4,0.0 0 0 1 -6.4,65.3 Z" fill="url(#gcapS)" stroke="#6b4d08" stroke-width="0.7"/>
<circle cx="-1.4" cy="-1.6" r="4.0" fill="url(#hl)"/>
</g>
<g transform="translate(307.3,513.4) rotate(10.8)">
<path d="M-6.4,0 A6.4,6.4 0 0 1 6.4,0 L6.4,65.3 A6.4,0.0 0 0 1 -6.4,65.3 Z" fill="url(#gcapS)" stroke="#6b4d08" stroke-width="0.7"/>
<circle cx="-1.4" cy="-1.6" r="4.0" fill="url(#hl)"/>
</g>
<g transform="translate(254.0,503.6) rotate(-0.0)">
<path d="M-7.6,0 A7.6,7.6 0 0 1 7.6,0 L7.6,53.9 A7.6,0.0 0 0 1 -7.6,53.9 Z" fill="url(#gcapS)" stroke="#6b4d08" stroke-width="0.7"/>
<circle cx="-1.7" cy="-1.9" r="4.7" fill="url(#hl)"/>
</g>
<g transform="translate(102.4,503.6) rotate(-0.0)">
<path d="M-7.6,0 A7.6,7.6 0 0 1 7.6,0 L7.6,53.9 A7.6,0.0 0 0 1 -7.6,53.9 Z" fill="url(#gcapS)" stroke="#6b4d08" stroke-width="0.7"/>
<circle cx="-1.7" cy="-1.9" r="4.7" fill="url(#hl)"/>
</g>
<g transform="translate(71.2,513.4) rotate(-9.2)">
<path d="M-6.4,0 A6.4,6.4 0 0 1 6.4,0 L6.4,64.9 A6.4,0.0 0 0 1 -6.4,64.9 Z" fill="url(#gcapS)" stroke="#6b4d08" stroke-width="0.7"/>
<circle cx="-1.4" cy="-1.6" r="4.0" fill="url(#hl)"/>
</g>
<g transform="translate(285.2,513.4) rotate(9.2)">
<path d="M-6.4,0 A6.4,6.4 0 0 1 6.4,0 L6.4,64.9 A6.4,0.0 0 0 1 -6.4,64.9 Z" fill="url(#gcapS)" stroke="#6b4d08" stroke-width="0.7"/>
<circle cx="-1.4" cy="-1.6" r="4.0" fill="url(#hl)"/>
</g>
<polygon points="221.9,566.9 222.0,566.4 227.4,523.1 228.2,522.6 229.8,522.3 232.0,522.1 234.9,522.0 238.3,522.1 242.2,522.3 246.3,522.6 250.7,523.1 255.1,523.6 259.5,524.3 263.6,525.0 267.5,525.7 270.8,526.5 273.6,527.3 275.8,528.0 277.3,528.7 278.1,529.4 278.0,529.9 272.6,573.3 271.8,573.7 270.2,574.0 268.0,574.2 265.1,574.3 261.7,574.2 257.8,574.0 253.7,573.7 249.3,573.3 244.9,572.7 240.5,572.1 236.4,571.4 232.5,570.6 229.2,569.8 226.3,569.0 224.2,568.3 222.7,567.6" fill="url(#gcylS)" stroke="#5e4307" stroke-width="0.8"/>
<polygon points="270.6,531.0 267.1,530.9 263.3,530.7 259.1,530.4 254.7,529.9 250.3,529.4 246.0,528.7 241.8,528.0 238.0,527.3 234.6,526.5 231.8,525.7 229.6,525.0 228.1,524.3 227.4,523.6 227.4,523.1 228.2,522.6 229.8,522.3 232.0,522.1 234.9,522.0 238.3,522.1 242.2,522.3 246.3,522.6 250.7,523.1 255.1,523.6 259.5,524.3 263.6,525.0 267.5,525.7 270.8,526.5 273.7,527.3 275.8,528.0 277.3,528.7 278.1,529.4 278.0,529.9 277.2,530.4 275.7,530.7 273.4,530.9" fill="#3a5274" />
<polygon points="228.9,523.5 229.0,523.4 234.3,514.9 243.9,509.8 250.2,509.8 259.1,510.9 265.3,512.5 273.4,519.8 276.5,529.3 276.5,529.5 276.5,529.6 276.2,529.9 275.7,530.1 274.9,530.3 274.7,530.4 273.9,530.5 272.6,530.6 271.1,530.7 269.4,530.7 267.6,530.7 265.5,530.6 263.4,530.5 261.7,530.4 258.7,530.1 256.3,529.9 253.8,529.6 252.5,529.5 251.3,529.3 248.8,529.0 246.4,528.6 244.0,528.2 243.4,528.1 241.8,527.8 239.6,527.4 237.6,526.9 235.8,526.5 234.1,526.1 232.7,525.6 231.4,525.2 230.7,524.9 230.4,524.8 229.7,524.4 229.2,524.0 228.9,523.7" fill="#5580b8" />
<polygon points="265.3,512.5 273.4,519.8 265.3,513.6" fill="#365076" stroke="#365076" stroke-width="0.4"/>
<polygon points="243.8,510.9 234.4,514.9 243.9,509.8" fill="#5e8bc4" stroke="#5e8bc4" stroke-width="0.4"/>
<polygon points="258.9,513.6 250.1,512.5 243.8,510.9 243.9,509.8 250.2,509.8 259.1,510.9 265.3,512.5 265.3,513.6" fill="#4a70a3" stroke="#4a70a3" stroke-width="0.4"/>
<polygon points="273.4,519.8 276.5,529.5 274.7,530.4" fill="#365076" stroke="#365076" stroke-width="0.4"/>
<polygon points="234.4,514.9 230.7,524.9 228.9,523.5" fill="#74a3dd" stroke="#74a3dd" stroke-width="0.4"/>
<polygon points="265.3,513.6 273.4,519.8 274.7,530.4 267.6,520.8" fill="#385279" stroke="#385279" stroke-width="0.4"/>
<polygon points="243.8,510.9 240.0,517.3 230.7,524.9 234.4,514.9" fill="#71a0da" stroke="#71a0da" stroke-width="0.4"/>
<polygon points="265.3,513.6 267.6,520.8 258.9,513.6" fill="#496da0" stroke="#496da0" stroke-width="0.4"/>
<polygon points="250.1,512.5 240.0,517.3 243.8,510.9" fill="#6d9dd7" stroke="#6d9dd7" stroke-width="0.4"/>
<polygon points="267.6,520.8 274.7,530.4 269.4,530.7" fill="#365076" stroke="#365076" stroke-width="0.4"/>
<polygon points="240.0,517.3 235.8,526.5 230.7,524.9" fill="#97c3f3" stroke="#97c3f3" stroke-width="0.4"/>
<polygon points="258.9,513.6 253.7,519.8 250.1,512.5" fill="#618ec7" stroke="#618ec7" stroke-width="0.4"/>
<polygon points="258.9,513.6 267.6,520.8 261.7,530.4 253.7,519.8" fill="#5682ba" stroke="#5682ba" stroke-width="0.4"/>
<polygon points="250.1,512.5 253.7,519.8 243.4,528.1 240.0,517.3" fill="#74a3dd" stroke="#74a3dd" stroke-width="0.4"/>
<polygon points="267.6,520.8 269.4,530.7 261.7,530.4" fill="#4c72a6" stroke="#4c72a6" stroke-width="0.4"/>
<polygon points="240.0,517.3 243.4,528.1 235.8,526.5" fill="#9cc8f4" stroke="#9cc8f4" stroke-width="0.4"/>
<polygon points="253.7,519.8 261.7,530.4 252.5,529.5" fill="#618ec7" stroke="#618ec7" stroke-width="0.4"/>
<polygon points="253.7,519.8 252.5,529.5 243.4,528.1" fill="#7dabe5" stroke="#7dabe5" stroke-width="0.4"/>
<polygon points="228.9,523.5 229.0,523.4 234.3,514.9 243.9,509.8 250.2,509.8 259.1,510.9 265.3,512.5 273.4,519.8 276.5,529.3 276.5,529.5 276.5,529.6 276.2,529.9 275.7,530.1 274.9,530.3 274.7,530.4 273.9,530.5 272.6,530.6 271.1,530.7 269.4,530.7 267.6,530.7 265.5,530.6 263.4,530.5 261.7,530.4 258.7,530.1 256.3,529.9 253.8,529.6 252.5,529.5 251.3,529.3 248.8,529.0 246.4,528.6 244.0,528.2 243.4,528.1 241.8,527.8 239.6,527.4 237.6,526.9 235.8,526.5 234.1,526.1 232.7,525.6 231.4,525.2 230.7,524.9 230.4,524.8 229.7,524.4 229.2,524.0 228.9,523.7" fill="none" stroke="#3d4a5c" stroke-width="0.8" stroke-linejoin="round"/>
<polygon points="78.3,529.4 79.1,528.7 80.6,528.0 82.8,527.3 85.6,526.5 88.9,525.7 92.8,525.0 96.9,524.3 101.3,523.6 105.7,523.1 110.0,522.6 114.2,522.3 118.1,522.1 121.5,522.0 124.4,522.1 126.6,522.3 128.2,522.6 129.0,523.1 134.4,566.4 134.4,566.9 133.7,567.6 132.2,568.3 130.1,569.0 127.2,569.8 123.9,570.6 120.0,571.4 115.9,572.1 111.5,572.7 107.1,573.3 102.7,573.7 98.6,574.0 94.7,574.2 91.3,574.3 88.4,574.2 86.2,574.0 84.6,573.7 83.8,573.3 78.4,529.9" fill="url(#gcylS)" stroke="#5e4307" stroke-width="0.8"/>
<polygon points="85.8,531.0 83.0,530.9 80.7,530.7 79.2,530.4 78.4,529.9 78.3,529.4 79.1,528.7 80.6,528.0 82.7,527.3 85.6,526.5 88.9,525.7 92.8,525.0 96.9,524.3 101.3,523.6 105.7,523.1 110.1,522.6 114.2,522.3 118.1,522.1 121.5,522.0 124.4,522.1 126.6,522.3 128.2,522.6 129.0,523.1 129.0,523.6 128.3,524.3 126.8,525.0 124.6,525.7 121.8,526.5 118.4,527.3 114.6,528.0 110.4,528.7 106.1,529.4 101.7,529.9 97.3,530.4 93.1,530.7 89.3,530.9" fill="#3a5274" />
<polygon points="79.9,529.5 79.9,529.3 83.0,519.8 91.1,512.5 97.3,510.9 106.2,509.8 112.5,509.8 122.0,514.9 127.4,523.4 127.5,523.5 127.5,523.7 127.2,524.0 126.7,524.4 126.0,524.8 125.7,524.9 125.0,525.2 123.7,525.6 122.3,526.1 120.6,526.5 118.8,526.9 116.8,527.4 114.7,527.8 113.0,528.1 112.4,528.2 110.0,528.6 107.6,529.0 105.1,529.3 103.9,529.5 102.6,529.6 100.1,529.9 97.7,530.1 94.7,530.4 93.0,530.5 90.9,530.6 88.8,530.7 87.0,530.7 85.3,530.7 83.8,530.6 82.5,530.5 81.7,530.4 81.5,530.3 80.7,530.1 80.2,529.9 79.9,529.6" fill="#5580b8" />
<polygon points="91.1,513.6 83.0,519.8 91.1,512.5" fill="#6493cc" stroke="#6493cc" stroke-width="0.4"/>
<polygon points="112.5,509.8 122.0,514.9 112.6,510.9" fill="#3c5983" stroke="#3c5983" stroke-width="0.4"/>
<polygon points="91.1,513.6 91.1,512.5 97.3,510.9 106.2,509.8 112.5,509.8 112.6,510.9 106.3,512.5 97.5,513.6" fill="#547eb5" stroke="#547eb5" stroke-width="0.4"/>
<polygon points="83.0,519.8 81.7,530.4 79.9,529.5" fill="#72a1db" stroke="#72a1db" stroke-width="0.4"/>
<polygon points="122.0,514.9 127.5,523.5 125.7,524.9" fill="#365076" stroke="#365076" stroke-width="0.4"/>
<polygon points="91.1,513.6 88.8,520.8 81.7,530.4 83.0,519.8" fill="#7ba9e3" stroke="#7ba9e3" stroke-width="0.4"/>
<polygon points="112.6,510.9 122.0,514.9 125.7,524.9 116.4,517.3" fill="#426392" stroke="#426392" stroke-width="0.4"/>
<polygon points="97.5,513.6 88.8,520.8 91.1,513.6" fill="#7caae4" stroke="#7caae4" stroke-width="0.4"/>
<polygon points="112.6,510.9 116.4,517.3 106.3,512.5" fill="#527cb3" stroke="#527cb3" stroke-width="0.4"/>
<polygon points="88.8,520.8 87.0,530.7 81.7,530.4" fill="#94c1f3" stroke="#94c1f3" stroke-width="0.4"/>
<polygon points="116.4,517.3 125.7,524.9 120.6,526.5" fill="#3e5d88" stroke="#3e5d88" stroke-width="0.4"/>
<polygon points="106.3,512.5 102.7,519.8 97.5,513.6" fill="#6b9bd5" stroke="#6b9bd5" stroke-width="0.4"/>
<polygon points="97.5,513.6 102.7,519.8 94.7,530.4 88.8,520.8" fill="#87b3ed" stroke="#87b3ed" stroke-width="0.4"/>
<polygon points="106.3,512.5 116.4,517.3 113.0,528.1 102.7,519.8" fill="#608dc6" stroke="#608dc6" stroke-width="0.4"/>
<polygon points="88.8,520.8 94.7,530.4 87.0,530.7" fill="#a0cdf5" stroke="#a0cdf5" stroke-width="0.4"/>
<polygon points="116.4,517.3 120.6,526.5 113.0,528.1" fill="#527cb2" stroke="#527cb2" stroke-width="0.4"/>
<polygon points="102.7,519.8 103.9,529.5 94.7,530.4" fill="#87b3ed" stroke="#87b3ed" stroke-width="0.4"/>
<polygon points="102.7,519.8 113.0,528.1 103.9,529.5" fill="#6695cf" stroke="#6695cf" stroke-width="0.4"/>
<polygon points="79.9,529.5 79.9,529.3 83.0,519.8 91.1,512.5 97.3,510.9 106.2,509.8 112.5,509.8 122.0,514.9 127.4,523.4 127.5,523.5 127.5,523.7 127.2,524.0 126.7,524.4 126.0,524.8 125.7,524.9 125.0,525.2 123.7,525.6 122.3,526.1 120.6,526.5 118.8,526.9 116.8,527.4 114.7,527.8 113.0,528.1 112.4,528.2 110.0,528.6 107.6,529.0 105.1,529.3 103.9,529.5 102.6,529.6 100.1,529.9 97.7,530.1 94.7,530.4 93.0,530.5 90.9,530.6 88.8,530.7 87.0,530.7 85.3,530.7 83.8,530.6 82.5,530.5 81.7,530.4 81.5,530.3 80.7,530.1 80.2,529.9 79.9,529.6" fill="none" stroke="#3d4a5c" stroke-width="0.8" stroke-linejoin="round"/>
<g transform="translate(221.9,503.6) rotate(-0.0)">
<path d="M-7.6,0 A7.6,7.6 0 0 1 7.6,0 L7.6,53.9 A7.6,0.0 0 0 1 -7.6,53.9 Z" fill="url(#gcapS)" stroke="#6b4d08" stroke-width="0.7"/>
<circle cx="-1.7" cy="-1.9" r="4.7" fill="url(#hl)"/>
</g>
<g transform="translate(134.5,503.6) rotate(-0.0)">
<path d="M-7.6,0 A7.6,7.6 0 0 1 7.6,0 L7.6,53.9 A7.6,0.0 0 0 1 -7.6,53.9 Z" fill="url(#gcapS)" stroke="#6b4d08" stroke-width="0.7"/>
<circle cx="-1.7" cy="-1.9" r="4.7" fill="url(#hl)"/>
</g>
<g transform="translate(178.2,475.0) rotate(-0.0)">
<path d="M-10.5,0 A10.5,10.5 0 0 1 10.5,0 L10.5,72.5 A10.5,0.0 0 0 1 -10.5,72.5 Z" fill="url(#gcapS)" stroke="#6b4d08" stroke-width="0.7"/>
<circle cx="-2.3" cy="-2.6" r="6.5" fill="url(#hl)"/>
</g>
<polygon points="177.3,569.0 177.3,568.3 179.3,525.0 180.1,524.3 181.6,523.6 183.9,523.1 186.7,522.6 190.2,522.3 194.0,522.1 198.2,522.0 202.6,522.1 207.1,522.3 211.5,522.6 215.7,523.1 219.5,523.6 222.9,524.3 225.8,525.0 228.0,525.7 229.5,526.5 230.2,527.3 230.2,528.0 228.2,571.4 227.4,572.1 225.9,572.7 223.7,573.3 220.8,573.7 217.3,574.0 213.5,574.2 209.3,574.3 204.9,574.2 200.4,574.0 196.0,573.7 191.9,573.3 188.0,572.7 184.6,572.1 181.8,571.4 179.5,570.6 178.0,569.8" fill="url(#gcylS)" stroke="#5e4307" stroke-width="0.8"/>
<polygon points="211.3,531.0 206.9,530.9 202.4,530.7 198.0,530.4 193.9,529.9 190.0,529.4 186.6,528.7 183.7,528.0 181.5,527.3 180.0,526.5 179.3,525.7 179.3,525.0 180.1,524.3 181.6,523.6 183.9,523.1 186.7,522.6 190.2,522.3 194.0,522.1 198.2,522.0 202.6,522.1 207.1,522.3 211.5,522.6 215.7,523.1 219.5,523.6 222.9,524.3 225.8,525.0 228.0,525.7 229.5,526.5 230.2,527.3 230.2,528.0 229.4,528.7 227.9,529.4 225.6,529.9 222.8,530.4 219.3,530.7 215.5,530.9" fill="#3a5274" />
<polygon points="180.8,525.6 180.8,525.2 181.0,524.9 186.2,517.3 188.2,514.9 193.9,510.9 198.4,509.8 207.0,509.8 214.7,510.9 224.2,517.3 228.7,527.4 228.7,527.8 228.5,528.1 228.4,528.2 227.9,528.6 227.1,529.0 226.1,529.3 225.5,529.5 224.8,529.6 223.3,529.9 221.6,530.1 219.8,530.3 219.3,530.4 217.7,530.5 215.6,530.6 213.3,530.7 210.9,530.7 208.4,530.7 205.9,530.6 203.4,530.5 201.5,530.4 200.9,530.3 198.5,530.1 196.1,529.9 193.8,529.6 192.7,529.5 191.6,529.3 189.6,529.0 187.7,528.6 186.1,528.2 185.7,528.1 184.6,527.8 183.3,527.4 182.3,526.9 181.6,526.5 181.1,526.1" fill="#5580b8" />
<polygon points="193.9,510.9 186.2,517.3 181.0,524.9 188.2,514.9" fill="#618ec7" stroke="#618ec7" stroke-width="0.4"/>
<polygon points="203.9,513.6 196.1,512.5 193.9,510.9 198.4,509.8 207.0,509.8 214.7,510.9 217.0,512.5 212.5,513.6" fill="#4f77ad" stroke="#4f77ad" stroke-width="0.4"/>
<polygon points="186.2,517.3 181.6,526.5 181.0,524.9" fill="#6b9bd5" stroke="#6b9bd5" stroke-width="0.4"/>
<polygon points="217.0,512.5 224.2,517.3 228.5,528.1 222.2,519.8" fill="#365076" stroke="#365076" stroke-width="0.4"/>
<polygon points="196.1,512.5 186.2,517.3 193.9,510.9" fill="#6a99d3" stroke="#6a99d3" stroke-width="0.4"/>
<polygon points="222.2,519.8 228.5,528.1 225.5,529.5" fill="#365076" stroke="#365076" stroke-width="0.4"/>
<polygon points="217.0,512.5 222.2,519.8 212.5,513.6" fill="#456798" stroke="#456798" stroke-width="0.4"/>
<polygon points="186.2,517.3 185.7,528.1 181.6,526.5" fill="#8fbbf1" stroke="#8fbbf1" stroke-width="0.4"/>
<polygon points="196.1,512.5 195.3,519.8 185.7,528.1 186.2,517.3" fill="#82afe9" stroke="#82afe9" stroke-width="0.4"/>
<polygon points="222.2,519.8 225.5,529.5 219.3,530.4" fill="#40608c" stroke="#40608c" stroke-width="0.4"/>
<polygon points="203.9,513.6 195.3,519.8 196.1,512.5" fill="#73a2dc" stroke="#73a2dc" stroke-width="0.4"/>
<polygon points="212.5,513.6 210.2,520.8 203.9,513.6" fill="#5e8ac3" stroke="#5e8ac3" stroke-width="0.4"/>
<polygon points="212.5,513.6 222.2,519.8 219.3,530.4 210.2,520.8" fill="#5079ae" stroke="#5079ae" stroke-width="0.4"/>
<polygon points="195.3,519.8 192.7,529.5 185.7,528.1" fill="#a1cef6" stroke="#a1cef6" stroke-width="0.4"/>
<polygon points="203.9,513.6 210.2,520.8 201.5,530.4 195.3,519.8" fill="#6f9fd9" stroke="#6f9fd9" stroke-width="0.4"/>
<polygon points="210.2,520.8 219.3,530.4 210.9,530.7" fill="#547fb6" stroke="#547fb6" stroke-width="0.4"/>
<polygon points="195.3,519.8 201.5,530.4 192.7,529.5" fill="#8db9f1" stroke="#8db9f1" stroke-width="0.4"/>
<polygon points="210.2,520.8 210.9,530.7 201.5,530.4" fill="#6999d3" stroke="#6999d3" stroke-width="0.4"/>
<polygon points="180.8,525.6 180.8,525.2 181.0,524.9 186.2,517.3 188.2,514.9 193.9,510.9 198.4,509.8 207.0,509.8 214.7,510.9 224.2,517.3 228.7,527.4 228.7,527.8 228.5,528.1 228.4,528.2 227.9,528.6 227.1,529.0 226.1,529.3 225.5,529.5 224.8,529.6 223.3,529.9 221.6,530.1 219.8,530.3 219.3,530.4 217.7,530.5 215.6,530.6 213.3,530.7 210.9,530.7 208.4,530.7 205.9,530.6 203.4,530.5 201.5,530.4 200.9,530.3 198.5,530.1 196.1,529.9 193.8,529.6 192.7,529.5 191.6,529.3 189.6,529.0 187.7,528.6 186.1,528.2 185.7,528.1 184.6,527.8 183.3,527.4 182.3,526.9 181.6,526.5 181.1,526.1" fill="none" stroke="#3d4a5c" stroke-width="0.8" stroke-linejoin="round"/>
<polygon points="126.2,527.3 126.9,526.5 128.4,525.7 130.6,525.0 133.5,524.3 136.9,523.6 140.8,523.1 144.9,522.6 149.3,522.3 153.8,522.1 158.2,522.0 162.4,522.1 166.2,522.3 169.7,522.6 172.5,523.1 174.8,523.6 176.3,524.3 177.1,525.0 179.1,568.3 179.1,569.0 178.4,569.8 176.9,570.6 174.7,571.4 171.8,572.1 168.4,572.7 164.5,573.3 160.4,573.7 156.0,574.0 151.5,574.2 147.1,574.3 142.9,574.2 139.1,574.0 135.6,573.7 132.8,573.3 130.5,572.7 129.0,572.1 128.2,571.4 126.2,528.0" fill="url(#gcylS)" stroke="#5e4307" stroke-width="0.8"/>
<polygon points="145.1,531.0 140.9,530.9 137.1,530.7 133.6,530.4 130.8,529.9 128.5,529.4 127.0,528.7 126.2,528.0 126.2,527.3 126.9,526.5 128.4,525.7 130.6,525.0 133.5,524.3 136.9,523.6 140.7,523.1 144.9,522.6 149.3,522.3 153.8,522.1 158.2,522.0 162.4,522.1 166.2,522.3 169.7,522.6 172.5,523.1 174.8,523.6 176.3,524.3 177.1,525.0 177.1,525.7 176.4,526.5 174.9,527.3 172.7,528.0 169.8,528.7 166.4,529.4 162.5,529.9 158.4,530.4 154.0,530.7 149.5,530.9" fill="#3a5274" />
<polygon points="127.7,527.4 132.2,517.3 141.7,510.9 149.4,509.8 158.0,509.8 162.5,510.9 168.2,514.9 170.2,517.3 175.4,524.9 175.6,525.2 175.6,525.6 175.3,526.1 174.8,526.5 174.1,526.9 173.1,527.4 171.8,527.8 170.7,528.1 170.3,528.2 168.7,528.6 166.8,529.0 164.8,529.3 163.7,529.5 162.6,529.6 160.3,529.9 157.9,530.1 155.5,530.3 154.9,530.4 153.0,530.5 150.5,530.6 148.0,530.7 145.5,530.7 143.1,530.7 140.8,530.6 138.7,530.5 137.1,530.4 136.6,530.3 134.8,530.1 133.1,529.9 131.6,529.6 130.9,529.5 130.3,529.3 129.3,529.0 128.5,528.6 128.0,528.2 127.9,528.1 127.7,527.8" fill="#5580b8" />
<polygon points="162.5,510.9 168.2,514.9 175.4,524.9 170.2,517.3" fill="#365076" stroke="#365076" stroke-width="0.4"/>
<polygon points="143.9,513.6 139.4,512.5 141.7,510.9 149.4,509.8 158.0,509.8 162.5,510.9 160.3,512.5 152.5,513.6" fill="#537db4" stroke="#537db4" stroke-width="0.4"/>
<polygon points="170.2,517.3 175.4,524.9 174.8,526.5" fill="#365076" stroke="#365076" stroke-width="0.4"/>
<polygon points="139.4,512.5 134.2,519.8 127.9,528.1 132.2,517.3" fill="#6d9dd7" stroke="#6d9dd7" stroke-width="0.4"/>
<polygon points="162.5,510.9 170.2,517.3 160.3,512.5" fill="#41618f" stroke="#41618f" stroke-width="0.4"/>
<polygon points="134.2,519.8 130.9,529.5 127.9,528.1" fill="#81aee8" stroke="#81aee8" stroke-width="0.4"/>
<polygon points="143.9,513.6 134.2,519.8 139.4,512.5" fill="#76a4de" stroke="#76a4de" stroke-width="0.4"/>
<polygon points="170.2,517.3 174.8,526.5 170.7,528.1" fill="#365076" stroke="#365076" stroke-width="0.4"/>
<polygon points="160.3,512.5 170.2,517.3 170.7,528.1 161.1,519.8" fill="#4a6fa2" stroke="#4a6fa2" stroke-width="0.4"/>
<polygon points="134.2,519.8 137.1,530.4 130.9,529.5" fill="#9ecbf5" stroke="#9ecbf5" stroke-width="0.4"/>
<polygon points="160.3,512.5 161.1,519.8 152.5,513.6" fill="#5985bd" stroke="#5985bd" stroke-width="0.4"/>
<polygon points="152.5,513.6 146.2,520.8 143.9,513.6" fill="#72a1db" stroke="#72a1db" stroke-width="0.4"/>
<polygon points="143.9,513.6 146.2,520.8 137.1,530.4 134.2,519.8" fill="#8bb7f0" stroke="#8bb7f0" stroke-width="0.4"/>
<polygon points="161.1,519.8 170.7,528.1 163.7,529.5" fill="#4a6ea1" stroke="#4a6ea1" stroke-width="0.4"/>
<polygon points="152.5,513.6 161.1,519.8 154.9,530.4 146.2,520.8" fill="#6897d1" stroke="#6897d1" stroke-width="0.4"/>
<polygon points="146.2,520.8 145.5,530.7 137.1,530.4" fill="#98c5f4" stroke="#98c5f4" stroke-width="0.4"/>
<polygon points="161.1,519.8 163.7,529.5 154.9,530.4" fill="#5d8ac3" stroke="#5d8ac3" stroke-width="0.4"/>
<polygon points="146.2,520.8 154.9,530.4 145.5,530.7" fill="#76a5df" stroke="#76a5df" stroke-width="0.4"/>
<polygon points="127.7,527.4 132.2,517.3 141.7,510.9 149.4,509.8 158.0,509.8 162.5,510.9 168.2,514.9 170.2,517.3 175.4,524.9 175.6,525.2 175.6,525.6 175.3,526.1 174.8,526.5 174.1,526.9 173.1,527.4 171.8,527.8 170.7,528.1 170.3,528.2 168.7,528.6 166.8,529.0 164.8,529.3 163.7,529.5 162.6,529.6 160.3,529.9 157.9,530.1 155.5,530.3 154.9,530.4 153.0,530.5 150.5,530.6 148.0,530.7 145.5,530.7 143.1,530.7 140.8,530.6 138.7,530.5 137.1,530.4 136.6,530.3 134.8,530.1 133.1,529.9 131.6,529.6 130.9,529.5 130.3,529.3 129.3,529.0 128.5,528.6 128.0,528.2 127.9,528.1 127.7,527.8" fill="none" stroke="#3d4a5c" stroke-width="0.8" stroke-linejoin="round"/>
<g transform="translate(100.4,513.4) rotate(-6.6)">
<path d="M-6.4,0 A6.4,6.4 0 0 1 6.4,0 L6.4,64.5 A6.4,0.0 0 0 1 -6.4,64.5 Z" fill="url(#gcapS)" stroke="#6b4d08" stroke-width="0.7"/>
<circle cx="-1.4" cy="-1.6" r="4.0" fill="url(#hl)"/>
</g>
<g transform="translate(256.0,513.4) rotate(6.6)">
<path d="M-6.4,0 A6.4,6.4 0 0 1 6.4,0 L6.4,64.5 A6.4,0.0 0 0 1 -6.4,64.5 Z" fill="url(#gcapS)" stroke="#6b4d08" stroke-width="0.7"/>
<circle cx="-1.4" cy="-1.6" r="4.0" fill="url(#hl)"/>
</g>
<g transform="translate(143.8,513.4) rotate(-2.9)">
<path d="M-6.4,0 A6.4,6.4 0 0 1 6.4,0 L6.4,64.2 A6.4,0.0 0 0 1 -6.4,64.2 Z" fill="url(#gcapS)" stroke="#6b4d08" stroke-width="0.7"/>
<circle cx="-1.4" cy="-1.6" r="4.0" fill="url(#hl)"/>
</g>
<g transform="translate(212.6,513.4) rotate(2.9)">
<path d="M-6.4,0 A6.4,6.4 0 0 1 6.4,0 L6.4,64.2 A6.4,0.0 0 0 1 -6.4,64.2 Z" fill="url(#gcapS)" stroke="#6b4d08" stroke-width="0.7"/>
<circle cx="-1.4" cy="-1.6" r="4.0" fill="url(#hl)"/>
</g>
</g>
<use href="#sv" transform="translate(300,0)"/>
<use href="#sv" transform="translate(746.2,-8.2)"/>
<g id="pv">
<polygon points="692.1,148.8 693.7,136.8 698.2,125.0 705.4,114.1 715.1,104.2 727.0,95.7 740.8,88.8 756.0,83.8 772.2,80.8 788.9,79.8 805.5,81.0 821.6,84.3 836.6,89.5 850.2,96.6 861.9,105.3 871.4,115.3 878.3,126.4 882.4,138.1 883.7,150.2 883.7,173.9 882.1,186.0 877.6,197.8 870.4,208.7 860.7,218.6 848.8,227.1 835.0,234.0 819.8,239.0 803.6,242.0 786.9,243.0 770.3,241.8 754.2,238.5 739.2,233.3 725.6,226.2 713.9,217.5 704.5,207.5 697.5,196.4 693.4,184.7 692.1,172.6" fill="#33250a" />
<g transform="translate(778.5,48.0) rotate(-1.0)">
<path d="M-6.4,0 A6.4,6.4 0 0 1 6.4,0 L6.4,49.9 A6.4,4.2 0 0 1 -6.4,49.9 Z" fill="url(#gcap)"/>
<path d="M-6.4,0 L6.4,0 L6.4,49.9 A6.4,4.2 0 0 1 -6.4,49.9 Z" fill="url(#gsh)"/>
<circle r="6.4" fill="url(#gs2)"/>
</g>
<g transform="translate(840.8,56.5) rotate(5.8)">
<path d="M-6.4,0 A6.4,6.4 0 0 1 6.4,0 L6.4,49.3 A6.4,4.2 0 0 1 -6.4,49.3 Z" fill="url(#gcap)"/>
<path d="M-6.4,0 L6.4,0 L6.4,49.3 A6.4,4.2 0 0 1 -6.4,49.3 Z" fill="url(#gsh)"/>
<circle r="6.4" fill="url(#gs2)"/>
</g>
<g transform="translate(735.5,56.7) rotate(-5.8)">
<path d="M-6.4,0 A6.4,6.4 0 0 1 6.4,0 L6.4,49.3 A6.4,4.2 0 0 1 -6.4,49.3 Z" fill="url(#gcap)"/>
<path d="M-6.4,0 L6.4,0 L6.4,49.3 A6.4,4.2 0 0 1 -6.4,49.3 Z" fill="url(#gsh)"/>
<circle r="6.4" fill="url(#gs2)"/>
</g>
<polygon points="756.5,76.0 756.5,73.5 757.3,71.0 758.8,68.6 760.9,66.4 763.7,64.5 766.9,62.9 770.6,61.6 774.6,60.7 778.8,60.2 783.0,60.2 787.1,60.6 791.1,61.5 794.7,62.7 797.9,64.3 800.6,66.3 802.7,68.4 804.1,70.8 804.8,73.3 805.3,102.8 805.2,105.4 804.4,107.9 803.0,110.2 800.8,112.4 798.0,114.4 794.8,116.0 791.1,117.3 787.1,118.2 783.0,118.6 778.7,118.6 774.6,118.2 770.6,117.4 767.0,116.1 763.8,114.5 761.1,112.6 759.0,110.4 757.6,108.0 757.0,105.6" fill="url(#gcyl)" />
<polygon points="756.5,76.0 756.5,73.5 757.3,71.0 758.8,68.6 760.9,66.4 763.7,64.5 766.9,62.9 770.6,61.6 774.6,60.7 778.8,60.2 783.0,60.2 787.1,60.6 791.1,61.5 794.7,62.7 797.9,64.3 800.6,66.3 802.7,68.4 804.1,70.8 804.8,73.3 805.3,102.8 805.2,105.4 804.4,107.9 803.0,110.2 800.8,112.4 798.0,114.4 794.8,116.0 791.1,117.3 787.1,118.2 783.0,118.6 778.7,118.6 774.6,118.2 770.6,117.4 767.0,116.1 763.8,114.5 761.1,112.6 759.0,110.4 757.6,108.0 757.0,105.6" fill="url(#gsh)" />
<polygon points="778.8,60.2 783.0,60.2 787.1,60.6 791.1,61.5 794.7,62.7 797.9,64.3 800.6,66.3 802.7,68.4 804.1,70.8 804.8,73.3 804.7,75.8 803.9,78.3 802.4,80.7 800.3,82.9 797.5,84.8 794.3,86.4 790.6,87.7 786.6,88.6 782.4,89.0 778.2,89.1 774.1,88.6 770.1,87.8 766.5,86.5 763.3,84.9 760.6,83.0 758.5,80.8 757.1,78.5 756.4,76.0 756.5,73.5 757.3,71.0 758.8,68.6 760.9,66.4 763.7,64.5 766.9,62.9 770.6,61.6 774.6,60.7" fill="#d2a32c" />
<polygon points="757.8,73.4 757.9,72.0 758.4,70.6 758.9,69.5 759.1,69.2 766.2,58.6 779.0,54.6 783.5,55.3 792.7,57.1 799.1,64.7 801.7,68.1 802.5,69.5 803.1,70.8 803.4,72.2 803.4,73.7 803.2,75.1 802.8,76.5 802.3,77.5 802.1,77.9 801.2,79.2 800.0,80.5 798.7,81.7 797.9,82.2 797.1,82.8 795.4,83.8 793.5,84.7 791.4,85.4 790.9,85.6 789.3,86.0 787.0,86.5 784.7,86.9 782.3,87.1 779.9,87.2 777.5,87.1 775.2,86.8 773.5,86.6 772.9,86.5 770.7,85.9 768.6,85.3 766.6,84.5 765.7,84.0 764.8,83.6 763.2,82.5 761.7,81.4 760.5,80.2 760.2,79.9 759.5,79.0 758.7,77.6 758.1,76.2 757.8,74.8" fill="#5580b8" />
<polygon points="775.9,55.7 779.0,54.6 783.5,55.3" fill="#4b71a4" stroke="#4b71a4" stroke-width="0.4"/>
<polygon points="799.1,64.7 801.0,67.2 803.4,72.3" fill="#4b71a4" stroke="#4b71a4" stroke-width="0.4"/>
<polygon points="789.2,58.2 792.7,57.1 801.0,67.2 799.1,64.7" fill="#4b71a4" stroke="#4b71a4" stroke-width="0.4"/>
<polygon points="761.8,66.8 757.8,74.8 758.9,69.5" fill="#5a87bf" stroke="#5a87bf" stroke-width="0.4"/>
<polygon points="783.5,55.3 792.7,57.1 789.2,58.2" fill="#4b71a4" stroke="#4b71a4" stroke-width="0.4"/>
<polygon points="771.0,59.2 761.8,66.8 758.9,69.5 766.2,58.6" fill="#5b87c0" stroke="#5b87c0" stroke-width="0.4"/>
<polygon points="771.0,59.2 766.2,58.6 775.9,55.7" fill="#557fb7" stroke="#557fb7" stroke-width="0.4"/>
<polygon points="799.1,64.7 803.4,72.3 802.3,77.5" fill="#4b71a4" stroke="#4b71a4" stroke-width="0.4"/>
<polygon points="761.8,66.8 760.2,79.9 757.8,74.8" fill="#6695ce" stroke="#6695ce" stroke-width="0.4"/>
<polygon points="789.2,58.2 799.1,64.7 789.8,62.7" fill="#527bb2" stroke="#527bb2" stroke-width="0.4"/>
<polygon points="771.6,63.7 761.8,66.8 771.0,59.2" fill="#6391cb" stroke="#6391cb" stroke-width="0.4"/>
<polygon points="783.5,55.3 789.2,58.2 789.8,62.7 784.8,66.2 777.3,66.6 771.6,63.7 771.0,59.2 775.9,55.7" fill="#5d8ac3" stroke="#5d8ac3" stroke-width="0.4"/>
<polygon points="789.8,62.7 799.1,64.7 802.3,77.5 794.7,72.9" fill="#5782bb" stroke="#5782bb" stroke-width="0.4"/>
<polygon points="771.6,63.7 768.3,74.4 760.2,79.9 761.8,66.8" fill="#6b9bd5" stroke="#6b9bd5" stroke-width="0.4"/>
<polygon points="794.7,72.9 802.3,77.5 797.9,82.2" fill="#5580b8" stroke="#5580b8" stroke-width="0.4"/>
<polygon points="768.3,74.4 765.7,84.0 760.2,79.9" fill="#7aa8e2" stroke="#7aa8e2" stroke-width="0.4"/>
<polygon points="789.8,62.7 794.7,72.9 784.8,66.2" fill="#608ec7" stroke="#608ec7" stroke-width="0.4"/>
<polygon points="794.7,72.9 797.9,82.2 790.9,85.6" fill="#618fc8" stroke="#618fc8" stroke-width="0.4"/>
<polygon points="777.3,66.6 768.3,74.4 771.6,63.7" fill="#70a0da" stroke="#70a0da" stroke-width="0.4"/>
<polygon points="768.3,74.4 773.5,86.6 765.7,84.0" fill="#d8edfc" stroke="#d8edfc" stroke-width="0.4"/>
<polygon points="784.8,66.2 794.7,72.9 790.9,85.6 781.9,76.9" fill="#6897d0" stroke="#6897d0" stroke-width="0.4"/>
<polygon points="777.3,66.6 781.9,76.9 773.5,86.6 768.3,74.4" fill="#86b2ec" stroke="#86b2ec" stroke-width="0.4"/>
<polygon points="784.8,66.2 781.9,76.9 777.3,66.6" fill="#6d9dd7" stroke="#6d9dd7" stroke-width="0.4"/>
<polygon points="781.9,76.9 790.9,85.6 782.3,87.1" fill="#6d9cd6" stroke="#6d9cd6" stroke-width="0.4"/>
<polygon points="781.9,76.9 782.3,87.1 773.5,86.6" fill="#a0cdf6" stroke="#a0cdf6" stroke-width="0.4"/>
<polygon points="801.8,110.1 801.9,107.5 804.6,78.4 805.4,75.9 806.9,73.6 809.0,71.5 811.7,69.7 814.9,68.2 818.6,67.2 822.5,66.5 826.7,66.3 830.9,66.6 835.0,67.3 839.0,68.4 842.6,70.0 845.9,71.8 848.5,73.9 850.6,76.3 852.1,78.8 852.8,81.4 852.8,84.0 850.0,113.1 849.2,115.6 847.8,117.9 845.6,120.0 842.9,121.8 839.7,123.3 836.0,124.3 832.1,125.0 827.9,125.2 823.7,124.9 819.6,124.2 815.6,123.0 812.0,121.5 808.8,119.7 806.1,117.5 804.0,115.2 802.5,112.7" fill="url(#gcyl)" />
<polygon points="801.8,110.1 801.9,107.5 804.6,78.4 805.4,75.9 806.9,73.6 809.0,71.5 811.7,69.7 814.9,68.2 818.6,67.2 822.5,66.5 826.7,66.3 830.9,66.6 835.0,67.3 839.0,68.4 842.6,70.0 845.9,71.8 848.5,73.9 850.6,76.3 852.1,78.8 852.8,81.4 852.8,84.0 850.0,113.1 849.2,115.6 847.8,117.9 845.6,120.0 842.9,121.8 839.7,123.3 836.0,124.3 832.1,125.0 827.9,125.2 823.7,124.9 819.6,124.2 815.6,123.0 812.0,121.5 808.8,119.7 806.1,117.5 804.0,115.2 802.5,112.7" fill="url(#gsh)" />
<polygon points="839.0,68.4 842.6,69.9 845.9,71.8 848.6,73.9 850.6,76.3 852.1,78.8 852.8,81.4 852.8,84.0 852.0,86.5 850.6,88.8 848.4,90.9 845.7,92.7 842.5,94.1 838.8,95.2 834.9,95.8 830.7,96.0 826.5,95.8 822.4,95.1 818.4,93.9 814.8,92.4 811.6,90.6 808.9,88.4 806.8,86.0 805.3,83.5 804.6,81.0 804.6,78.4 805.4,75.9 806.8,73.6 809.0,71.5 811.7,69.7 814.9,68.2 818.6,67.2 822.5,66.5 826.7,66.3 830.9,66.6 835.1,67.3" fill="#d2a32c" />
<polygon points="806.0,78.4 806.0,78.0 806.2,77.0 806.6,75.6 807.3,74.2 812.6,66.5 823.2,61.3 830.5,61.7 837.5,62.6 847.1,69.6 850.6,77.4 851.2,78.8 851.5,80.3 851.6,81.8 851.6,82.1 851.4,83.2 851.0,84.6 850.3,86.0 849.4,87.3 848.3,88.5 847.0,89.6 845.4,90.6 844.1,91.3 843.7,91.5 841.8,92.3 839.8,93.0 837.6,93.5 836.5,93.7 835.4,93.8 833.1,94.0 830.7,94.1 828.3,94.0 827.7,93.9 825.9,93.7 823.6,93.3 821.3,92.8 819.1,92.1 817.0,91.3 815.0,90.3 813.2,89.3 812.0,88.4 811.6,88.2 810.1,86.9 808.8,85.6 807.8,84.2 807.4,83.5 807.0,82.8 806.4,81.3 806.1,79.9" fill="#5580b8" />
<polygon points="837.3,64.1 837.5,62.6 845.7,71.7 847.1,69.6" fill="#4b71a4" stroke="#4b71a4" stroke-width="0.4"/>
<polygon points="823.4,62.8 812.6,66.5 813.5,68.9 823.2,61.3" fill="#5079af" stroke="#5079af" stroke-width="0.4"/>
<polygon points="847.1,69.6 850.2,76.7 851.6,82.1" fill="#4b71a4" stroke="#4b71a4" stroke-width="0.4"/>
<polygon points="812.6,66.5 806.1,78.1 808.2,72.9" fill="#5883bc" stroke="#5883bc" stroke-width="0.4"/>
<polygon points="830.5,61.7 837.5,62.6 837.3,64.1" fill="#4b71a4" stroke="#4b71a4" stroke-width="0.4"/>
<polygon points="823.4,62.8 823.2,61.3 830.5,61.7" fill="#4d74a9" stroke="#4d74a9" stroke-width="0.4"/>
<polygon points="837.3,64.1 847.1,69.6 839.8,68.6" fill="#4d74a8" stroke="#4d74a8" stroke-width="0.4"/>
<polygon points="820.1,66.8 812.6,66.5 823.4,62.8" fill="#5a86be" stroke="#5a86be" stroke-width="0.4"/>
<polygon points="839.8,68.6 847.1,69.6 851.6,82.1 846.4,78.3" fill="#5078ae" stroke="#5078ae" stroke-width="0.4"/>
<polygon points="820.1,66.8 812.0,75.2 806.1,78.1 812.6,66.5" fill="#618fc8" stroke="#618fc8" stroke-width="0.4"/>
<polygon points="846.4,78.3 851.6,82.1 849.4,87.3" fill="#4b71a5" stroke="#4b71a5" stroke-width="0.4"/>
<polygon points="812.0,75.2 807.4,83.5 806.1,78.1" fill="#6492cc" stroke="#6492cc" stroke-width="0.4"/>
<polygon points="837.3,64.1 839.8,68.6 836.6,72.6 829.5,73.7 822.7,71.3 820.1,66.8 823.4,62.8 830.5,61.7" fill="#5d89c2" stroke="#5d89c2" stroke-width="0.4"/>
<polygon points="846.4,78.3 849.4,87.3 844.1,91.3" fill="#5783bb" stroke="#5783bb" stroke-width="0.4"/>
<polygon points="812.0,75.2 812.0,88.4 807.4,83.5" fill="#73a2dc" stroke="#73a2dc" stroke-width="0.4"/>
<polygon points="839.8,68.6 846.4,78.3 836.6,72.6" fill="#5a85be" stroke="#5a85be" stroke-width="0.4"/>
<polygon points="822.7,71.3 812.0,75.2 820.1,66.8" fill="#6897d0" stroke="#6897d0" stroke-width="0.4"/>
<polygon points="836.6,72.6 846.4,78.3 844.1,91.3 835.9,83.5" fill="#618fc8" stroke="#618fc8" stroke-width="0.4"/>
<polygon points="822.7,71.3 821.6,82.3 812.0,88.4 812.0,75.2" fill="#75a4de" stroke="#75a4de" stroke-width="0.4"/>
<polygon points="835.9,83.5 844.1,91.3 836.5,93.7" fill="#6392cb" stroke="#6392cb" stroke-width="0.4"/>
<polygon points="821.6,82.3 819.1,92.1 812.0,88.4" fill="#c3e3fa" stroke="#c3e3fa" stroke-width="0.4"/>
<polygon points="836.6,72.6 835.9,83.5 829.5,73.7" fill="#6796d0" stroke="#6796d0" stroke-width="0.4"/>
<polygon points="829.5,73.7 821.6,82.3 822.7,71.3" fill="#72a1db" stroke="#72a1db" stroke-width="0.4"/>
<polygon points="835.9,83.5 836.5,93.7 827.7,93.9" fill="#71a0da" stroke="#71a0da" stroke-width="0.4"/>
<polygon points="821.6,82.3 827.7,93.9 819.1,92.1" fill="#bbdff9" stroke="#bbdff9" stroke-width="0.4"/>
<polygon points="829.5,73.7 835.9,83.5 827.7,93.9 821.6,82.3" fill="#74a3dd" stroke="#74a3dd" stroke-width="0.4"/>
<g transform="translate(703.5,75.2) rotate(-9.8)">
<path d="M-6.4,0 A6.4,6.4 0 0 1 6.4,0 L6.4,48.1 A6.4,4.2 0 0 1 -6.4,48.1 Z" fill="url(#gcap)"/>
<path d="M-6.4,0 L6.4,0 L6.4,48.1 A6.4,4.2 0 0 1 -6.4,48.1 Z" fill="url(#gsh)"/>
<circle r="6.4" fill="url(#gs2)"/>
</g>
<g transform="translate(876.5,75.8) rotate(10.1)">
<path d="M-6.4,0 A6.4,6.4 0 0 1 6.4,0 L6.4,48.0 A6.4,4.2 0 0 1 -6.4,48.0 Z" fill="url(#gcap)"/>
<path d="M-6.4,0 L6.4,0 L6.4,48.0 A6.4,4.2 0 0 1 -6.4,48.0 Z" fill="url(#gsh)"/>
<circle r="6.4" fill="url(#gs2)"/>
</g>
<polygon points="709.0,87.9 709.0,85.2 709.8,82.6 711.3,80.0 713.5,77.6 716.2,75.4 719.5,73.5 723.2,72.0 727.2,70.8 731.3,70.1 735.5,69.8 739.6,70.0 743.6,70.6 747.2,71.7 750.3,73.1 753.0,75.0 755.0,77.1 756.4,79.5 757.1,82.0 760.7,110.8 760.6,113.4 759.8,116.0 758.3,118.6 756.2,121.0 753.4,123.2 750.1,125.1 746.5,126.7 742.5,127.8 738.3,128.6 734.1,128.8 730.0,128.7 726.1,128.0 722.5,127.0 719.3,125.5 716.7,123.7 714.6,121.5 713.3,119.2 712.6,116.6" fill="url(#gcyl)" />
<polygon points="709.0,87.9 709.0,85.2 709.8,82.6 711.3,80.0 713.5,77.6 716.2,75.4 719.5,73.5 723.2,72.0 727.2,70.8 731.3,70.1 735.5,69.8 739.6,70.0 743.6,70.6 747.2,71.7 750.3,73.1 753.0,75.0 755.0,77.1 756.4,79.5 757.1,82.0 760.7,110.8 760.6,113.4 759.8,116.0 758.3,118.6 756.2,121.0 753.4,123.2 750.1,125.1 746.5,126.7 742.5,127.8 738.3,128.6 734.1,128.8 730.0,128.7 726.1,128.0 722.5,127.0 719.3,125.5 716.7,123.7 714.6,121.5 713.3,119.2 712.6,116.6" fill="url(#gsh)" />
<polygon points="719.5,73.5 723.2,72.0 727.2,70.8 731.3,70.1 735.5,69.8 739.6,70.0 743.6,70.6 747.2,71.7 750.3,73.1 753.0,75.0 755.0,77.1 756.4,79.5 757.1,82.0 757.0,84.6 756.2,87.3 754.7,89.8 752.5,92.2 749.8,94.4 746.5,96.3 742.8,97.9 738.8,99.1 734.7,99.8 730.5,100.1 726.4,99.9 722.4,99.3 718.8,98.2 715.7,96.7 713.0,94.9 711.0,92.8 709.6,90.4 709.0,87.9 709.0,85.2 709.8,82.6 711.3,80.0 713.5,77.6 716.3,75.4" fill="#d2a32c" />
<polygon points="710.1,85.1 710.4,83.7 710.5,82.9 710.8,82.2 713.6,75.5 721.5,67.5 729.4,65.8 735.5,64.6 747.4,68.6 752.9,75.6 753.9,76.9 754.7,78.2 755.1,79.3 755.3,79.7 755.5,81.1 755.6,82.6 755.4,84.1 755.2,84.8 754.9,85.6 754.2,87.0 753.3,88.5 752.1,89.9 751.8,90.2 750.8,91.2 749.2,92.4 747.5,93.6 745.6,94.6 743.5,95.5 741.4,96.3 739.1,97.0 737.4,97.4 736.8,97.5 734.5,97.9 732.1,98.1 729.7,98.1 728.5,98.1 727.4,98.0 725.1,97.8 722.9,97.4 720.8,96.8 720.3,96.7 718.9,96.1 717.1,95.3 715.5,94.3 714.0,93.3 712.8,92.1 711.8,90.8 711.0,89.5 710.6,88.4 710.5,88.1 710.2,86.6" fill="#5580b8" />
<polygon points="736.7,66.1 735.5,64.6 745.4,71.1 747.4,68.6" fill="#4b71a4" stroke="#4b71a4" stroke-width="0.4"/>
<polygon points="723.1,68.9 713.6,75.5 713.9,77.5 721.5,67.5" fill="#5681b9" stroke="#5681b9" stroke-width="0.4"/>
<polygon points="729.3,65.8 735.5,64.6 736.7,66.1" fill="#4b71a5" stroke="#4b71a5" stroke-width="0.4"/>
<polygon points="713.6,75.5 710.6,88.4 710.5,82.9" fill="#5e8ac3" stroke="#5e8ac3" stroke-width="0.4"/>
<polygon points="723.1,68.9 721.5,67.5 729.3,65.8" fill="#527bb2" stroke="#527bb2" stroke-width="0.4"/>
<polygon points="736.7,66.1 747.4,68.6 741.0,69.7" fill="#4e75aa" stroke="#4e75aa" stroke-width="0.4"/>
<polygon points="741.0,69.7 747.4,68.6 755.1,79.3 750.2,77.1" fill="#5078ae" stroke="#5078ae" stroke-width="0.4"/>
<polygon points="750.2,77.1 755.1,79.3 755.2,84.8" fill="#4b71a4" stroke="#4b71a4" stroke-width="0.4"/>
<polygon points="721.7,73.6 713.6,75.5 723.1,68.9" fill="#5f8dc5" stroke="#5f8dc5" stroke-width="0.4"/>
<polygon points="721.7,73.6 716.4,84.0 710.6,88.4 713.6,75.5" fill="#6695cf" stroke="#6695cf" stroke-width="0.4"/>
<polygon points="716.4,84.0 714.0,93.3 710.6,88.4" fill="#6898d1" stroke="#6898d1" stroke-width="0.4"/>
<polygon points="750.2,77.1 755.2,84.8 751.8,90.2" fill="#537db4" stroke="#537db4" stroke-width="0.4"/>
<polygon points="729.3,65.8 736.7,66.1 741.0,69.7 739.5,74.4 733.3,77.5 725.9,77.2 721.7,73.6 723.1,68.9" fill="#608dc6" stroke="#608dc6" stroke-width="0.4"/>
<polygon points="741.0,69.7 750.2,77.1 739.5,74.4" fill="#5985bd" stroke="#5985bd" stroke-width="0.4"/>
<polygon points="716.4,84.0 720.3,96.7 714.0,93.3" fill="#84b1eb" stroke="#84b1eb" stroke-width="0.4"/>
<polygon points="725.9,77.2 716.4,84.0 721.7,73.6" fill="#6d9cd6" stroke="#6d9cd6" stroke-width="0.4"/>
<polygon points="739.5,74.4 750.2,77.1 751.8,90.2 742.3,85.1" fill="#608dc6" stroke="#608dc6" stroke-width="0.4"/>
<polygon points="742.3,85.1 751.8,90.2 745.6,94.6" fill="#5f8cc5" stroke="#5f8cc5" stroke-width="0.4"/>
<polygon points="725.9,77.2 728.3,88.0 720.3,96.7 716.4,84.0" fill="#8bb8f0" stroke="#8bb8f0" stroke-width="0.4"/>
<polygon points="739.5,74.4 742.3,85.1 733.3,77.5" fill="#6796cf" stroke="#6796cf" stroke-width="0.4"/>
<polygon points="728.3,88.0 728.5,98.1 720.3,96.7" fill="#cde8fb" stroke="#cde8fb" stroke-width="0.4"/>
<polygon points="742.3,85.1 745.6,94.6 737.4,97.4" fill="#6a99d3" stroke="#6a99d3" stroke-width="0.4"/>
<polygon points="733.3,77.5 728.3,88.0 725.9,77.2" fill="#79a8e2" stroke="#79a8e2" stroke-width="0.4"/>
<polygon points="728.3,88.0 737.4,97.4 728.5,98.1" fill="#8db9f1" stroke="#8db9f1" stroke-width="0.4"/>
<polygon points="733.3,77.5 742.3,85.1 737.4,97.4 728.3,88.0" fill="#73a2dc" stroke="#73a2dc" stroke-width="0.4"/>
<g transform="translate(761.1,75.6) rotate(-0.0)">
<path d="M-7.3,0 A7.3,7.3 0 0 1 7.3,0 L7.3,28.4 A7.3,4.8 0 0 1 -7.3,28.4 Z" fill="url(#gcap)"/>
<path d="M-7.3,0 L7.3,0 L7.3,28.4 A7.3,4.8 0 0 1 -7.3,28.4 Z" fill="url(#gsh)"/>
<circle r="7.3" fill="url(#gs2)"/>
</g>
<g transform="translate(801.5,58.1) rotate(-0.0)">
<path d="M-10.3,0 A10.3,10.3 0 0 1 10.3,0 L10.3,42.0 A10.3,6.8 0 0 1 -10.3,42.0 Z" fill="url(#gcap)"/>
<path d="M-10.3,0 L10.3,0 L10.3,42.0 A10.3,6.8 0 0 1 -10.3,42.0 Z" fill="url(#gsh)"/>
<circle r="10.3" fill="url(#gs2)"/>
</g>
<g transform="translate(840.3,86.4) rotate(-0.0)">
<path d="M-7.3,0 A7.3,7.3 0 0 1 7.3,0 L7.3,28.4 A7.3,4.8 0 0 1 -7.3,28.4 Z" fill="url(#gcap)"/>
<path d="M-7.3,0 L7.3,0 L7.3,28.4 A7.3,4.8 0 0 1 -7.3,28.4 Z" fill="url(#gsh)"/>
<circle r="7.3" fill="url(#gs2)"/>
</g>
<polygon points="838.8,129.5 838.8,126.8 844.1,99.2 844.9,96.6 846.3,94.1 848.4,92.0 851.1,90.2 854.3,88.7 857.9,87.8 861.9,87.2 866.0,87.2 870.1,87.7 874.3,88.6 878.2,90.0 881.8,91.8 885.0,94.0 887.7,96.4 889.8,99.0 891.2,101.8 891.9,104.6 891.9,107.3 886.5,134.9 885.8,137.5 884.4,140.0 882.3,142.1 879.6,143.9 876.4,145.4 872.7,146.3 868.8,146.8 864.7,146.9 860.5,146.4 856.4,145.5 852.5,144.1 848.9,142.3 845.7,140.1 843.0,137.7 840.9,135.1 839.5,132.3" fill="url(#gcyl)" />
<polygon points="838.8,129.5 838.8,126.8 844.1,99.2 844.9,96.6 846.3,94.1 848.4,92.0 851.1,90.2 854.3,88.7 857.9,87.8 861.9,87.2 866.0,87.2 870.1,87.7 874.3,88.6 878.2,90.0 881.8,91.8 885.0,94.0 887.7,96.4 889.8,99.0 891.2,101.8 891.9,104.6 891.9,107.3 886.5,134.9 885.8,137.5 884.4,140.0 882.3,142.1 879.6,143.9 876.4,145.4 872.7,146.3 868.8,146.8 864.7,146.9 860.5,146.4 856.4,145.5 852.5,144.1 848.9,142.3 845.7,140.1 843.0,137.7 840.9,135.1 839.5,132.3" fill="url(#gsh)" />
<polygon points="887.7,96.4 889.8,99.0 891.2,101.8 891.9,104.6 891.9,107.3 891.1,110.0 889.7,112.4 887.6,114.6 884.9,116.4 881.7,117.8 878.1,118.8 874.1,119.3 870.0,119.3 865.8,118.9 861.7,117.9 857.8,116.5 854.2,114.7 851.0,112.6 848.3,110.2 846.2,107.6 844.8,104.8 844.1,102.0 844.1,99.2 844.9,96.6 846.3,94.1 848.4,92.0 851.1,90.2 854.3,88.7 857.9,87.8 861.9,87.3 866.0,87.2 870.2,87.7 874.3,88.6 878.2,90.0 881.8,91.8 885.0,94.0" fill="#d2a32c" />
<polygon points="845.6,99.5 845.8,97.9 845.9,97.2 846.2,96.4 846.8,95.0 847.7,93.6 848.9,92.4 849.2,92.1 859.0,83.7 872.9,83.3 884.8,89.7 889.8,100.3 890.3,101.5 890.4,101.9 890.7,103.5 890.8,105.0 890.6,106.6 890.5,107.3 890.2,108.1 889.5,109.5 888.7,110.9 887.5,112.1 887.2,112.4 886.2,113.3 884.7,114.3 883.0,115.2 881.1,116.0 879.1,116.6 877.0,117.0 874.8,117.3 873.0,117.4 872.5,117.4 870.1,117.4 867.7,117.2 865.4,116.8 864.2,116.5 863.0,116.3 860.8,115.6 858.6,114.7 856.5,113.8 856.0,113.5 854.5,112.7 852.7,111.5 851.1,110.2 849.6,108.8 848.4,107.3 847.4,105.8 846.6,104.2 846.1,103.0 846.0,102.6 845.7,101.0" fill="#5580b8" />
<polygon points="868.4,84.0 859.0,83.7 863.4,87.1 872.9,83.3" fill="#4b71a4" stroke="#4b71a4" stroke-width="0.4"/>
<polygon points="875.7,85.7 872.9,83.3 880.4,91.0 884.8,89.7" fill="#4b71a4" stroke="#4b71a4" stroke-width="0.4"/>
<polygon points="851.4,90.8 845.9,97.1 849.2,92.1" fill="#5581b9" stroke="#5581b9" stroke-width="0.4"/>
<polygon points="868.4,84.0 872.9,83.3 875.7,85.7" fill="#4b71a4" stroke="#4b71a4" stroke-width="0.4"/>
<polygon points="862.2,86.1 851.4,90.8 849.2,92.1 859.0,83.7" fill="#5783bb" stroke="#5783bb" stroke-width="0.4"/>
<polygon points="887.9,99.2 890.3,101.5 890.5,107.3" fill="#4b71a4" stroke="#4b71a4" stroke-width="0.4"/>
<polygon points="880.0,90.2 884.8,89.7 890.3,101.5 887.9,99.2" fill="#4b71a5" stroke="#4b71a5" stroke-width="0.4"/>
<polygon points="862.2,86.1 859.0,83.7 868.4,84.0" fill="#527cb3" stroke="#527cb3" stroke-width="0.4"/>
<polygon points="875.7,85.7 884.8,89.7 880.0,90.2" fill="#4b71a4" stroke="#4b71a4" stroke-width="0.4"/>
<polygon points="851.4,90.8 846.1,103.0 845.9,97.1" fill="#6290c9" stroke="#6290c9" stroke-width="0.4"/>
<polygon points="887.9,99.2 890.5,107.3 887.2,112.4" fill="#4e75aa" stroke="#4e75aa" stroke-width="0.4"/>
<polygon points="860.9,90.9 851.4,90.8 862.2,86.1" fill="#608ec7" stroke="#608ec7" stroke-width="0.4"/>
<polygon points="880.0,90.2 887.9,99.2 878.7,95.0" fill="#547fb7" stroke="#547fb7" stroke-width="0.4"/>
<polygon points="860.9,90.9 854.4,100.3 846.1,103.0 851.4,90.8" fill="#6897d1" stroke="#6897d1" stroke-width="0.4"/>
<polygon points="880.0,90.2 878.7,95.0 872.6,97.1 865.2,95.4 860.9,90.9 862.2,86.1 868.4,84.0 875.7,85.7" fill="#5d8ac3" stroke="#5d8ac3" stroke-width="0.4"/>
<polygon points="854.4,100.3 849.6,108.8 846.1,103.0" fill="#6e9dd7" stroke="#6e9dd7" stroke-width="0.4"/>
<polygon points="878.7,95.0 887.9,99.2 887.2,112.4 880.2,106.2" fill="#5a87bf" stroke="#5a87bf" stroke-width="0.4"/>
<polygon points="880.2,106.2 887.2,112.4 881.1,116.0" fill="#5a86be" stroke="#5a86be" stroke-width="0.4"/>
<polygon points="854.4,100.3 856.0,113.5 849.6,108.8" fill="#a5d2f7" stroke="#a5d2f7" stroke-width="0.4"/>
<polygon points="865.2,95.4 854.4,100.3 860.9,90.9" fill="#6d9dd7" stroke="#6d9dd7" stroke-width="0.4"/>
<polygon points="880.2,106.2 881.1,116.0 873.0,117.4" fill="#6694ce" stroke="#6694ce" stroke-width="0.4"/>
<polygon points="878.7,95.0 880.2,106.2 872.6,97.1" fill="#6391ca" stroke="#6391ca" stroke-width="0.4"/>
<polygon points="865.2,95.4 866.3,106.7 856.0,113.5 854.4,100.3" fill="#86b2ec" stroke="#86b2ec" stroke-width="0.4"/>
<polygon points="872.6,97.1 880.2,106.2 873.0,117.4 866.3,106.7" fill="#6b9ad4" stroke="#6b9ad4" stroke-width="0.4"/>
<polygon points="866.3,106.7 864.2,116.5 856.0,113.5" fill="#d2eafc" stroke="#d2eafc" stroke-width="0.4"/>
<polygon points="866.3,106.7 873.0,117.4 864.2,116.5" fill="#78a6e0" stroke="#78a6e0" stroke-width="0.4"/>
<polygon points="872.6,97.1 866.3,106.7 865.2,95.4" fill="#709fd9" stroke="#709fd9" stroke-width="0.4"/>
<g transform="translate(726.7,92.8) rotate(-0.0)">
<path d="M-7.3,0 A7.3,7.3 0 0 1 7.3,0 L7.3,28.4 A7.3,4.8 0 0 1 -7.3,28.4 Z" fill="url(#gcap)"/>
<path d="M-7.3,0 L7.3,0 L7.3,28.4 A7.3,4.8 0 0 1 -7.3,28.4 Z" fill="url(#gsh)"/>
<circle r="7.3" fill="url(#gs2)"/>
</g>
<g transform="translate(676.6,99.3) rotate(-13.2)">
<path d="M-6.4,0 A6.4,6.4 0 0 1 6.4,0 L6.4,46.2 A6.4,4.2 0 0 1 -6.4,46.2 Z" fill="url(#gcap)"/>
<path d="M-6.4,0 L6.4,0 L6.4,46.2 A6.4,4.2 0 0 1 -6.4,46.2 Z" fill="url(#gsh)"/>
<circle r="6.4" fill="url(#gs2)"/>
</g>
<g transform="translate(897.2,101.6) rotate(13.3)">
<path d="M-6.4,0 A6.4,6.4 0 0 1 6.4,0 L6.4,46.1 A6.4,4.2 0 0 1 -6.4,46.1 Z" fill="url(#gcap)"/>
<path d="M-6.4,0 L6.4,0 L6.4,46.1 A6.4,4.2 0 0 1 -6.4,46.1 Z" fill="url(#gsh)"/>
<circle r="6.4" fill="url(#gs2)"/>
</g>
<polygon points="678.8,117.5 678.8,114.7 679.6,111.8 681.1,109.0 683.3,106.3 686.0,103.8 689.2,101.6 692.9,99.8 696.8,98.4 700.9,97.5 705.1,97.0 709.2,97.1 713.1,97.6 716.7,98.7 719.8,100.2 722.5,102.0 724.5,104.3 725.8,106.8 726.5,109.5 732.3,136.5 732.3,139.3 731.5,142.2 730.0,145.0 727.8,147.7 725.1,150.2 721.9,152.4 718.2,154.2 714.3,155.6 710.2,156.5 706.0,157.0 701.9,156.9 698.0,156.3 694.4,155.3 691.3,153.8 688.6,151.9 686.6,149.7 685.3,147.2 684.6,144.4" fill="url(#gcyl)" />
<polygon points="678.8,117.5 678.8,114.7 679.6,111.8 681.1,109.0 683.3,106.3 686.0,103.8 689.2,101.6 692.9,99.8 696.8,98.4 700.9,97.5 705.1,97.0 709.2,97.1 713.1,97.6 716.7,98.7 719.8,100.2 722.5,102.0 724.5,104.3 725.8,106.8 726.5,109.5 732.3,136.5 732.3,139.3 731.5,142.2 730.0,145.0 727.8,147.7 725.1,150.2 721.9,152.4 718.2,154.2 714.3,155.6 710.2,156.5 706.0,157.0 701.9,156.9 698.0,156.3 694.4,155.3 691.3,153.8 688.6,151.9 686.6,149.7 685.3,147.2 684.6,144.4" fill="url(#gsh)" />
<polygon points="681.1,109.0 683.3,106.3 686.0,103.8 689.2,101.6 692.9,99.8 696.8,98.4 700.9,97.5 705.1,97.0 709.2,97.1 713.1,97.6 716.7,98.7 719.8,100.2 722.5,102.1 724.5,104.3 725.8,106.8 726.5,109.6 726.4,112.4 725.6,115.3 724.2,118.1 722.0,120.8 719.3,123.3 716.0,125.5 712.4,127.3 708.5,128.7 704.3,129.6 700.2,130.1 696.1,130.0 692.2,129.4 688.6,128.4 685.4,126.9 682.8,125.0 680.8,122.8 679.4,120.3 678.8,117.5 678.8,114.7 679.6,111.8" fill="#d2a32c" />
<polygon points="679.9,114.7 679.9,114.3 680.1,113.0 680.5,111.4 684.2,101.9 694.8,94.2 709.0,93.1 718.4,99.2 721.1,101.7 722.3,102.9 723.3,104.3 723.7,105.0 724.1,105.7 724.6,107.2 724.9,108.8 725.0,110.4 724.9,110.8 724.8,112.0 724.3,113.6 723.6,115.3 722.7,116.8 721.6,118.4 720.2,119.9 718.7,121.3 717.4,122.3 716.9,122.6 715.1,123.8 713.0,124.8 710.9,125.8 709.8,126.2 708.7,126.6 706.4,127.2 704.0,127.7 701.7,128.0 701.1,128.0 699.3,128.1 697.0,128.1 694.7,127.9 692.5,127.5 690.5,127.0 688.5,126.3 686.8,125.5 685.5,124.7 685.1,124.5 683.7,123.4 682.5,122.1 681.5,120.8 681.1,120.1 680.7,119.3 680.2,117.8 679.9,116.3" fill="#5580b8" />
<polygon points="700.5,94.4 694.8,94.2 703.8,97.0 709.0,93.1" fill="#4b71a4" stroke="#4b71a4" stroke-width="0.4"/>
<polygon points="693.5,96.9 684.2,101.9 687.4,102.8 694.8,94.2" fill="#537db4" stroke="#537db4" stroke-width="0.4"/>
<polygon points="707.2,95.8 709.0,93.1 719.3,100.3 718.4,99.2" fill="#4c73a6" stroke="#4c73a6" stroke-width="0.4"/>
<polygon points="693.5,96.9 694.8,94.2 700.5,94.4" fill="#517bb1" stroke="#517bb1" stroke-width="0.4"/>
<polygon points="718.4,99.2 723.7,105.0 724.9,110.8" fill="#4b71a4" stroke="#4b71a4" stroke-width="0.4"/>
<polygon points="700.5,94.4 709.0,93.1 707.2,95.8" fill="#4e76ab" stroke="#4e76ab" stroke-width="0.4"/>
<polygon points="683.4,111.6 681.1,120.1 679.9,114.3" fill="#618ec7" stroke="#618ec7" stroke-width="0.4"/>
<polygon points="690.2,101.8 683.4,111.6 679.9,114.3 684.2,101.9" fill="#6290ca" stroke="#6290ca" stroke-width="0.4"/>
<polygon points="690.2,101.8 684.2,101.9 693.5,96.9" fill="#5d89c2" stroke="#5d89c2" stroke-width="0.4"/>
<polygon points="683.4,111.6 685.5,124.7 681.1,120.1" fill="#6b9ad4" stroke="#6b9ad4" stroke-width="0.4"/>
<polygon points="707.2,95.8 718.4,99.2 709.7,100.3" fill="#547fb6" stroke="#547fb6" stroke-width="0.4"/>
<polygon points="709.7,100.3 718.4,99.2 724.9,110.8 717.5,109.0" fill="#5783bb" stroke="#5783bb" stroke-width="0.4"/>
<polygon points="717.5,109.0 724.9,110.8 722.7,116.8" fill="#517ab1" stroke="#517ab1" stroke-width="0.4"/>
<polygon points="693.5,96.9 700.5,94.4 707.2,95.8 709.7,100.3 706.4,105.3 699.4,107.8 692.6,106.4 690.2,101.8" fill="#6290c9" stroke="#6290c9" stroke-width="0.4"/>
<polygon points="692.6,106.4 683.4,111.6 690.2,101.8" fill="#6a99d3" stroke="#6a99d3" stroke-width="0.4"/>
<polygon points="717.5,109.0 722.7,116.8 717.4,122.3" fill="#5d89c2" stroke="#5d89c2" stroke-width="0.4"/>
<polygon points="692.6,106.4 692.8,117.7 685.5,124.7 683.4,111.6" fill="#7eabe5" stroke="#7eabe5" stroke-width="0.4"/>
<polygon points="692.8,117.7 692.6,127.5 685.5,124.7" fill="#8bb7f0" stroke="#8bb7f0" stroke-width="0.4"/>
<polygon points="709.7,100.3 717.5,109.0 706.4,105.3" fill="#618ec7" stroke="#618ec7" stroke-width="0.4"/>
<polygon points="692.8,117.7 701.1,128.0 692.6,127.5" fill="#a5d2f7" stroke="#a5d2f7" stroke-width="0.4"/>
<polygon points="706.4,105.3 717.5,109.0 717.4,122.3 706.9,116.6" fill="#6796d0" stroke="#6796d0" stroke-width="0.4"/>
<polygon points="699.4,107.8 692.8,117.7 692.6,106.4" fill="#8ab6f0" stroke="#8ab6f0" stroke-width="0.4"/>
<polygon points="706.9,116.6 717.4,122.3 709.8,126.2" fill="#6796d0" stroke="#6796d0" stroke-width="0.4"/>
<polygon points="706.9,116.6 709.8,126.2 701.1,128.0" fill="#79a7e1" stroke="#79a7e1" stroke-width="0.4"/>
<polygon points="706.4,105.3 706.9,116.6 699.4,107.8" fill="#709fd9" stroke="#709fd9" stroke-width="0.4"/>
<polygon points="699.4,107.8 706.9,116.6 701.1,128.0 692.8,117.7" fill="#97c4f3" stroke="#97c4f3" stroke-width="0.4"/>
<path d="M717.6,129.3 L717.6,149.9 A70.3,51.2 0 0 0 858.2,149.9 L858.2,129.3 A70.3,51.2 0 0 0 717.6,129.3 Z" fill="url(#gcyl)"/>
<ellipse cx="787.9" cy="129.3" rx="70.3" ry="51.2" fill="#d2a32c"/>
<path d="M719.5,125.5 L719.5,129.3 A68.4,49.8 0 0 0 856.3,129.3 L856.3,125.5 A68.4,49.8 0 0 0 719.5,125.5 Z" fill="url(#glip)"/>
<ellipse cx="787.9" cy="125.5" rx="68.4" ry="49.8" fill="#2f3f58"/>
<polygon points="720.7,126.8 720.9,121.6 721.8,116.6 723.4,111.6 725.8,106.8 728.8,102.1 731.5,98.8 732.5,97.8 736.8,93.7 741.7,90.0 747.0,86.7 749.9,85.2 752.8,83.8 759.0,81.3 765.5,79.4 772.3,77.9 774.0,77.7 779.2,77.0 786.2,76.6 793.3,76.8 800.2,77.4 807.1,78.6 813.7,80.3 820.1,82.6 824.6,84.5 826.1,85.2 831.6,88.4 836.8,91.9 841.3,95.8 843.4,97.9 845.3,100.0 848.6,104.5 851.3,109.3 853.3,114.2 853.7,115.4 854.6,119.2 855.1,124.3 854.9,129.4 854.0,134.5 852.4,139.5 850.0,144.3 847.0,149.0 844.3,152.3 843.3,153.3 839.0,157.4 834.1,161.1 828.8,164.4 825.9,165.9 823.0,167.3 816.8,169.8 810.3,171.7 803.5,173.2 801.8,173.4 796.6,174.1 789.6,174.5 782.5,174.3 775.6,173.7 768.7,172.5 762.1,170.8 755.7,168.5 751.2,166.6 749.7,165.8 744.1,162.7 739.0,159.2 734.5,155.3 732.4,153.2 730.5,151.1 727.2,146.6 724.5,141.8 722.5,136.9 722.1,135.7 721.2,131.9" fill="#5580b8" />
<polygon points="797.8,80.7 774.0,77.7 800.2,77.4" fill="#496d9f" stroke="#496d9f" stroke-width="0.4"/>
<polygon points="797.8,80.7 800.2,77.4 824.6,84.5" fill="#466899" stroke="#466899" stroke-width="0.4"/>
<polygon points="757.5,86.9 749.9,85.2 774.0,77.7" fill="#4f78ad" stroke="#4f78ad" stroke-width="0.4"/>
<polygon points="757.5,86.9 731.5,98.8 749.9,85.2" fill="#5a86be" stroke="#5a86be" stroke-width="0.4"/>
<polygon points="780.4,84.5 757.5,86.9 774.0,77.7 797.8,80.7" fill="#436594" stroke="#436594" stroke-width="0.4"/>
<polygon points="832.3,97.0 824.6,84.5 843.4,97.9" fill="#476a9c" stroke="#476a9c" stroke-width="0.4"/>
<polygon points="807.8,88.2 797.8,80.7 824.6,84.5 832.3,97.0" fill="#436493" stroke="#436493" stroke-width="0.4"/>
<polygon points="832.3,97.0 843.4,97.9 853.7,115.4" fill="#4c73a7" stroke="#4c73a7" stroke-width="0.4"/>
<polygon points="780.4,84.5 797.8,80.7 807.8,88.2" fill="#496ea1" stroke="#496ea1" stroke-width="0.4"/>
<polygon points="757.4,95.9 735.0,112.0 731.5,98.8 757.5,86.9" fill="#5b87c0" stroke="#5b87c0" stroke-width="0.4"/>
<polygon points="735.0,112.0 721.8,116.6 731.5,98.8" fill="#6796cf" stroke="#6796cf" stroke-width="0.4"/>
<polygon points="757.4,95.9 757.5,86.9 780.4,84.5" fill="#5681b9" stroke="#5681b9" stroke-width="0.4"/>
<polygon points="807.8,88.2 832.3,97.0 823.5,104.9" fill="#4c72a6" stroke="#4c72a6" stroke-width="0.4"/>
<polygon points="823.5,104.9 832.3,97.0 853.7,115.4 840.8,126.4" fill="#496ea0" stroke="#496ea0" stroke-width="0.4"/>
<polygon points="735.0,112.0 722.1,135.7 721.8,116.6" fill="#7aa8e2" stroke="#7aa8e2" stroke-width="0.4"/>
<polygon points="840.8,126.4 853.7,115.4 854.0,134.5" fill="#5580b8" stroke="#5580b8" stroke-width="0.4"/>
<polygon points="752.3,115.9 735.0,112.0 757.4,95.9" fill="#709fd9" stroke="#709fd9" stroke-width="0.4"/>
<polygon points="752.3,115.9 743.5,141.3 722.1,135.7 735.0,112.0" fill="#88b4ee" stroke="#88b4ee" stroke-width="0.4"/>
<polygon points="840.8,126.4 854.0,134.5 844.3,152.3" fill="#618fc8" stroke="#618fc8" stroke-width="0.4"/>
<polygon points="818.4,124.8 795.4,136.3 768.0,132.6 752.3,115.9 757.4,95.9 780.4,84.5 807.8,88.2 823.5,104.9" fill="#6d9dd7" stroke="#6d9dd7" stroke-width="0.4"/>
<polygon points="823.5,104.9 840.8,126.4 818.4,124.8" fill="#5d8ac2" stroke="#5d8ac2" stroke-width="0.4"/>
<polygon points="743.5,141.3 732.4,153.2 722.1,135.7" fill="#95c1f3" stroke="#95c1f3" stroke-width="0.4"/>
<polygon points="818.4,124.8 840.8,126.4 844.3,152.3 818.3,151.5" fill="#6593cc" stroke="#6593cc" stroke-width="0.4"/>
<polygon points="768.0,132.6 743.5,141.3 752.3,115.9" fill="#9fcbf5" stroke="#9fcbf5" stroke-width="0.4"/>
<polygon points="743.5,141.3 751.2,166.6 732.4,153.2" fill="#b2dbf9" stroke="#b2dbf9" stroke-width="0.4"/>
<polygon points="818.3,151.5 844.3,152.3 825.9,165.9" fill="#71a0da" stroke="#71a0da" stroke-width="0.4"/>
<polygon points="818.4,124.8 818.3,151.5 795.4,136.3" fill="#7dabe5" stroke="#7dabe5" stroke-width="0.4"/>
<polygon points="768.0,132.6 778.0,157.7 751.2,166.6 743.5,141.3" fill="#def0fd" stroke="#def0fd" stroke-width="0.4"/>
<polygon points="818.3,151.5 825.9,165.9 801.8,173.4" fill="#8bb7f0" stroke="#8bb7f0" stroke-width="0.4"/>
<polygon points="795.4,136.3 778.0,157.7 768.0,132.6" fill="#acd8f8" stroke="#acd8f8" stroke-width="0.4"/>
<polygon points="795.4,136.3 818.3,151.5 801.8,173.4 778.0,157.7" fill="#9bc8f4" stroke="#9bc8f4" stroke-width="0.4"/>
<polygon points="778.0,157.7 775.6,173.7 751.2,166.6" fill="#c2e2fa" stroke="#c2e2fa" stroke-width="0.4"/>
<polygon points="778.0,157.7 801.8,173.4 775.6,173.7" fill="#a5d2f7" stroke="#a5d2f7" stroke-width="0.4"/>
<g transform="translate(863.9,111.5) rotate(-0.0)">
<path d="M-7.3,0 A7.3,7.3 0 0 1 7.3,0 L7.3,28.4 A7.3,4.8 0 0 1 -7.3,28.4 Z" fill="url(#gcap)"/>
<path d="M-7.3,0 L7.3,0 L7.3,28.4 A7.3,4.8 0 0 1 -7.3,28.4 Z" fill="url(#gsh)"/>
<circle r="7.3" fill="url(#gs2)"/>
</g>
<g transform="translate(715.3,101.1) rotate(-0.0)">
<path d="M-10.3,0 A10.3,10.3 0 0 1 10.3,0 L10.3,42.0 A10.3,6.8 0 0 1 -10.3,42.0 Z" fill="url(#gcap)"/>
<path d="M-10.3,0 L10.3,0 L10.3,42.0 A10.3,6.8 0 0 1 -10.3,42.0 Z" fill="url(#gsh)"/>
<circle r="10.3" fill="url(#gs2)"/>
</g>
<g transform="translate(910.4,131.1) rotate(15.4)">
<path d="M-6.4,0 A6.4,6.4 0 0 1 6.4,0 L6.4,43.6 A6.4,4.2 0 0 1 -6.4,43.6 Z" fill="url(#gcap)"/>
<path d="M-6.4,0 L6.4,0 L6.4,43.6 A6.4,4.2 0 0 1 -6.4,43.6 Z" fill="url(#gsh)"/>
<circle r="6.4" fill="url(#gs2)"/>
</g>
<polygon points="851.9,161.6 852.0,158.6 858.4,133.3 859.1,130.4 860.6,127.8 862.7,125.4 865.4,123.5 868.6,121.9 872.2,120.9 876.2,120.3 880.3,120.3 884.4,120.9 888.5,121.9 892.4,123.5 896.0,125.5 899.2,127.8 901.8,130.5 903.9,133.4 905.2,136.4 905.9,139.5 905.9,142.5 899.5,167.8 898.7,170.7 897.2,173.3 895.1,175.7 892.4,177.7 889.2,179.2 885.6,180.2 881.7,180.8 877.6,180.8 873.4,180.2 869.3,179.2 865.4,177.6 861.8,175.6 858.7,173.3 856.0,170.6 854.0,167.7 852.6,164.7" fill="url(#gcyl)" />
<polygon points="851.9,161.6 852.0,158.6 858.4,133.3 859.1,130.4 860.6,127.8 862.7,125.4 865.4,123.5 868.6,121.9 872.2,120.9 876.2,120.3 880.3,120.3 884.4,120.9 888.5,121.9 892.4,123.5 896.0,125.5 899.2,127.8 901.8,130.5 903.9,133.4 905.2,136.4 905.9,139.5 905.9,142.5 899.5,167.8 898.7,170.7 897.2,173.3 895.1,175.7 892.4,177.7 889.2,179.2 885.6,180.2 881.7,180.8 877.6,180.8 873.4,180.2 869.3,179.2 865.4,177.6 861.8,175.6 858.7,173.3 856.0,170.6 854.0,167.7 852.6,164.7" fill="url(#gsh)" />
<polygon points="905.9,139.5 905.9,142.5 905.1,145.4 903.7,148.1 901.6,150.4 898.9,152.4 895.7,153.9 892.0,155.0 888.1,155.5 884.0,155.5 879.9,155.0 875.8,153.9 871.9,152.4 868.3,150.4 865.1,148.0 862.5,145.4 860.4,142.5 859.0,139.4 858.4,136.4 858.4,133.3 859.2,130.4 860.6,127.8 862.7,125.4 865.4,123.4 868.6,121.9 872.3,120.9 876.2,120.3 880.3,120.3 884.4,120.9 888.5,121.9 892.4,123.5 896.0,125.5 899.2,127.8 901.8,130.5 903.9,133.4 905.2,136.4" fill="#d2a32c" />
<polygon points="859.9,133.8 860.1,132.1 860.5,130.4 861.0,129.3 861.2,128.9 862.1,127.4 863.2,126.0 864.5,124.8 870.1,119.8 882.6,116.7 896.1,121.6 902.5,131.6 904.0,135.0 904.5,136.7 904.8,138.5 904.9,140.2 904.7,141.9 904.3,143.5 903.8,144.7 903.6,145.1 902.7,146.6 901.6,147.9 900.2,149.2 899.5,149.8 898.7,150.3 897.0,151.3 895.1,152.1 893.1,152.7 892.6,152.9 891.0,153.2 888.8,153.5 886.5,153.6 884.1,153.6 881.8,153.3 879.5,152.9 877.1,152.3 875.4,151.7 874.9,151.5 872.7,150.6 870.6,149.5 868.7,148.3 867.8,147.7 866.9,147.0 865.3,145.5 863.8,144.0 862.6,142.4 862.3,141.9 861.6,140.7 860.8,139.0 860.3,137.2 860.0,135.5" fill="#5580b8" />
<polygon points="888.1,119.9 882.6,116.7 889.3,122.2 896.1,121.6" fill="#4b71a4" stroke="#4b71a4" stroke-width="0.4"/>
<polygon points="870.1,119.9 861.0,129.3 865.3,124.2" fill="#547eb5" stroke="#547eb5" stroke-width="0.4"/>
<polygon points="880.7,119.4 870.1,119.9 872.2,121.1 882.6,116.7" fill="#5078ae" stroke="#5078ae" stroke-width="0.4"/>
<polygon points="893.8,124.1 896.1,121.6 902.4,132.0 902.5,131.5" fill="#4b71a4" stroke="#4b71a4" stroke-width="0.4"/>
<polygon points="902.5,131.5 904.8,138.5 903.8,144.7" fill="#4b71a4" stroke="#4b71a4" stroke-width="0.4"/>
<polygon points="880.7,119.4 882.6,116.7 888.1,119.9" fill="#4e76aa" stroke="#4e76aa" stroke-width="0.4"/>
<polygon points="888.1,119.9 896.1,121.6 893.8,124.1" fill="#4b71a4" stroke="#4b71a4" stroke-width="0.4"/>
<polygon points="865.7,129.1 860.0,135.5 861.0,129.3" fill="#608dc6" stroke="#608dc6" stroke-width="0.4"/>
<polygon points="875.9,122.9 865.7,129.1 861.0,129.3 870.1,119.9" fill="#608dc6" stroke="#608dc6" stroke-width="0.4"/>
<polygon points="875.9,122.9 870.1,119.9 880.7,119.4" fill="#5985be" stroke="#5985be" stroke-width="0.4"/>
<polygon points="893.8,124.1 902.5,131.5 894.4,129.6" fill="#527bb1" stroke="#527bb1" stroke-width="0.4"/>
<polygon points="894.4,129.6 902.5,131.5 903.8,144.7 898.1,140.8" fill="#5580b8" stroke="#5580b8" stroke-width="0.4"/>
<polygon points="898.1,140.8 903.8,144.7 899.5,149.8" fill="#517ab0" stroke="#517ab0" stroke-width="0.4"/>
<polygon points="865.7,129.1 862.3,142.0 860.0,135.5" fill="#6a9ad4" stroke="#6a9ad4" stroke-width="0.4"/>
<polygon points="894.4,129.6 889.5,133.1 882.1,132.6 876.4,128.4 875.9,122.9 880.7,119.4 888.1,119.9 893.8,124.1" fill="#5f8dc6" stroke="#5f8dc6" stroke-width="0.4"/>
<polygon points="898.1,140.8 899.5,149.8 892.6,152.9" fill="#5d8ac2" stroke="#5d8ac2" stroke-width="0.4"/>
<polygon points="876.4,128.4 865.7,129.1 875.9,122.9" fill="#6796d0" stroke="#6796d0" stroke-width="0.4"/>
<polygon points="876.4,128.4 872.1,139.1 862.3,142.0 865.7,129.1" fill="#73a2dc" stroke="#73a2dc" stroke-width="0.4"/>
<polygon points="872.1,139.1 867.8,147.7 862.3,142.0" fill="#90bdf2" stroke="#90bdf2" stroke-width="0.4"/>
<polygon points="894.4,129.6 898.1,140.8 889.5,133.1" fill="#5f8cc5" stroke="#5f8cc5" stroke-width="0.4"/>
<polygon points="889.5,133.1 898.1,140.8 892.6,152.9 885.5,143.9" fill="#6695ce" stroke="#6695ce" stroke-width="0.4"/>
<polygon points="885.5,143.9 892.6,152.9 884.1,153.6" fill="#6897d1" stroke="#6897d1" stroke-width="0.4"/>
<polygon points="872.1,139.1 875.4,151.7 867.8,147.7" fill="#cde8fb" stroke="#cde8fb" stroke-width="0.4"/>
<polygon points="885.5,143.9 884.1,153.6 875.4,151.7" fill="#81aee8" stroke="#81aee8" stroke-width="0.4"/>
<polygon points="882.1,132.6 872.1,139.1 876.4,128.4" fill="#79a8e2" stroke="#79a8e2" stroke-width="0.4"/>
<polygon points="882.1,132.6 885.5,143.9 875.4,151.7 872.1,139.1" fill="#8ab6f0" stroke="#8ab6f0" stroke-width="0.4"/>
<polygon points="889.5,133.1 885.5,143.9 882.1,132.6" fill="#6c9cd6" stroke="#6c9cd6" stroke-width="0.4"/>
<polygon points="669.9,152.8 669.9,149.7 670.7,146.5 672.1,143.4 674.2,140.5 676.9,137.8 680.1,135.4 683.8,133.5 687.7,132.0 691.8,131.0 696.0,130.5 700.0,130.6 703.9,131.2 707.5,132.3 710.7,134.0 713.3,136.1 715.4,138.5 716.8,141.3 723.2,165.8 723.9,168.8 723.9,171.9 723.1,175.1 721.6,178.2 719.5,181.1 716.8,183.8 713.6,186.2 710.0,188.1 706.1,189.6 702.0,190.6 697.8,191.1 693.7,191.0 689.8,190.4 686.2,189.3 683.1,187.6 680.4,185.5 678.4,183.1 677.0,180.3 670.6,155.8" fill="url(#gcyl)" />
<polygon points="669.9,152.8 669.9,149.7 670.7,146.5 672.1,143.4 674.2,140.5 676.9,137.8 680.1,135.4 683.8,133.5 687.7,132.0 691.8,131.0 696.0,130.5 700.0,130.6 703.9,131.2 707.5,132.3 710.7,134.0 713.3,136.1 715.4,138.5 716.8,141.3 723.2,165.8 723.9,168.8 723.9,171.9 723.1,175.1 721.6,178.2 719.5,181.1 716.8,183.8 713.6,186.2 710.0,188.1 706.1,189.6 702.0,190.6 697.8,191.1 693.7,191.0 689.8,190.4 686.2,189.3 683.1,187.6 680.4,185.5 678.4,183.1 677.0,180.3 670.6,155.8" fill="url(#gsh)" />
<polygon points="669.9,152.8 669.9,149.7 670.7,146.5 672.1,143.4 674.2,140.5 676.9,137.8 680.1,135.4 683.8,133.5 687.7,132.0 691.8,131.0 695.9,130.5 700.0,130.6 703.9,131.2 707.5,132.3 710.7,134.0 713.3,136.1 715.4,138.5 716.8,141.3 717.4,144.3 717.4,147.4 716.6,150.6 715.2,153.7 713.1,156.6 710.4,159.3 707.2,161.6 703.5,163.6 699.6,165.1 695.5,166.1 691.4,166.6 687.3,166.5 683.4,165.9 679.8,164.7 676.6,163.1 674.0,161.0 671.9,158.6 670.6,155.8" fill="#d2a32c" />
<polygon points="670.9,149.9 671.1,148.1 671.5,146.3 672.0,145.0 672.2,144.6 677.7,133.9 690.3,127.6 703.7,129.2 710.5,134.6 712.0,135.9 713.2,137.2 713.5,137.6 714.2,138.7 715.0,140.2 715.5,141.9 715.8,143.6 715.9,145.4 715.7,147.2 715.3,148.9 714.8,150.3 714.6,150.7 713.7,152.4 712.6,154.1 711.3,155.7 710.5,156.5 709.7,157.3 708.0,158.7 706.2,160.0 704.1,161.1 703.6,161.4 702.0,162.2 699.8,163.0 697.5,163.7 695.2,164.2 692.8,164.5 690.5,164.7 688.2,164.6 686.5,164.5 685.9,164.4 683.7,164.0 681.7,163.4 679.7,162.6 678.8,162.2 677.9,161.7 676.3,160.6 674.9,159.4 673.6,158.0 673.4,157.7 672.6,156.6 671.8,155.0 671.3,153.3 671.0,151.6" fill="#5580b8" />
<polygon points="686.3,131.2 677.7,133.9 683.2,133.8 690.3,127.6" fill="#527cb2" stroke="#527cb2" stroke-width="0.4"/>
<polygon points="693.7,129.9 690.3,127.6 700.4,130.8 703.7,129.2" fill="#4d74a8" stroke="#4d74a8" stroke-width="0.4"/>
<polygon points="673.3,144.5 671.0,151.6 672.0,145.0" fill="#5a86be" stroke="#5a86be" stroke-width="0.4"/>
<polygon points="681.4,136.1 673.3,144.5 672.0,145.0 677.7,133.9" fill="#5f8dc6" stroke="#5f8dc6" stroke-width="0.4"/>
<polygon points="686.3,131.2 690.3,127.6 693.7,129.9" fill="#537cb3" stroke="#537cb3" stroke-width="0.4"/>
<polygon points="710.1,137.9 713.5,137.6 715.8,143.6" fill="#4b71a4" stroke="#4b71a4" stroke-width="0.4"/>
<polygon points="673.3,144.5 673.4,157.7 671.0,151.6" fill="#6492cc" stroke="#6492cc" stroke-width="0.4"/>
<polygon points="699.4,132.9 703.7,129.2 713.5,137.6 710.1,137.9" fill="#527bb2" stroke="#527bb2" stroke-width="0.4"/>
<polygon points="681.4,136.1 677.7,133.9 686.3,131.2" fill="#5b87c0" stroke="#5b87c0" stroke-width="0.4"/>
<polygon points="693.7,129.9 703.7,129.2 699.4,132.9" fill="#527cb3" stroke="#527cb3" stroke-width="0.4"/>
<polygon points="710.1,137.9 715.8,143.6 714.8,150.3" fill="#4f77ac" stroke="#4f77ac" stroke-width="0.4"/>
<polygon points="682.0,141.6 673.3,144.5 681.4,136.1" fill="#6897d0" stroke="#6897d0" stroke-width="0.4"/>
<polygon points="682.0,141.6 679.7,153.1 673.4,157.7 673.3,144.5" fill="#71a1db" stroke="#71a1db" stroke-width="0.4"/>
<polygon points="679.7,153.1 678.8,162.2 673.4,157.7" fill="#6e9ed8" stroke="#6e9ed8" stroke-width="0.4"/>
<polygon points="699.4,132.9 710.1,137.9 699.9,138.3" fill="#5b87bf" stroke="#5b87bf" stroke-width="0.4"/>
<polygon points="681.4,136.1 686.3,131.2 693.7,129.9 699.4,132.9 699.9,138.3 695.1,143.2 687.7,144.5 682.0,141.6" fill="#6594cd" stroke="#6594cd" stroke-width="0.4"/>
<polygon points="699.9,138.3 710.1,137.9 714.8,150.3 705.7,148.5" fill="#5f8cc5" stroke="#5f8cc5" stroke-width="0.4"/>
<polygon points="705.7,148.5 714.8,150.3 710.5,156.5" fill="#5985be" stroke="#5985be" stroke-width="0.4"/>
<polygon points="679.7,153.1 686.5,164.5 678.8,162.2" fill="#8bb7f0" stroke="#8bb7f0" stroke-width="0.4"/>
<polygon points="705.7,148.5 710.5,156.5 703.6,161.4" fill="#6492cb" stroke="#6492cb" stroke-width="0.4"/>
<polygon points="687.7,144.5 679.7,153.1 682.0,141.6" fill="#8cb8f1" stroke="#8cb8f1" stroke-width="0.4"/>
<polygon points="693.2,154.8 695.2,164.2 686.5,164.5" fill="#8ab6f0" stroke="#8ab6f0" stroke-width="0.4"/>
<polygon points="687.7,144.5 693.2,154.8 686.5,164.5 679.7,153.1" fill="#d1eafb" stroke="#d1eafb" stroke-width="0.4"/>
<polygon points="699.9,138.3 705.7,148.5 695.1,143.2" fill="#6796d0" stroke="#6796d0" stroke-width="0.4"/>
<polygon points="693.2,154.8 703.6,161.4 695.2,164.2" fill="#6d9dd7" stroke="#6d9dd7" stroke-width="0.4"/>
<polygon points="695.1,143.2 705.7,148.5 703.6,161.4 693.2,154.8" fill="#70a0da" stroke="#70a0da" stroke-width="0.4"/>
<polygon points="695.1,143.2 693.2,154.8 687.7,144.5" fill="#8bb7f0" stroke="#8bb7f0" stroke-width="0.4"/>
<g transform="translate(665.4,142.7) rotate(-15.8)">
<path d="M-6.4,0 A6.4,6.4 0 0 1 6.4,0 L6.4,42.5 A6.4,4.2 0 0 1 -6.4,42.5 Z" fill="url(#gcap)"/>
<path d="M-6.4,0 L6.4,0 L6.4,42.5 A6.4,4.2 0 0 1 -6.4,42.5 Z" fill="url(#gsh)"/>
<circle r="6.4" fill="url(#gs2)"/>
</g>
<g transform="translate(860.5,120.9) rotate(-0.0)">
<path d="M-10.3,0 A10.3,10.3 0 0 1 10.3,0 L10.3,42.0 A10.3,6.8 0 0 1 -10.3,42.0 Z" fill="url(#gcap)"/>
<path d="M-10.3,0 L10.3,0 L10.3,42.0 A10.3,6.8 0 0 1 -10.3,42.0 Z" fill="url(#gsh)"/>
<circle r="10.3" fill="url(#gs2)"/>
</g>
<g transform="translate(711.9,150.5) rotate(-0.0)">
<path d="M-7.3,0 A7.3,7.3 0 0 1 7.3,0 L7.3,28.4 A7.3,4.8 0 0 1 -7.3,28.4 Z" fill="url(#gcap)"/>
<path d="M-7.3,0 L7.3,0 L7.3,28.4 A7.3,4.8 0 0 1 -7.3,28.4 Z" fill="url(#gsh)"/>
<circle r="7.3" fill="url(#gs2)"/>
</g>
<polygon points="843.5,194.7 843.5,191.4 844.3,188.3 850.2,165.4 851.6,162.5 853.8,159.9 856.5,157.7 859.8,156.0 863.4,154.7 867.4,154.1 871.5,153.9 875.6,154.4 879.7,155.5 883.6,157.0 887.2,159.1 890.4,161.6 893.0,164.4 895.0,167.4 896.4,170.7 897.0,174.0 897.0,177.3 896.2,180.4 890.3,203.3 888.9,206.2 886.7,208.8 884.0,211.0 880.7,212.8 877.1,214.0 873.1,214.7 869.0,214.8 864.9,214.3 860.8,213.3 856.9,211.7 853.3,209.6 850.1,207.2 847.5,204.4 845.5,201.3 844.1,198.0" fill="url(#gcyl)" />
<polygon points="843.5,194.7 843.5,191.4 844.3,188.3 850.2,165.4 851.6,162.5 853.8,159.9 856.5,157.7 859.8,156.0 863.4,154.7 867.4,154.1 871.5,153.9 875.6,154.4 879.7,155.5 883.6,157.0 887.2,159.1 890.4,161.6 893.0,164.4 895.0,167.4 896.4,170.7 897.0,174.0 897.0,177.3 896.2,180.4 890.3,203.3 888.9,206.2 886.7,208.8 884.0,211.0 880.7,212.8 877.1,214.0 873.1,214.7 869.0,214.8 864.9,214.3 860.8,213.3 856.9,211.7 853.3,209.6 850.1,207.2 847.5,204.4 845.5,201.3 844.1,198.0" fill="url(#gsh)" />
<polygon points="894.7,183.3 892.5,185.9 889.8,188.2 886.6,189.9 882.9,191.1 879.0,191.8 874.9,191.9 870.7,191.4 866.6,190.4 862.7,188.8 859.1,186.8 856.0,184.3 853.3,181.5 851.3,178.4 850.0,175.2 849.3,171.9 849.4,168.6 850.2,165.4 851.6,162.5 853.8,159.9 856.5,157.7 859.8,156.0 863.4,154.7 867.3,154.1 871.5,154.0 875.6,154.4 879.7,155.5 883.6,157.0 887.2,159.1 890.4,161.5 893.0,164.4 895.0,167.4 896.4,170.7 897.0,174.0 897.0,177.3 896.2,180.4" fill="#d2a32c" />
<polygon points="850.8,169.2 850.9,168.8 851.0,167.4 851.5,165.6 852.2,163.9 853.1,162.3 854.2,160.8 855.6,159.4 857.1,158.1 858.4,157.3 858.9,157.0 868.9,151.7 883.0,153.8 892.4,163.1 894.7,168.4 895.1,169.3 895.6,171.2 895.9,173.1 895.9,174.9 895.9,175.4 895.7,176.8 895.3,178.6 894.6,180.3 893.7,181.9 892.5,183.4 891.2,184.8 889.6,186.1 888.4,186.9 887.9,187.2 886.0,188.1 884.0,188.8 881.9,189.4 880.8,189.6 879.6,189.8 877.3,190.0 875.0,190.0 872.6,189.8 872.0,189.7 870.3,189.4 868.0,188.8 865.7,188.0 863.5,187.1 861.5,186.0 859.5,184.7 857.7,183.3 856.5,182.2 856.1,181.8 854.7,180.2 853.5,178.4 852.5,176.7 852.1,175.8 851.7,174.8 851.2,172.9 850.9,171.1" fill="#5580b8" />
<polygon points="876.4,154.7 868.9,151.7 874.7,154.5 883.0,153.8" fill="#4c73a7" stroke="#4c73a7" stroke-width="0.4"/>
<polygon points="858.3,158.0 853.1,162.3 858.4,157.3" fill="#527bb2" stroke="#527bb2" stroke-width="0.4"/>
<polygon points="892.4,163.1 894.7,168.4 895.9,175.4" fill="#4b71a4" stroke="#4b71a4" stroke-width="0.4"/>
<polygon points="883.2,158.0 883.0,153.8 890.3,162.0 892.4,163.1" fill="#4b71a4" stroke="#4b71a4" stroke-width="0.4"/>
<polygon points="869.4,156.0 858.3,158.0 858.4,157.3 868.9,151.7" fill="#5883bc" stroke="#5883bc" stroke-width="0.4"/>
<polygon points="858.3,158.0 850.9,168.8 853.1,162.3" fill="#5d8ac3" stroke="#5d8ac3" stroke-width="0.4"/>
<polygon points="876.4,154.7 883.0,153.8 883.2,158.0" fill="#4e76ab" stroke="#4e76ab" stroke-width="0.4"/>
<polygon points="869.4,156.0 868.9,151.7 876.4,154.7" fill="#547fb6" stroke="#547fb6" stroke-width="0.4"/>
<polygon points="891.6,174.1 895.9,175.4 893.7,181.9" fill="#4b71a4" stroke="#4b71a4" stroke-width="0.4"/>
<polygon points="885.6,163.8 892.4,163.1 895.9,175.4 891.6,174.1" fill="#537cb3" stroke="#537cb3" stroke-width="0.4"/>
<polygon points="883.2,158.0 892.4,163.1 885.6,163.8" fill="#517ab0" stroke="#517ab0" stroke-width="0.4"/>
<polygon points="857.4,169.1 852.1,175.7 850.9,168.8" fill="#6897d0" stroke="#6897d0" stroke-width="0.4"/>
<polygon points="891.6,174.1 893.7,181.9 888.4,186.9" fill="#557fb7" stroke="#557fb7" stroke-width="0.4"/>
<polygon points="866.1,160.9 857.4,169.1 850.9,168.8 858.3,158.0" fill="#6897d0" stroke="#6897d0" stroke-width="0.4"/>
<polygon points="866.1,160.9 858.3,158.0 869.4,156.0" fill="#618fc8" stroke="#618fc8" stroke-width="0.4"/>
<polygon points="857.4,169.1 856.5,182.2 852.1,175.7" fill="#7ba9e3" stroke="#7ba9e3" stroke-width="0.4"/>
<polygon points="882.3,168.8 875.3,170.0 868.6,166.7 866.1,160.9 869.4,156.0 876.4,154.7 883.2,158.0 885.6,163.8" fill="#6290c9" stroke="#6290c9" stroke-width="0.4"/>
<polygon points="885.6,163.8 891.6,174.1 882.3,168.8" fill="#5c89c1" stroke="#5c89c1" stroke-width="0.4"/>
<polygon points="881.0,180.4 888.4,186.9 880.8,189.6" fill="#608ec7" stroke="#608ec7" stroke-width="0.4"/>
<polygon points="882.3,168.8 891.6,174.1 888.4,186.9 881.0,180.4" fill="#6290c9" stroke="#6290c9" stroke-width="0.4"/>
<polygon points="868.6,166.7 857.4,169.1 866.1,160.9" fill="#709fd9" stroke="#709fd9" stroke-width="0.4"/>
<polygon points="866.8,178.4 863.5,187.1 856.5,182.2" fill="#a7d4f7" stroke="#a7d4f7" stroke-width="0.4"/>
<polygon points="881.0,180.4 880.8,189.6 872.0,189.7" fill="#6a9ad4" stroke="#6a9ad4" stroke-width="0.4"/>
<polygon points="868.6,166.7 866.8,178.4 856.5,182.2 857.4,169.1" fill="#98c5f4" stroke="#98c5f4" stroke-width="0.4"/>
<polygon points="866.8,178.4 872.0,189.7 863.5,187.1" fill="#89b5ef" stroke="#89b5ef" stroke-width="0.4"/>
<polygon points="882.3,168.8 881.0,180.4 875.3,170.0" fill="#6999d2" stroke="#6999d2" stroke-width="0.4"/>
<polygon points="875.3,170.0 881.0,180.4 872.0,189.7 866.8,178.4" fill="#7ba9e3" stroke="#7ba9e3" stroke-width="0.4"/>
<polygon points="875.3,170.0 866.8,178.4 868.6,166.7" fill="#89b5ef" stroke="#89b5ef" stroke-width="0.4"/>
<g transform="translate(678.6,172.2) rotate(-15.6)">
<path d="M-6.4,0 A6.4,6.4 0 0 1 6.4,0 L6.4,39.5 A6.4,4.2 0 0 1 -6.4,39.5 Z" fill="url(#gcap)"/>
<path d="M-6.4,0 L6.4,0 L6.4,39.5 A6.4,4.2 0 0 1 -6.4,39.5 Z" fill="url(#gsh)"/>
<circle r="6.4" fill="url(#gs2)"/>
</g>
<g transform="translate(899.2,174.4) rotate(15.5)">
<path d="M-6.4,0 A6.4,6.4 0 0 1 6.4,0 L6.4,39.3 A6.4,4.2 0 0 1 -6.4,39.3 Z" fill="url(#gcap)"/>
<path d="M-6.4,0 L6.4,0 L6.4,39.3 A6.4,4.2 0 0 1 -6.4,39.3 Z" fill="url(#gsh)"/>
<circle r="6.4" fill="url(#gs2)"/>
</g>
<g transform="translate(849.1,169.1) rotate(-0.0)">
<path d="M-7.3,0 A7.3,7.3 0 0 1 7.3,0 L7.3,28.4 A7.3,4.8 0 0 1 -7.3,28.4 Z" fill="url(#gcap)"/>
<path d="M-7.3,0 L7.3,0 L7.3,28.4 A7.3,4.8 0 0 1 -7.3,28.4 Z" fill="url(#gsh)"/>
<circle r="7.3" fill="url(#gs2)"/>
</g>
<polygon points="683.9,186.9 683.9,183.6 684.7,180.2 686.1,177.0 688.2,173.9 690.9,171.1 694.1,168.6 697.7,166.7 701.7,165.2 705.8,164.2 710.0,163.9 714.1,164.1 718.0,164.9 721.6,166.2 724.8,168.1 727.5,170.5 729.6,173.2 731.0,176.2 736.3,198.4 737.0,201.7 737.0,205.0 736.3,208.4 734.8,211.7 732.7,214.7 730.0,217.5 726.8,220.0 723.2,221.9 719.3,223.4 715.2,224.4 711.0,224.7 706.9,224.5 702.9,223.7 699.3,222.3 696.1,220.5 693.5,218.1 691.4,215.4 690.0,212.4 684.6,190.2" fill="url(#gcyl)" />
<polygon points="683.9,186.9 683.9,183.6 684.7,180.2 686.1,177.0 688.2,173.9 690.9,171.1 694.1,168.6 697.7,166.7 701.7,165.2 705.8,164.2 710.0,163.9 714.1,164.1 718.0,164.9 721.6,166.2 724.8,168.1 727.5,170.5 729.6,173.2 731.0,176.2 736.3,198.4 737.0,201.7 737.0,205.0 736.3,208.4 734.8,211.7 732.7,214.7 730.0,217.5 726.8,220.0 723.2,221.9 719.3,223.4 715.2,224.4 711.0,224.7 706.9,224.5 702.9,223.7 699.3,222.3 696.1,220.5 693.5,218.1 691.4,215.4 690.0,212.4 684.6,190.2" fill="url(#gsh)" />
<polygon points="688.1,195.9 686.0,193.2 684.6,190.2 683.9,186.9 683.9,183.6 684.7,180.2 686.1,177.0 688.2,173.9 690.9,171.1 694.1,168.6 697.7,166.7 701.7,165.2 705.8,164.2 710.0,163.9 714.1,164.1 718.0,164.9 721.6,166.3 724.8,168.1 727.5,170.5 729.6,173.2 731.0,176.2 731.7,179.4 731.7,182.8 730.9,186.2 729.5,189.4 727.4,192.5 724.7,195.3 721.5,197.7 717.9,199.7 713.9,201.2 709.8,202.2 705.6,202.5 701.5,202.3 697.6,201.5 694.0,200.1 690.8,198.3" fill="#d2a32c" />
<polygon points="685.0,184.0 685.2,182.1 685.4,181.2 685.6,180.2 686.2,178.3 687.1,176.5 688.2,174.7 688.6,174.3 695.6,165.3 709.5,161.6 721.4,166.7 723.1,167.8 724.7,169.0 726.2,170.4 727.4,171.8 728.4,173.5 729.2,175.2 729.7,176.5 729.8,177.0 730.1,178.8 730.2,180.7 730.0,182.6 729.9,183.6 729.6,184.5 729.0,186.4 728.1,188.2 727.0,190.0 726.6,190.4 725.6,191.7 724.1,193.3 722.4,194.8 720.5,196.1 718.5,197.3 716.4,198.3 714.1,199.1 712.4,199.6 711.9,199.8 709.5,200.2 707.1,200.5 704.8,200.6 703.6,200.6 702.5,200.5 700.2,200.1 698.0,199.6 695.9,198.9 695.4,198.7 694.0,198.0 692.1,196.9 690.5,195.7 689.0,194.4 687.8,192.9 686.8,191.2 686.0,189.5 685.5,188.2 685.4,187.7 685.1,185.9" fill="#5580b8" />
<polygon points="703.2,165.4 695.6,165.3 702.8,165.1 709.5,161.6" fill="#527cb2" stroke="#527cb2" stroke-width="0.4"/>
<polygon points="721.4,166.7 726.2,170.4 729.7,176.5" fill="#4b71a4" stroke="#4b71a4" stroke-width="0.4"/>
<polygon points="710.6,165.8 709.5,161.6 719.8,166.0 721.4,166.7" fill="#5078ae" stroke="#5078ae" stroke-width="0.4"/>
<polygon points="687.9,175.5 685.5,188.2 685.3,181.1" fill="#5f8cc5" stroke="#5f8cc5" stroke-width="0.4"/>
<polygon points="697.1,169.4 687.9,175.5 688.6,174.3 695.6,165.3" fill="#5d8ac3" stroke="#5d8ac3" stroke-width="0.4"/>
<polygon points="703.2,165.4 709.5,161.6 710.6,165.8" fill="#547fb6" stroke="#547fb6" stroke-width="0.4"/>
<polygon points="697.1,169.4 695.6,165.3 703.2,165.4" fill="#5a87bf" stroke="#5a87bf" stroke-width="0.4"/>
<polygon points="724.4,177.5 729.7,176.5 729.9,183.6" fill="#4c73a7" stroke="#4c73a7" stroke-width="0.4"/>
<polygon points="691.0,186.3 689.0,194.4 685.5,188.2" fill="#6897d0" stroke="#6897d0" stroke-width="0.4"/>
<polygon points="714.9,170.4 721.4,166.7 729.7,176.5 724.4,177.5" fill="#5782ba" stroke="#5782ba" stroke-width="0.4"/>
<polygon points="695.8,175.4 691.0,186.3 685.5,188.2 687.9,175.5" fill="#6b9bd5" stroke="#6b9bd5" stroke-width="0.4"/>
<polygon points="710.6,165.8 721.4,166.7 714.9,170.4" fill="#5682ba" stroke="#5682ba" stroke-width="0.4"/>
<polygon points="695.8,175.4 687.9,175.5 697.1,169.4" fill="#6694ce" stroke="#6694ce" stroke-width="0.4"/>
<polygon points="724.4,177.5 729.9,183.6 726.6,190.4" fill="#5580b8" stroke="#5580b8" stroke-width="0.4"/>
<polygon points="691.0,186.3 695.4,198.7 689.0,194.4" fill="#73a2dc" stroke="#73a2dc" stroke-width="0.4"/>
<polygon points="695.8,175.4 697.1,169.4 703.2,165.4 710.6,165.8 714.9,170.4 713.6,176.4 707.4,180.4 700.1,180.0" fill="#6796d0" stroke="#6796d0" stroke-width="0.4"/>
<polygon points="714.9,170.4 724.4,177.5 713.6,176.4" fill="#608dc6" stroke="#608dc6" stroke-width="0.4"/>
<polygon points="716.8,187.8 726.6,190.4 720.5,196.1" fill="#5f8cc5" stroke="#5f8cc5" stroke-width="0.4"/>
<polygon points="700.1,180.0 691.0,186.3 695.8,175.4" fill="#82afe9" stroke="#82afe9" stroke-width="0.4"/>
<polygon points="702.9,191.4 703.6,200.5 695.4,198.7" fill="#83b0ea" stroke="#83b0ea" stroke-width="0.4"/>
<polygon points="713.6,176.4 724.4,177.5 726.6,190.4 716.8,187.8" fill="#6493cc" stroke="#6493cc" stroke-width="0.4"/>
<polygon points="700.1,180.0 702.9,191.4 695.4,198.7 691.0,186.3" fill="#d1e9fb" stroke="#d1e9fb" stroke-width="0.4"/>
<polygon points="716.8,187.8 720.5,196.1 712.4,199.6" fill="#6897d1" stroke="#6897d1" stroke-width="0.4"/>
<polygon points="702.9,191.4 712.4,199.6 703.6,200.5" fill="#74a3dd" stroke="#74a3dd" stroke-width="0.4"/>
<polygon points="707.4,180.4 716.8,187.8 712.4,199.6 702.9,191.4" fill="#88b4ee" stroke="#88b4ee" stroke-width="0.4"/>
<polygon points="713.6,176.4 716.8,187.8 707.4,180.4" fill="#6d9dd7" stroke="#6d9dd7" stroke-width="0.4"/>
<polygon points="707.4,180.4 702.9,191.4 700.1,180.0" fill="#aad7f8" stroke="#aad7f8" stroke-width="0.4"/>
<g transform="translate(735.5,175.5) rotate(-0.0)">
<path d="M-7.3,0 A7.3,7.3 0 0 1 7.3,0 L7.3,28.4 A7.3,4.8 0 0 1 -7.3,28.4 Z" fill="url(#gcap)"/>
<path d="M-7.3,0 L7.3,0 L7.3,28.4 A7.3,4.8 0 0 1 -7.3,28.4 Z" fill="url(#gsh)"/>
<circle r="7.3" fill="url(#gs2)"/>
</g>
<g transform="translate(774.3,163.9) rotate(-0.0)">
<path d="M-10.3,0 A10.3,10.3 0 0 1 10.3,0 L10.3,42.0 A10.3,6.8 0 0 1 -10.3,42.0 Z" fill="url(#gcap)"/>
<path d="M-10.3,0 L10.3,0 L10.3,42.0 A10.3,6.8 0 0 1 -10.3,42.0 Z" fill="url(#gsh)"/>
<circle r="10.3" fill="url(#gs2)"/>
</g>
<g transform="translate(814.7,186.3) rotate(-0.0)">
<path d="M-7.3,0 A7.3,7.3 0 0 1 7.3,0 L7.3,28.4 A7.3,4.8 0 0 1 -7.3,28.4 Z" fill="url(#gcap)"/>
<path d="M-7.3,0 L7.3,0 L7.3,28.4 A7.3,4.8 0 0 1 -7.3,28.4 Z" fill="url(#gsh)"/>
<circle r="7.3" fill="url(#gs2)"/>
</g>
<polygon points="815.1,222.6 815.2,219.1 818.8,198.1 819.6,194.7 821.1,191.6 823.3,188.8 826.0,186.3 829.3,184.3 833.0,182.8 837.0,181.9 841.1,181.6 845.3,181.9 849.4,182.8 853.4,184.3 857.0,186.3 860.1,188.7 862.8,191.6 864.8,194.7 866.2,198.1 866.9,201.5 866.8,205.0 863.1,226.0 862.3,229.3 860.8,232.5 858.6,235.3 855.9,237.8 852.6,239.8 849.0,241.2 845.0,242.1 840.8,242.4 836.6,242.2 832.5,241.2 828.6,239.8 825.0,237.8 821.8,235.3 819.2,232.5 817.1,229.4 815.8,226.0" fill="url(#gcyl)" />
<polygon points="815.1,222.6 815.2,219.1 818.8,198.1 819.6,194.7 821.1,191.6 823.3,188.8 826.0,186.3 829.3,184.3 833.0,182.8 837.0,181.9 841.1,181.6 845.3,181.9 849.4,182.8 853.4,184.3 857.0,186.3 860.1,188.7 862.8,191.6 864.8,194.7 866.2,198.1 866.9,201.5 866.8,205.0 863.1,226.0 862.3,229.3 860.8,232.5 858.6,235.3 855.9,237.8 852.6,239.8 849.0,241.2 845.0,242.1 840.8,242.4 836.6,242.2 832.5,241.2 828.6,239.8 825.0,237.8 821.8,235.3 819.2,232.5 817.1,229.4 815.8,226.0" fill="url(#gsh)" />
<polygon points="856.3,218.8 852.6,220.2 848.6,221.1 844.5,221.4 840.3,221.1 836.2,220.3 832.2,218.8 828.6,216.8 825.5,214.3 822.8,211.5 820.8,208.4 819.4,205.0 818.7,201.6 818.8,198.1 819.6,194.7 821.1,191.6 823.3,188.7 826.0,186.3 829.3,184.3 833.0,182.8 837.0,181.9 841.1,181.6 845.3,181.9 849.4,182.8 853.4,184.3 857.0,186.3 860.1,188.7 862.8,191.6 864.8,194.7 866.2,198.1 866.8,201.5 866.8,205.0 866.0,208.3 864.5,211.5 862.3,214.3 859.5,216.8" fill="#d2a32c" />
<polygon points="820.2,198.8 820.4,196.9 820.6,195.9 820.9,195.0 821.6,193.1 822.5,191.4 823.6,189.7 824.0,189.3 825.0,188.2 826.6,186.8 833.5,181.9 847.5,180.3 859.4,187.5 863.0,193.1 864.0,194.9 864.8,196.8 865.2,198.3 865.3,198.8 865.6,200.7 865.7,202.7 865.5,204.6 865.2,205.6 865.0,206.5 864.3,208.4 863.4,210.1 862.2,211.8 861.9,212.2 860.9,213.3 859.3,214.7 857.5,215.9 855.6,217.0 853.6,217.9 851.5,218.6 849.2,219.1 847.5,219.4 846.9,219.4 844.5,219.5 842.1,219.4 839.8,219.1 838.6,218.9 837.4,218.6 835.2,217.9 833.0,217.0 830.9,215.9 830.4,215.7 828.9,214.7 827.1,213.3 825.5,211.8 824.1,210.2 822.9,208.4 821.9,206.6 821.1,204.7 820.7,203.2 820.5,202.7 820.2,200.8" fill="#5580b8" />
<polygon points="859.4,187.5 861.8,191.3 865.2,198.3" fill="#4b71a4" stroke="#4b71a4" stroke-width="0.4"/>
<polygon points="842.5,183.8 833.5,181.9 838.4,182.1 847.5,180.3" fill="#527bb2" stroke="#527bb2" stroke-width="0.4"/>
<polygon points="849.9,185.4 847.5,180.3 855.5,185.8 859.4,187.5" fill="#4d74a8" stroke="#4d74a8" stroke-width="0.4"/>
<polygon points="825.6,191.2 820.6,195.9 824.0,189.3" fill="#5a86bf" stroke="#5a86bf" stroke-width="0.4"/>
<polygon points="862.2,199.2 865.2,198.3 865.3,205.6" fill="#4b71a4" stroke="#4b71a4" stroke-width="0.4"/>
<polygon points="836.3,186.9 825.6,191.2 824.0,189.3 833.5,181.9" fill="#5f8dc5" stroke="#5f8dc5" stroke-width="0.4"/>
<polygon points="825.6,191.2 820.7,203.2 820.6,195.9" fill="#6493cc" stroke="#6493cc" stroke-width="0.4"/>
<polygon points="854.1,190.8 859.4,187.5 865.2,198.3 862.2,199.2" fill="#527bb1" stroke="#527bb1" stroke-width="0.4"/>
<polygon points="842.5,183.8 847.5,180.3 849.9,185.4" fill="#527cb3" stroke="#527cb3" stroke-width="0.4"/>
<polygon points="862.2,199.2 865.3,205.6 861.9,212.2" fill="#4f77ac" stroke="#4f77ac" stroke-width="0.4"/>
<polygon points="836.3,186.9 833.5,181.9 842.5,183.8" fill="#5b87c0" stroke="#5b87c0" stroke-width="0.4"/>
<polygon points="849.9,185.4 859.4,187.5 854.1,190.8" fill="#527cb3" stroke="#527cb3" stroke-width="0.4"/>
<polygon points="828.4,202.9 824.1,210.1 820.7,203.2" fill="#6e9ed8" stroke="#6e9ed8" stroke-width="0.4"/>
<polygon points="834.8,192.9 828.4,202.9 820.7,203.2 825.6,191.2" fill="#71a0da" stroke="#71a0da" stroke-width="0.4"/>
<polygon points="854.3,208.5 861.9,212.2 855.7,217.0" fill="#5985be" stroke="#5985be" stroke-width="0.4"/>
<polygon points="834.8,192.9 825.6,191.2 836.3,186.9" fill="#6796d0" stroke="#6796d0" stroke-width="0.4"/>
<polygon points="852.7,196.8 862.2,199.2 861.9,212.2 854.3,208.5" fill="#5f8cc5" stroke="#5f8cc5" stroke-width="0.4"/>
<polygon points="854.1,190.8 862.2,199.2 852.7,196.8" fill="#5b87bf" stroke="#5b87bf" stroke-width="0.4"/>
<polygon points="828.4,202.9 830.4,215.7 824.1,210.1" fill="#8cb8f0" stroke="#8cb8f0" stroke-width="0.4"/>
<polygon points="854.3,208.5 855.7,217.0 847.5,219.4" fill="#6492cb" stroke="#6492cb" stroke-width="0.4"/>
<polygon points="846.5,199.9 839.1,198.3 834.8,192.9 836.3,186.9 842.5,183.8 849.9,185.4 854.1,190.8 852.7,196.8" fill="#6594cd" stroke="#6594cd" stroke-width="0.4"/>
<polygon points="840.3,210.1 838.6,218.9 830.4,215.7" fill="#8ab6f0" stroke="#8ab6f0" stroke-width="0.4"/>
<polygon points="840.3,210.1 847.5,219.4 838.6,218.9" fill="#6d9dd7" stroke="#6d9dd7" stroke-width="0.4"/>
<polygon points="839.1,198.3 828.4,202.9 834.8,192.9" fill="#8cb8f0" stroke="#8cb8f0" stroke-width="0.4"/>
<polygon points="839.1,198.3 840.3,210.1 830.4,215.7 828.4,202.9" fill="#d0e9fb" stroke="#d0e9fb" stroke-width="0.4"/>
<polygon points="846.5,199.9 854.3,208.5 847.5,219.4 840.3,210.1" fill="#709fd9" stroke="#709fd9" stroke-width="0.4"/>
<polygon points="852.7,196.8 854.3,208.5 846.5,199.9" fill="#6796d0" stroke="#6796d0" stroke-width="0.4"/>
<polygon points="846.5,199.9 840.3,210.1 839.1,198.3" fill="#8ab6f0" stroke="#8ab6f0" stroke-width="0.4"/>
<g transform="translate(699.3,197.9) rotate(-13.3)">
<path d="M-6.4,0 A6.4,6.4 0 0 1 6.4,0 L6.4,36.6 A6.4,4.2 0 0 1 -6.4,36.6 Z" fill="url(#gcap)"/>
<path d="M-6.4,0 L6.4,0 L6.4,36.6 A6.4,4.2 0 0 1 -6.4,36.6 Z" fill="url(#gsh)"/>
<circle r="6.4" fill="url(#gs2)"/>
</g>
<g transform="translate(872.3,198.5) rotate(13.0)">
<path d="M-6.4,0 A6.4,6.4 0 0 1 6.4,0 L6.4,36.4 A6.4,4.2 0 0 1 -6.4,36.4 Z" fill="url(#gcap)"/>
<path d="M-6.4,0 L6.4,0 L6.4,36.4 A6.4,4.2 0 0 1 -6.4,36.4 Z" fill="url(#gsh)"/>
<circle r="6.4" fill="url(#gs2)"/>
</g>
<polygon points="723.0,208.0 723.0,204.5 723.8,201.0 725.2,197.7 727.4,194.6 730.1,191.8 733.3,189.4 737.0,187.5 740.9,186.2 745.1,185.4 749.3,185.2 753.4,185.7 757.4,186.7 761.0,188.3 764.2,190.4 766.9,193.0 769.0,196.0 770.5,199.2 771.2,202.6 774.0,223.2 773.9,226.7 773.2,230.2 771.7,233.5 769.6,236.7 766.9,239.4 763.7,241.8 760.0,243.7 756.0,245.1 751.9,245.8 747.7,246.0 743.5,245.6 739.6,244.5 736.0,242.9 732.7,240.8 730.0,238.2 728.0,235.3 726.5,232.0 725.8,228.6" fill="url(#gcyl)" />
<polygon points="723.0,208.0 723.0,204.5 723.8,201.0 725.2,197.7 727.4,194.6 730.1,191.8 733.3,189.4 737.0,187.5 740.9,186.2 745.1,185.4 749.3,185.2 753.4,185.7 757.4,186.7 761.0,188.3 764.2,190.4 766.9,193.0 769.0,196.0 770.5,199.2 771.2,202.6 774.0,223.2 773.9,226.7 773.2,230.2 771.7,233.5 769.6,236.7 766.9,239.4 763.7,241.8 760.0,243.7 756.0,245.1 751.9,245.8 747.7,246.0 743.5,245.6 739.6,244.5 736.0,242.9 732.7,240.8 730.0,238.2 728.0,235.3 726.5,232.0 725.8,228.6" fill="url(#gsh)" />
<polygon points="736.8,223.9 733.2,222.3 729.9,220.1 727.2,217.6 725.2,214.6 723.7,211.4 723.0,208.0 723.0,204.5 723.8,201.0 725.2,197.7 727.4,194.6 730.1,191.8 733.3,189.4 737.0,187.5 740.9,186.2 745.1,185.4 749.3,185.2 753.4,185.7 757.4,186.7 761.0,188.3 764.2,190.4 766.9,193.0 769.0,196.0 770.5,199.2 771.2,202.6 771.2,206.1 770.4,209.6 769.0,212.9 766.8,216.0 764.1,218.8 760.9,221.2 757.2,223.1 753.3,224.4 749.1,225.2 744.9,225.4 740.7,224.9" fill="#d2a32c" />
<polygon points="724.2,205.1 724.2,204.6 724.4,203.1 724.8,201.1 725.5,199.2 726.4,197.3 727.5,195.6 729.4,193.2 730.4,192.3 731.7,191.2 732.1,190.8 739.9,184.8 754.2,184.7 760.8,188.9 762.6,190.1 763.9,191.1 764.2,191.4 765.7,192.9 767.0,194.6 768.0,196.3 768.4,197.2 768.8,198.1 769.4,200.0 769.7,202.0 769.8,203.9 769.8,204.4 769.6,205.9 769.2,207.9 768.5,209.8 767.6,211.7 766.5,213.5 765.1,215.2 763.6,216.8 762.3,217.9 761.9,218.2 760.0,219.5 758.0,220.6 755.8,221.6 754.7,222.0 753.6,222.3 751.2,222.9 748.9,223.3 746.5,223.4 745.9,223.4 744.1,223.4 741.8,223.2 739.5,222.7 737.3,222.0 735.2,221.2 733.2,220.2 731.4,219.0 730.1,218.0 729.7,217.6 728.3,216.1 727.0,214.5 726.0,212.7 725.5,211.8 725.2,210.9 724.6,209.0 724.3,207.1" fill="#5580b8" />
<polygon points="746.3,187.6 739.9,184.8 748.1,185.6 754.2,184.7" fill="#527bb2" stroke="#527bb2" stroke-width="0.4"/>
<polygon points="729.4,193.2 724.2,204.6 726.4,197.3" fill="#5b87bf" stroke="#5b87bf" stroke-width="0.4"/>
<polygon points="763.8,193.1 763.8,191.1 768.4,197.2" fill="#4b71a4" stroke="#4b71a4" stroke-width="0.4"/>
<polygon points="739.2,190.0 729.4,193.2 731.7,191.2 739.9,184.8" fill="#5b87c0" stroke="#5b87c0" stroke-width="0.4"/>
<polygon points="763.8,193.1 768.4,197.2 769.7,204.4" fill="#4b71a4" stroke="#4b71a4" stroke-width="0.4"/>
<polygon points="753.1,189.9 754.2,184.7 763.8,191.1 763.8,193.1" fill="#527bb1" stroke="#527bb1" stroke-width="0.4"/>
<polygon points="728.7,205.1 725.6,211.8 724.2,204.6" fill="#6492cb" stroke="#6492cb" stroke-width="0.4"/>
<polygon points="739.2,190.0 739.9,184.8 746.3,187.6" fill="#5985be" stroke="#5985be" stroke-width="0.4"/>
<polygon points="746.3,187.6 754.2,184.7 753.1,189.9" fill="#5580b8" stroke="#5580b8" stroke-width="0.4"/>
<polygon points="736.0,195.8 728.7,205.1 724.2,204.6 729.4,193.2" fill="#6898d1" stroke="#6898d1" stroke-width="0.4"/>
<polygon points="728.7,205.1 730.1,218.0 725.6,211.8" fill="#6c9cd6" stroke="#6c9cd6" stroke-width="0.4"/>
<polygon points="763.2,205.0 769.7,204.4 767.6,211.7" fill="#5179af" stroke="#5179af" stroke-width="0.4"/>
<polygon points="736.0,195.8 729.4,193.2 739.2,190.0" fill="#6492cb" stroke="#6492cb" stroke-width="0.4"/>
<polygon points="755.7,195.7 763.8,193.1 769.7,204.4 763.2,205.0" fill="#5a87bf" stroke="#5a87bf" stroke-width="0.4"/>
<polygon points="753.1,189.9 763.8,193.1 755.7,195.7" fill="#5985bd" stroke="#5985bd" stroke-width="0.4"/>
<polygon points="763.2,205.0 767.6,211.7 762.3,217.9" fill="#5a86be" stroke="#5a86be" stroke-width="0.4"/>
<polygon points="738.3,213.4 737.3,222.0 730.1,218.0" fill="#7ba9e3" stroke="#7ba9e3" stroke-width="0.4"/>
<polygon points="738.5,201.6 738.3,213.4 730.1,218.0 728.7,205.1" fill="#a6d3f7" stroke="#a6d3f7" stroke-width="0.4"/>
<polygon points="738.5,201.6 728.7,205.1 736.0,195.8" fill="#77a5df" stroke="#77a5df" stroke-width="0.4"/>
<polygon points="738.5,201.6 736.0,195.8 739.2,190.0 746.3,187.6 753.1,189.9 755.7,195.7 752.4,201.5 745.3,203.9" fill="#6897d1" stroke="#6897d1" stroke-width="0.4"/>
<polygon points="738.3,213.4 745.9,223.5 737.3,222.0" fill="#7aa8e2" stroke="#7aa8e2" stroke-width="0.4"/>
<polygon points="752.6,213.4 762.3,217.9 754.7,222.0" fill="#6391cb" stroke="#6391cb" stroke-width="0.4"/>
<polygon points="752.6,213.4 754.7,222.0 745.9,223.5" fill="#6b9bd5" stroke="#6b9bd5" stroke-width="0.4"/>
<polygon points="755.7,195.7 763.2,205.0 752.4,201.5" fill="#6391cb" stroke="#6391cb" stroke-width="0.4"/>
<polygon points="752.4,201.5 763.2,205.0 762.3,217.9 752.6,213.4" fill="#6897d1" stroke="#6897d1" stroke-width="0.4"/>
<polygon points="745.3,203.9 752.6,213.4 745.9,223.5 738.3,213.4" fill="#a2cff6" stroke="#a2cff6" stroke-width="0.4"/>
<polygon points="745.3,203.9 738.3,213.4 738.5,201.6" fill="#c5e4fa" stroke="#c5e4fa" stroke-width="0.4"/>
<polygon points="752.4,201.5 752.6,213.4 745.3,203.9" fill="#75a4de" stroke="#75a4de" stroke-width="0.4"/>
<polygon points="770.5,233.4 770.6,229.8 771.1,209.7 771.9,206.2 773.4,202.9 775.5,199.9 778.3,197.2 781.5,195.0 785.2,193.3 789.2,192.2 793.4,191.6 797.6,191.7 801.7,192.4 805.7,193.6 809.3,195.5 812.5,197.8 815.2,200.5 817.3,203.6 818.7,207.0 819.4,210.5 819.3,214.0 818.8,234.2 818.0,237.7 816.5,240.9 814.4,244.0 811.6,246.6 808.4,248.8 804.7,250.6 800.7,251.7 796.5,252.2 792.3,252.2 788.2,251.5 784.2,250.2 780.6,248.4 777.4,246.1 774.7,243.3 772.6,240.2 771.2,236.9" fill="url(#gcyl)" />
<polygon points="770.5,233.4 770.6,229.8 771.1,209.7 771.9,206.2 773.4,202.9 775.5,199.9 778.3,197.2 781.5,195.0 785.2,193.3 789.2,192.2 793.4,191.6 797.6,191.7 801.7,192.4 805.7,193.6 809.3,195.5 812.5,197.8 815.2,200.5 817.3,203.6 818.7,207.0 819.4,210.5 819.3,214.0 818.8,234.2 818.0,237.7 816.5,240.9 814.4,244.0 811.6,246.6 808.4,248.8 804.7,250.6 800.7,251.7 796.5,252.2 792.3,252.2 788.2,251.5 784.2,250.2 780.6,248.4 777.4,246.1 774.7,243.3 772.6,240.2 771.2,236.9" fill="url(#gsh)" />
<polygon points="797.0,232.1 792.8,232.0 788.7,231.3 784.7,230.0 781.1,228.2 777.9,225.9 775.2,223.1 773.1,220.0 771.7,216.7 771.0,213.2 771.1,209.7 771.9,206.2 773.4,202.9 775.5,199.9 778.3,197.2 781.5,195.0 785.2,193.3 789.2,192.1 793.4,191.6 797.6,191.7 801.7,192.4 805.7,193.6 809.3,195.5 812.5,197.8 815.2,200.5 817.3,203.6 818.7,207.0 819.4,210.5 819.3,214.0 818.5,217.5 817.0,220.8 814.9,223.8 812.1,226.4 808.9,228.7 805.2,230.4 801.2,231.5" fill="#d2a32c" />
<polygon points="772.4,210.4 772.6,208.4 773.0,206.4 773.5,205.0 773.7,204.5 774.6,202.7 775.8,200.9 777.1,199.3 777.9,198.5 781.1,195.4 793.9,190.1 807.5,193.9 812.6,198.8 814.1,200.4 815.3,202.1 815.6,202.6 816.3,204.0 817.1,205.8 817.7,207.8 818.0,209.8 818.0,211.8 817.9,213.8 817.4,215.8 816.9,217.2 816.7,217.7 815.8,219.5 814.7,221.2 813.3,222.9 812.5,223.7 811.8,224.4 810.0,225.8 808.1,226.9 806.1,228.0 805.5,228.2 803.9,228.8 801.6,229.5 799.3,229.9 797.0,230.1 794.6,230.2 792.2,230.0 789.8,229.6 788.1,229.2 787.5,229.0 785.3,228.2 783.2,227.3 781.3,226.1 780.3,225.5 779.5,224.8 777.8,223.3 776.4,221.7 775.1,220.0 774.8,219.6 774.1,218.2 773.3,216.3 772.7,214.3 772.4,212.4" fill="#5580b8" />
<polygon points="781.1,195.4 773.5,205.0 777.9,198.5" fill="#5681b9" stroke="#5681b9" stroke-width="0.4"/>
<polygon points="798.5,194.7 793.9,190.1 802.3,193.0 807.5,194.0" fill="#5078ae" stroke="#5078ae" stroke-width="0.4"/>
<polygon points="791.0,195.1 781.1,195.4 784.9,193.9 793.9,190.1" fill="#5783bb" stroke="#5783bb" stroke-width="0.4"/>
<polygon points="814.0,204.7 815.6,202.6 818.0,209.8" fill="#4b71a4" stroke="#4b71a4" stroke-width="0.4"/>
<polygon points="776.7,206.8 772.4,212.4 773.5,205.0" fill="#608dc6" stroke="#608dc6" stroke-width="0.4"/>
<polygon points="804.2,198.8 807.5,194.0 815.6,202.6 814.0,204.7" fill="#527bb2" stroke="#527bb2" stroke-width="0.4"/>
<polygon points="814.0,204.7 818.0,209.8 816.9,217.2" fill="#4b71a5" stroke="#4b71a5" stroke-width="0.4"/>
<polygon points="786.0,199.8 776.7,206.8 773.5,205.0 781.1,195.4" fill="#6593cd" stroke="#6593cd" stroke-width="0.4"/>
<polygon points="791.0,195.1 793.9,190.1 798.5,194.7" fill="#5682ba" stroke="#5682ba" stroke-width="0.4"/>
<polygon points="776.7,206.8 774.8,219.6 772.4,212.4" fill="#6898d1" stroke="#6898d1" stroke-width="0.4"/>
<polygon points="798.5,194.7 807.5,194.0 804.2,198.8" fill="#547eb6" stroke="#547eb6" stroke-width="0.4"/>
<polygon points="786.0,199.8 781.1,195.4 791.0,195.1" fill="#608ec7" stroke="#608ec7" stroke-width="0.4"/>
<polygon points="809.6,216.1 816.9,217.2 812.5,223.7" fill="#547fb6" stroke="#547fb6" stroke-width="0.4"/>
<polygon points="804.8,205.1 814.0,204.7 816.9,217.2 809.6,216.1" fill="#5d89c2" stroke="#5d89c2" stroke-width="0.4"/>
<polygon points="783.1,217.6 780.3,225.5 774.8,219.6" fill="#75a4de" stroke="#75a4de" stroke-width="0.4"/>
<polygon points="804.2,198.8 814.0,204.7 804.8,205.1" fill="#5a86bf" stroke="#5a86bf" stroke-width="0.4"/>
<polygon points="809.6,216.1 812.5,223.7 805.5,228.2" fill="#5e8bc4" stroke="#5e8bc4" stroke-width="0.4"/>
<polygon points="786.6,206.2 783.1,217.6 774.8,219.6 776.7,206.8" fill="#8bb7f0" stroke="#8bb7f0" stroke-width="0.4"/>
<polygon points="786.6,206.2 776.7,206.8 786.0,199.8" fill="#6d9dd7" stroke="#6d9dd7" stroke-width="0.4"/>
<polygon points="783.1,217.6 788.1,229.2 780.3,225.5" fill="#84b0ea" stroke="#84b0ea" stroke-width="0.4"/>
<polygon points="792.3,210.3 786.6,206.2 786.0,199.8 791.0,195.1 798.5,194.7 804.2,198.8 804.8,205.1 799.9,209.9" fill="#6796d0" stroke="#6796d0" stroke-width="0.4"/>
<polygon points="796.8,221.4 805.5,228.2 796.9,230.1" fill="#6796d0" stroke="#6796d0" stroke-width="0.4"/>
<polygon points="796.8,221.4 796.9,230.1 788.1,229.2" fill="#72a1db" stroke="#72a1db" stroke-width="0.4"/>
<polygon points="799.9,209.9 809.6,216.1 805.5,228.2 796.8,221.4" fill="#6b9bd4" stroke="#6b9bd4" stroke-width="0.4"/>
<polygon points="804.8,205.1 809.6,216.1 799.9,209.9" fill="#6594cd" stroke="#6594cd" stroke-width="0.4"/>
<polygon points="792.3,210.3 796.8,221.4 788.1,229.2 783.1,217.6" fill="#c9e6fb" stroke="#c9e6fb" stroke-width="0.4"/>
<polygon points="792.3,210.3 783.1,217.6 786.6,206.2" fill="#acd8f8" stroke="#acd8f8" stroke-width="0.4"/>
<polygon points="799.9,209.9 796.8,221.4 792.3,210.3" fill="#80ade7" stroke="#80ade7" stroke-width="0.4"/>
<g transform="translate(840.3,217.0) rotate(8.4)">
<path d="M-6.4,0 A6.4,6.4 0 0 1 6.4,0 L6.4,34.2 A6.4,4.2 0 0 1 -6.4,34.2 Z" fill="url(#gcap)"/>
<path d="M-6.4,0 L6.4,0 L6.4,34.2 A6.4,4.2 0 0 1 -6.4,34.2 Z" fill="url(#gsh)"/>
<circle r="6.4" fill="url(#gs2)"/>
</g>
<g transform="translate(735.0,217.2) rotate(-8.4)">
<path d="M-6.4,0 A6.4,6.4 0 0 1 6.4,0 L6.4,34.2 A6.4,4.2 0 0 1 -6.4,34.2 Z" fill="url(#gcap)"/>
<path d="M-6.4,0 L6.4,0 L6.4,34.2 A6.4,4.2 0 0 1 -6.4,34.2 Z" fill="url(#gsh)"/>
<circle r="6.4" fill="url(#gs2)"/>
</g>
<g transform="translate(797.3,225.7) rotate(1.6)">
<path d="M-6.4,0 A6.4,6.4 0 0 1 6.4,0 L6.4,33.0 A6.4,4.2 0 0 1 -6.4,33.0 Z" fill="url(#gcap)"/>
<path d="M-6.4,0 L6.4,0 L6.4,33.0 A6.4,4.2 0 0 1 -6.4,33.0 Z" fill="url(#gsh)"/>
<circle r="6.4" fill="url(#gs2)"/>
</g>
</g>
<use href="#pv" transform="translate(272.5,37.9)"/>
<rect x="52" y="305.8" width="262" height="3.9" rx="1.8" fill="#0a0a0a"/>
<rect x="465.6" y="219" width="4.1" height="112.6" rx="1.8" fill="#0a0a0a"/>
<rect x="768.3" y="448.8" width="4.1" height="128.2" rx="1.8" fill="#0a0a0a"/>
<g font-family="'Liberation Sans', sans-serif" font-weight="bold" fill="#0a0a0a" stroke="#0a0a0a" stroke-width="0.35" font-size="24.8">
<text x="186.2" y="335.0" text-anchor="middle" textLength="89.4" lengthAdjust="spacingAndGlyphs">8.5 mm</text>
<text x="470" y="353.9" text-anchor="middle" textLength="89.8" lengthAdjust="spacingAndGlyphs">4.6 mm</text>
<text x="715.9" y="505.2" textLength="35.5" lengthAdjust="spacingAndGlyphs">3.5</text>
<text x="715.9" y="541.3" textLength="44.9" lengthAdjust="spacingAndGlyphs">mm</text>
</g>
<rect x="216.7" y="742.0" width="140.5" height="40.6" fill="#fce4d6"/>
<rect x="216.7" y="782.6" width="140.5" height="39.2" fill="#fce4d6"/>
<rect x="216.7" y="821.8" width="140.5" height="39.9" fill="#fce4d6"/>
<rect x="216.7" y="861.7" width="140.5" height="39.5" fill="#fce4d6"/>
<rect x="216.7" y="901.2" width="140.5" height="38.7" fill="#fce4d6"/>
<rect x="357.2" y="742.0" width="153.4" height="40.6" fill="#c8c8c8"/>
<rect x="767.0" y="742.0" width="147.0" height="40.6" fill="#c8c8c8"/>
<rect x="630.8" y="742.0" width="136.2" height="40.6" fill="#ffff99"/>
<rect x="630.8" y="782.6" width="136.2" height="39.2" fill="#ffff99"/>
<rect x="630.8" y="821.8" width="136.2" height="39.9" fill="#ffff99"/>
<rect x="630.8" y="861.7" width="136.2" height="39.5" fill="#ffff99"/>
<rect x="630.8" y="901.2" width="136.2" height="38.7" fill="#ffff99"/>
<rect x="510.6" y="861.7" width="120.2" height="39.5" fill="#d2d2d2"/>
<rect x="510.6" y="901.2" width="120.2" height="38.7" fill="#d2d2d2"/>
<rect x="767.0" y="901.2" width="147.0" height="38.7" fill="#d9d9d9"/>
<rect x="216.7" y="741.5" width="697.3" height="1.0" fill="#c9c9c9"/>
<rect x="216.7" y="781.9" width="697.3" height="1.4" fill="#1c1c1c"/>
<rect x="216.7" y="821.1" width="697.3" height="1.4" fill="#1c1c1c"/>
<rect x="216.7" y="861.0" width="697.3" height="1.4" fill="#1c1c1c"/>
<rect x="216.7" y="900.5" width="697.3" height="1.4" fill="#1c1c1c"/>
<rect x="216.7" y="939.2" width="697.3" height="1.4" fill="#1c1c1c"/>
<rect x="216.2" y="742.0" width="1.0" height="197.9" fill="#d8c8c0"/>
<rect x="356.5" y="742.0" width="1.4" height="197.9" fill="#1c1c1c"/>
<rect x="509.9" y="742.0" width="1.4" height="197.9" fill="#1c1c1c"/>
<rect x="630.3" y="742.0" width="1.0" height="197.9" fill="#9a9a70"/>
<rect x="766.5" y="742.0" width="1.0" height="197.9" fill="#9a9a70"/>
<rect x="630.1" y="901.2" width="1.4" height="38.7" fill="#1c1c1c"/>
<rect x="913.3" y="742.0" width="1.4" height="197.9" fill="#1c1c1c"/>
<rect x="638" y="903" width="125.4" height="41" fill="#ffffff"/>
<g font-family="'Liberation Sans', sans-serif" fill="#1a1a1a">
<text x="225.9" y="771.3" textLength="123.1" lengthAdjust="spacingAndGlyphs" font-size="23.3" font-weight="bold">SIEVE SIZE</text>
<text x="366.7" y="771.3" textLength="137.4" lengthAdjust="spacingAndGlyphs" font-size="23.3" font-weight="bold">DIA WT/PC</text>
<text x="518.6" y="771.3" textLength="103.9" lengthAdjust="spacingAndGlyphs" font-size="23.3" font-weight="bold">DIA MM</text>
<text x="652.3" y="771.3" textLength="94.9" lengthAdjust="spacingAndGlyphs" font-size="23.3" font-weight="bold">DIA PCS</text>
<text x="795.6" y="771.3" textLength="91.4" lengthAdjust="spacingAndGlyphs" font-size="23.3" font-weight="bold">DIA WT</text>
<text x="223.7" y="812.3" textLength="62.1" lengthAdjust="spacingAndGlyphs" font-size="23.3">5-5.5</text>
<text x="434.2" y="812.3" textLength="69.9" lengthAdjust="spacingAndGlyphs" font-size="23.3">0.016</text>
<text x="571.7" y="812.3" textLength="51.9" lengthAdjust="spacingAndGlyphs" font-size="23.3">1.55</text>
<text x="732.2" y="812.3" textLength="27.6" lengthAdjust="spacingAndGlyphs" font-size="23.3">16</text>
<text x="854.0" y="812.3" textLength="53.4" lengthAdjust="spacingAndGlyphs" font-size="23.3">0.26</text>
<text x="223.7" y="851.9" textLength="62.1" lengthAdjust="spacingAndGlyphs" font-size="23.3">6-6.5</text>
<text x="434.2" y="851.9" textLength="69.4" lengthAdjust="spacingAndGlyphs" font-size="23.3">0.021</text>
<text x="571.7" y="851.9" textLength="51.9" lengthAdjust="spacingAndGlyphs" font-size="23.3">1.70</text>
<text x="747.2" y="851.9" textLength="12.6" lengthAdjust="spacingAndGlyphs" font-size="23.3">8</text>
<text x="854.0" y="851.9" textLength="53.4" lengthAdjust="spacingAndGlyphs" font-size="23.3">0.17</text>
<text x="517.9" y="891.2" textLength="57.3" lengthAdjust="spacingAndGlyphs" font-size="23.3">Total</text>
<text x="731.1" y="891.2" textLength="28.7" lengthAdjust="spacingAndGlyphs" font-size="23.3">24</text>
<text x="854.0" y="891.2" textLength="53.4" lengthAdjust="spacingAndGlyphs" font-size="23.3">0.42</text>
<text x="517.2" y="930.6" textLength="97.5" lengthAdjust="spacingAndGlyphs" font-size="23.3">Gold Wt</text>
<text x="654.1" y="934.2" textLength="84.2" lengthAdjust="spacingAndGlyphs" font-size="23.3" font-weight="bold">1.1 GM</text>
<text x="774.1" y="930.6" textLength="127.2" lengthAdjust="spacingAndGlyphs" font-size="23.3">Ratio: 2.36</text>
</g>
</svg>
<!--TABLE-->
</body></html>
